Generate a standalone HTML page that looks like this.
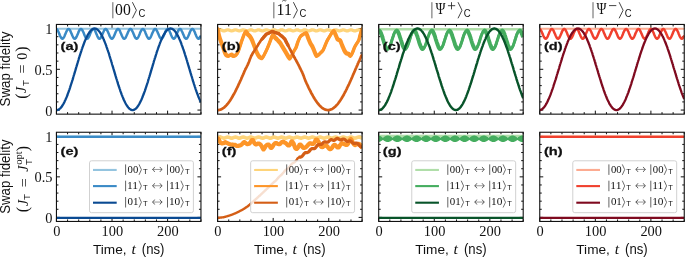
<!DOCTYPE html>
<html><head><meta charset="utf-8"><style>
html,body{margin:0;padding:0;background:#fff;width:685px;height:258px;overflow:hidden}
svg{display:block;will-change:transform}
text{fill:#111}
.tk{font-family:"Liberation Serif",serif;font-size:14.4px}
.xl{font-family:"Liberation Sans",sans-serif;font-size:13.6px}
.yl{font-family:"Liberation Sans",sans-serif;font-size:13.6px}
.ym{font-family:"Liberation Serif",serif;font-size:14px}
.it{font-family:"Liberation Serif",serif;font-style:italic}
.sub{font-family:"Liberation Sans",sans-serif;font-size:9.5px}
.sup{font-family:"Liberation Serif",serif;font-size:9px}
.pl{font-family:"Liberation Sans",sans-serif;font-size:13px;font-weight:bold}
.tt{font-family:"Liberation Serif",serif;font-size:17px}
.ts{font-family:"Liberation Sans",sans-serif;font-size:12.2px}
.tsup{font-family:"Liberation Serif",serif;font-size:13px}
.lg{font-family:"Liberation Serif",serif;font-size:11.4px}
.lgs{font-family:"Liberation Sans",sans-serif;font-size:8px}
.bh{opacity:1}
</style></head><body>
<svg width="685" height="258" viewBox="0 0 685 258">
<path d="M56.45,114.15v-3.50M56.45,24.45v3.50M67.57,114.15v-2.00M67.57,24.45v2.00M78.68,114.15v-2.00M78.68,24.45v2.00M89.80,114.15v-2.00M89.80,24.45v2.00M100.91,114.15v-2.00M100.91,24.45v2.00M112.03,114.15v-3.50M112.03,24.45v3.50M123.14,114.15v-2.00M123.14,24.45v2.00M134.26,114.15v-2.00M134.26,24.45v2.00M145.37,114.15v-2.00M145.37,24.45v2.00M156.49,114.15v-2.00M156.49,24.45v2.00M167.60,114.15v-3.50M167.60,24.45v3.50M178.72,114.15v-2.00M178.72,24.45v2.00M189.83,114.15v-2.00M189.83,24.45v2.00M200.95,114.15v-2.00M200.95,24.45v2.00M56.45,110.07h3.50M200.95,110.07h-3.50M56.45,101.92h2.00M200.95,101.92h-2.00M56.45,93.76h2.00M200.95,93.76h-2.00M56.45,85.61h2.00M200.95,85.61h-2.00M56.45,77.45h2.00M200.95,77.45h-2.00M56.45,69.30h3.50M200.95,69.30h-3.50M56.45,61.15h2.00M200.95,61.15h-2.00M56.45,52.99h2.00M200.95,52.99h-2.00M56.45,44.84h2.00M200.95,44.84h-2.00M56.45,36.68h2.00M200.95,36.68h-2.00M56.45,28.53h3.50M200.95,28.53h-3.50" stroke="#111" stroke-width="1.0" fill="none"/>
<clipPath id="c00"><rect x="56.45" y="24.45" width="144.50" height="89.70"/></clipPath>
<g clip-path="url(#c00)">
<path d="M56.45,28.75H200.95" stroke="#94c4df" stroke-width="2.1"/>
<path d="M56.5,29.1 56.7,29.2 57.0,29.5 57.3,29.8 57.6,30.3 57.9,30.8 58.2,31.4 58.5,32.0 58.8,32.7 59.1,33.4 59.3,34.1 59.6,34.8 59.9,35.5 60.2,36.1 60.5,36.7 60.8,37.3 61.1,37.7 61.4,38.1 61.7,38.4 62.0,38.6 62.2,38.7 62.5,38.7 62.8,38.6 63.1,38.3 63.4,38.0 63.7,37.6 64.0,37.1 64.3,36.6 64.6,35.9 64.8,35.3 65.1,34.6 65.4,33.9 65.7,33.2 66.0,32.5 66.3,31.8 66.6,31.2 66.9,30.6 67.2,30.1 67.5,29.7 67.7,29.4 68.0,29.2 68.3,29.0 68.6,29.0 68.9,29.1 69.2,29.3 69.5,29.6 69.8,29.9 70.1,30.4 70.3,30.9 70.6,31.5 70.9,32.2 71.2,32.9 71.5,33.6 71.8,34.3 72.1,35.0 72.4,35.7 72.7,36.3 73.0,36.9 73.2,37.4 73.5,37.8 73.8,38.2 74.1,38.5 74.4,38.6 74.7,38.7 75.0,38.7 75.3,38.5 75.6,38.3 75.9,37.9 76.1,37.5 76.4,37.0 76.7,36.4 77.0,35.8 77.3,35.1 77.6,34.4 77.9,33.7 78.2,33.0 78.5,32.3 78.7,31.6 79.0,31.0 79.3,30.5 79.6,30.0 79.9,29.6 80.2,29.3 80.5,29.1 80.8,29.0 81.1,29.0 81.4,29.1 81.6,29.3 81.9,29.6 82.2,30.0 82.5,30.5 82.8,31.1 83.1,31.7 83.4,32.3 83.7,33.0 84.0,33.7 84.2,34.5 84.5,35.1 84.8,35.8 85.1,36.4 85.4,37.0 85.7,37.5 86.0,37.9 86.3,38.3 86.6,38.5 86.9,38.7 87.1,38.7 87.4,38.6 87.7,38.5 88.0,38.2 88.3,37.8 88.6,37.4 88.9,36.8 89.2,36.3 89.5,35.6 89.8,34.9 90.0,34.2 90.3,33.5 90.6,32.8 90.9,32.1 91.2,31.5 91.5,30.9 91.8,30.4 92.1,29.9 92.4,29.5 92.6,29.3 92.9,29.1 93.2,29.0 93.5,29.0 93.8,29.2 94.1,29.4 94.4,29.7 94.7,30.1 95.0,30.6 95.3,31.2 95.5,31.8 95.8,32.5 96.1,33.2 96.4,33.9 96.7,34.6 97.0,35.3 97.3,36.0 97.6,36.6 97.9,37.2 98.1,37.6 98.4,38.0 98.7,38.4 99.0,38.6 99.3,38.7 99.6,38.7 99.9,38.6 100.2,38.4 100.5,38.1 100.8,37.7 101.0,37.2 101.3,36.7 101.6,36.1 101.9,35.4 102.2,34.8 102.5,34.1 102.8,33.3 103.1,32.6 103.4,32.0 103.7,31.3 103.9,30.8 104.2,30.2 104.5,29.8 104.8,29.5 105.1,29.2 105.4,29.0 105.7,29.0 106.0,29.1 106.3,29.2 106.5,29.5 106.8,29.8 107.1,30.3 107.4,30.8 107.7,31.4 108.0,32.0 108.3,32.7 108.6,33.4 108.9,34.1 109.2,34.8 109.4,35.5 109.7,36.1 110.0,36.7 110.3,37.3 110.6,37.7 110.9,38.1 111.2,38.4 111.5,38.6 111.8,38.7 112.0,38.7 112.3,38.6 112.6,38.3 112.9,38.0 113.2,37.6 113.5,37.1 113.8,36.6 114.1,35.9 114.4,35.3 114.7,34.6 114.9,33.9 115.2,33.2 115.5,32.5 115.8,31.8 116.1,31.2 116.4,30.6 116.7,30.1 117.0,29.7 117.3,29.4 117.6,29.2 117.8,29.0 118.1,29.0 118.4,29.1 118.7,29.3 119.0,29.6 119.3,29.9 119.6,30.4 119.9,30.9 120.2,31.5 120.4,32.2 120.7,32.9 121.0,33.6 121.3,34.3 121.6,35.0 121.9,35.7 122.2,36.3 122.5,36.9 122.8,37.4 123.1,37.8 123.3,38.2 123.6,38.5 123.9,38.6 124.2,38.7 124.5,38.7 124.8,38.5 125.1,38.3 125.4,37.9 125.7,37.5 125.9,37.0 126.2,36.4 126.5,35.8 126.8,35.1 127.1,34.4 127.4,33.7 127.7,33.0 128.0,32.3 128.3,31.6 128.6,31.0 128.8,30.5 129.1,30.0 129.4,29.6 129.7,29.3 130.0,29.1 130.3,29.0 130.6,29.0 130.9,29.1 131.2,29.3 131.5,29.6 131.7,30.0 132.0,30.5 132.3,31.1 132.6,31.7 132.9,32.3 133.2,33.0 133.5,33.7 133.8,34.4 134.1,35.1 134.3,35.8 134.6,36.4 134.9,37.0 135.2,37.5 135.5,37.9 135.8,38.3 136.1,38.5 136.4,38.7 136.7,38.7 137.0,38.6 137.2,38.5 137.5,38.2 137.8,37.8 138.1,37.4 138.4,36.9 138.7,36.3 139.0,35.6 139.3,34.9 139.6,34.2 139.8,33.5 140.1,32.8 140.4,32.1 140.7,31.5 141.0,30.9 141.3,30.4 141.6,29.9 141.9,29.5 142.2,29.3 142.5,29.1 142.7,29.0 143.0,29.0 143.3,29.2 143.6,29.4 143.9,29.7 144.2,30.1 144.5,30.6 144.8,31.2 145.1,31.8 145.4,32.5 145.6,33.2 145.9,33.9 146.2,34.6 146.5,35.3 146.8,36.0 147.1,36.6 147.4,37.1 147.7,37.6 148.0,38.0 148.2,38.3 148.5,38.6 148.8,38.7 149.1,38.7 149.4,38.6 149.7,38.4 150.0,38.1 150.3,37.7 150.6,37.3 150.9,36.7 151.1,36.1 151.4,35.5 151.7,34.8 152.0,34.1 152.3,33.3 152.6,32.6 152.9,32.0 153.2,31.3 153.5,30.8 153.7,30.2 154.0,29.8 154.3,29.5 154.6,29.2 154.9,29.0 155.2,29.0 155.5,29.1 155.8,29.2 156.1,29.5 156.4,29.8 156.6,30.3 156.9,30.8 157.2,31.4 157.5,32.0 157.8,32.7 158.1,33.4 158.4,34.1 158.7,34.8 159.0,35.5 159.3,36.1 159.5,36.7 159.8,37.3 160.1,37.7 160.4,38.1 160.7,38.4 161.0,38.6 161.3,38.7 161.6,38.7 161.9,38.6 162.1,38.3 162.4,38.0 162.7,37.6 163.0,37.1 163.3,36.6 163.6,35.9 163.9,35.3 164.2,34.6 164.5,33.9 164.8,33.2 165.0,32.5 165.3,31.8 165.6,31.2 165.9,30.6 166.2,30.1 166.5,29.7 166.8,29.4 167.1,29.2 167.4,29.0 167.6,29.0 167.9,29.1 168.2,29.3 168.5,29.5 168.8,29.9 169.1,30.4 169.4,30.9 169.7,31.5 170.0,32.2 170.3,32.8 170.5,33.6 170.8,34.3 171.1,35.0 171.4,35.6 171.7,36.3 172.0,36.9 172.3,37.4 172.6,37.8 172.9,38.2 173.2,38.5 173.4,38.6 173.7,38.7 174.0,38.7 174.3,38.5 174.6,38.3 174.9,37.9 175.2,37.5 175.5,37.0 175.8,36.4 176.0,35.8 176.3,35.1 176.6,34.4 176.9,33.7 177.2,33.0 177.5,32.3 177.8,31.6 178.1,31.0 178.4,30.5 178.7,30.0 178.9,29.6 179.2,29.3 179.5,29.1 179.8,29.0 180.1,29.0 180.4,29.1 180.7,29.3 181.0,29.6 181.3,30.0 181.5,30.5 181.8,31.1 182.1,31.7 182.4,32.3 182.7,33.0 183.0,33.7 183.3,34.4 183.6,35.1 183.9,35.8 184.2,36.4 184.4,37.0 184.7,37.5 185.0,37.9 185.3,38.3 185.6,38.5 185.9,38.7 186.2,38.7 186.5,38.6 186.8,38.5 187.1,38.2 187.3,37.8 187.6,37.4 187.9,36.9 188.2,36.3 188.5,35.6 188.8,34.9 189.1,34.2 189.4,33.5 189.7,32.8 189.9,32.1 190.2,31.5 190.5,30.9 190.8,30.4 191.1,29.9 191.4,29.5 191.7,29.3 192.0,29.1 192.3,29.0 192.6,29.0 192.8,29.2 193.1,29.4 193.4,29.7 193.7,30.1 194.0,30.6 194.3,31.2 194.6,31.8 194.9,32.5 195.2,33.2 195.4,33.9 195.7,34.6 196.0,35.3 196.3,36.0 196.6,36.6 196.9,37.1 197.2,37.6 197.5,38.0 197.8,38.3 198.1,38.6 198.3,38.7 198.6,38.7 198.9,38.6 199.2,38.4 199.5,38.1 199.8,37.7 200.1,37.3 200.4,36.7 200.7,36.1 200.9,35.5" fill="none" stroke="#3a8ac6" stroke-width="2.5" stroke-linejoin="round"/>
<path d="M56.5,110.1 56.7,110.1 57.0,110.1 57.3,110.0 57.6,110.0 57.9,109.9 58.2,109.8 58.5,109.6 58.8,109.5 59.1,109.3 59.3,109.1 59.6,108.9 59.9,108.6 60.2,108.4 60.5,108.1 60.8,107.8 61.1,107.4 61.4,107.1 61.7,106.7 62.0,106.3 62.2,105.9 62.5,105.4 62.8,104.9 63.1,104.5 63.4,104.0 63.7,103.4 64.0,102.9 64.3,102.3 64.6,101.7 64.8,101.1 65.1,100.5 65.4,99.9 65.7,99.2 66.0,98.6 66.3,97.9 66.6,97.2 66.9,96.4 67.2,95.7 67.5,95.0 67.7,94.2 68.0,93.4 68.3,92.6 68.6,91.8 68.9,91.0 69.2,90.1 69.5,89.3 69.8,88.4 70.1,87.6 70.3,86.7 70.6,85.8 70.9,84.9 71.2,84.0 71.5,83.1 71.8,82.2 72.1,81.2 72.4,80.3 72.7,79.4 73.0,78.4 73.2,77.4 73.5,76.5 73.8,75.5 74.1,74.6 74.4,73.6 74.7,72.6 75.0,71.6 75.3,70.7 75.6,69.7 75.9,68.7 76.1,67.7 76.4,66.8 76.7,65.8 77.0,64.8 77.3,63.8 77.6,62.9 77.9,61.9 78.2,60.9 78.5,60.0 78.7,59.0 79.0,58.1 79.3,57.2 79.6,56.2 79.9,55.3 80.2,54.4 80.5,53.5 80.8,52.6 81.1,51.7 81.4,50.8 81.6,50.0 81.9,49.1 82.2,48.3 82.5,47.4 82.8,46.6 83.1,45.8 83.4,45.0 83.7,44.2 84.0,43.5 84.2,42.7 84.5,42.0 84.8,41.3 85.1,40.6 85.4,39.9 85.7,39.2 86.0,38.6 86.3,37.9 86.6,37.3 86.9,36.7 87.1,36.1 87.4,35.6 87.7,35.0 88.0,34.5 88.3,34.0 88.6,33.5 88.9,33.1 89.2,32.6 89.5,32.2 89.8,31.8 90.0,31.5 90.3,31.1 90.6,30.8 90.9,30.5 91.2,30.2 91.5,29.9 91.8,29.7 92.1,29.5 92.4,29.3 92.6,29.1 92.9,28.9 93.2,28.8 93.5,28.7 93.8,28.6 94.1,28.6 94.4,28.5 94.7,28.5 95.0,28.5 95.3,28.6 95.5,28.6 95.8,28.7 96.1,28.8 96.4,29.0 96.7,29.1 97.0,29.3 97.3,29.5 97.6,29.7 97.9,30.0 98.1,30.2 98.4,30.5 98.7,30.8 99.0,31.2 99.3,31.5 99.6,31.9 99.9,32.3 100.2,32.7 100.5,33.2 100.8,33.6 101.0,34.1 101.3,34.6 101.6,35.1 101.9,35.7 102.2,36.2 102.5,36.8 102.8,37.4 103.1,38.0 103.4,38.7 103.7,39.3 103.9,40.0 104.2,40.7 104.5,41.4 104.8,42.1 105.1,42.9 105.4,43.6 105.7,44.4 106.0,45.2 106.3,45.9 106.5,46.8 106.8,47.6 107.1,48.4 107.4,49.3 107.7,50.1 108.0,51.0 108.3,51.9 108.6,52.7 108.9,53.6 109.2,54.5 109.4,55.5 109.7,56.4 110.0,57.3 110.3,58.3 110.6,59.2 110.9,60.2 111.2,61.1 111.5,62.1 111.8,63.0 112.0,64.0 112.3,65.0 112.6,65.9 112.9,66.9 113.2,67.9 113.5,68.9 113.8,69.8 114.1,70.8 114.4,71.8 114.7,72.8 114.9,73.7 115.2,74.7 115.5,75.7 115.8,76.6 116.1,77.6 116.4,78.6 116.7,79.5 117.0,80.5 117.3,81.4 117.6,82.3 117.8,83.2 118.1,84.2 118.4,85.1 118.7,86.0 119.0,86.8 119.3,87.7 119.6,88.6 119.9,89.4 120.2,90.3 120.4,91.1 120.7,91.9 121.0,92.7 121.3,93.5 121.6,94.3 121.9,95.1 122.2,95.8 122.5,96.6 122.8,97.3 123.1,98.0 123.3,98.7 123.6,99.3 123.9,100.0 124.2,100.6 124.5,101.2 124.8,101.8 125.1,102.4 125.4,103.0 125.7,103.5 125.9,104.0 126.2,104.5 126.5,105.0 126.8,105.5 127.1,105.9 127.4,106.3 127.7,106.7 128.0,107.1 128.3,107.5 128.6,107.8 128.8,108.1 129.1,108.4 129.4,108.7 129.7,108.9 130.0,109.1 130.3,109.3 130.6,109.5 130.9,109.7 131.2,109.8 131.5,109.9 131.7,110.0 132.0,110.0 132.3,110.1 132.6,110.1 132.9,110.1 133.2,110.0 133.5,110.0 133.8,109.9 134.1,109.8 134.3,109.6 134.6,109.5 134.9,109.3 135.2,109.1 135.5,108.9 135.8,108.7 136.1,108.4 136.4,108.1 136.7,107.8 137.0,107.5 137.2,107.1 137.5,106.7 137.8,106.3 138.1,105.9 138.4,105.5 138.7,105.0 139.0,104.5 139.3,104.0 139.6,103.5 139.8,102.9 140.1,102.4 140.4,101.8 140.7,101.2 141.0,100.6 141.3,100.0 141.6,99.3 141.9,98.6 142.2,97.9 142.5,97.2 142.7,96.5 143.0,95.8 143.3,95.0 143.6,94.3 143.9,93.5 144.2,92.7 144.5,91.9 144.8,91.1 145.1,90.2 145.4,89.4 145.6,88.5 145.9,87.7 146.2,86.8 146.5,85.9 146.8,85.0 147.1,84.1 147.4,83.2 147.7,82.3 148.0,81.3 148.2,80.4 148.5,79.4 148.8,78.5 149.1,77.5 149.4,76.6 149.7,75.6 150.0,74.7 150.3,73.7 150.6,72.7 150.9,71.7 151.1,70.8 151.4,69.8 151.7,68.8 152.0,67.8 152.3,66.9 152.6,65.9 152.9,64.9 153.2,63.9 153.5,63.0 153.7,62.0 154.0,61.0 154.3,60.1 154.6,59.1 154.9,58.2 155.2,57.3 155.5,56.3 155.8,55.4 156.1,54.5 156.4,53.6 156.6,52.7 156.9,51.8 157.2,50.9 157.5,50.1 157.8,49.2 158.1,48.4 158.4,47.5 158.7,46.7 159.0,45.9 159.3,45.1 159.5,44.3 159.8,43.6 160.1,42.8 160.4,42.1 160.7,41.4 161.0,40.6 161.3,40.0 161.6,39.3 161.9,38.6 162.1,38.0 162.4,37.4 162.7,36.8 163.0,36.2 163.3,35.6 163.6,35.1 163.9,34.6 164.2,34.1 164.5,33.6 164.8,33.1 165.0,32.7 165.3,32.3 165.6,31.9 165.9,31.5 166.2,31.1 166.5,30.8 166.8,30.5 167.1,30.2 167.4,29.9 167.6,29.7 167.9,29.5 168.2,29.3 168.5,29.1 168.8,29.0 169.1,28.8 169.4,28.7 169.7,28.6 170.0,28.6 170.3,28.5 170.5,28.5 170.8,28.5 171.1,28.6 171.4,28.6 171.7,28.7 172.0,28.8 172.3,28.9 172.6,29.1 172.9,29.3 173.2,29.5 173.4,29.7 173.7,29.9 174.0,30.2 174.3,30.5 174.6,30.8 174.9,31.1 175.2,31.5 175.5,31.9 175.8,32.3 176.0,32.7 176.3,33.1 176.6,33.6 176.9,34.1 177.2,34.6 177.5,35.1 177.8,35.6 178.1,36.2 178.4,36.8 178.7,37.4 178.9,38.0 179.2,38.6 179.5,39.3 179.8,39.9 180.1,40.6 180.4,41.3 180.7,42.0 181.0,42.8 181.3,43.5 181.5,44.3 181.8,45.1 182.1,45.9 182.4,46.7 182.7,47.5 183.0,48.3 183.3,49.2 183.6,50.0 183.9,50.9 184.2,51.8 184.4,52.7 184.7,53.5 185.0,54.5 185.3,55.4 185.6,56.3 185.9,57.2 186.2,58.2 186.5,59.1 186.8,60.1 187.1,61.0 187.3,62.0 187.6,62.9 187.9,63.9 188.2,64.9 188.5,65.8 188.8,66.8 189.1,67.8 189.4,68.8 189.7,69.7 189.9,70.7 190.2,71.7 190.5,72.7 190.8,73.6 191.1,74.6 191.4,75.6 191.7,76.5 192.0,77.5 192.3,78.5 192.6,79.4 192.8,80.4 193.1,81.3 193.4,82.2 193.7,83.1 194.0,84.1 194.3,85.0 194.6,85.9 194.9,86.8 195.2,87.6 195.4,88.5 195.7,89.4 196.0,90.2 196.3,91.0 196.6,91.9 196.9,92.7 197.2,93.5 197.5,94.2 197.8,95.0 198.1,95.8 198.3,96.5 198.6,97.2 198.9,97.9 199.2,98.6 199.5,99.3 199.8,99.9 200.1,100.6 200.4,101.2 200.7,101.8 200.9,102.4" fill="none" stroke="#0a4a92" stroke-width="2.3" stroke-linejoin="round"/>
</g>
<rect x="56.45" y="24.45" width="144.50" height="89.70" fill="none" stroke="#111" stroke-width="1.1"/>
<text transform="translate(60.62,49.95) scale(1.2380,1)" style="font-family:'Liberation Sans',sans-serif;font-weight:bold;font-size:11.801px;fill:#111;stroke:#111;stroke-width:0.25px">(a)</text>
<path d="M217.60,114.15v-3.50M217.60,24.45v3.50M228.72,114.15v-2.00M228.72,24.45v2.00M239.83,114.15v-2.00M239.83,24.45v2.00M250.95,114.15v-2.00M250.95,24.45v2.00M262.06,114.15v-2.00M262.06,24.45v2.00M273.18,114.15v-3.50M273.18,24.45v3.50M284.29,114.15v-2.00M284.29,24.45v2.00M295.41,114.15v-2.00M295.41,24.45v2.00M306.52,114.15v-2.00M306.52,24.45v2.00M317.64,114.15v-2.00M317.64,24.45v2.00M328.75,114.15v-3.50M328.75,24.45v3.50M339.87,114.15v-2.00M339.87,24.45v2.00M350.98,114.15v-2.00M350.98,24.45v2.00M362.10,114.15v-2.00M362.10,24.45v2.00M217.60,110.07h3.50M362.10,110.07h-3.50M217.60,101.92h2.00M362.10,101.92h-2.00M217.60,93.76h2.00M362.10,93.76h-2.00M217.60,85.61h2.00M362.10,85.61h-2.00M217.60,77.45h2.00M362.10,77.45h-2.00M217.60,69.30h3.50M362.10,69.30h-3.50M217.60,61.15h2.00M362.10,61.15h-2.00M217.60,52.99h2.00M362.10,52.99h-2.00M217.60,44.84h2.00M362.10,44.84h-2.00M217.60,36.68h2.00M362.10,36.68h-2.00M217.60,28.53h3.50M362.10,28.53h-3.50" stroke="#111" stroke-width="1.0" fill="none"/>
<clipPath id="c10"><rect x="217.60" y="24.45" width="144.50" height="89.70"/></clipPath>
<g clip-path="url(#c10)">
<path d="M217.6,30.6 217.8,30.5 218.1,30.4 218.3,30.3 218.6,30.2 218.8,30.1 219.0,30.0 219.3,29.9 219.5,29.9 219.8,29.9 220.0,29.9 220.3,29.9 220.5,29.9 220.7,29.9 221.0,30.0 221.2,30.1 221.5,30.1 221.7,30.2 221.9,30.3 222.2,30.4 222.4,30.5 222.7,30.6 222.9,30.7 223.1,30.8 223.4,30.8 223.6,30.8 223.9,30.8 224.1,30.8 224.4,30.8 224.6,30.8 224.8,30.7 225.1,30.6 225.3,30.6 225.6,30.5 225.8,30.4 226.0,30.3 226.3,30.2 226.5,30.1 226.8,30.0 227.0,29.9 227.2,29.9 227.5,29.9 227.7,29.9 228.0,29.9 228.2,29.9 228.5,29.9 228.7,30.0 228.9,30.1 229.2,30.1 229.4,30.2 229.7,30.3 229.9,30.4 230.1,30.5 230.4,30.6 230.6,30.7 230.9,30.8 231.1,30.8 231.4,30.8 231.6,30.8 231.8,30.8 232.1,30.8 232.3,30.8 232.6,30.7 232.8,30.6 233.0,30.6 233.3,30.5 233.5,30.4 233.8,30.3 234.0,30.2 234.2,30.1 234.5,30.0 234.7,29.9 235.0,29.9 235.2,29.9 235.5,29.9 235.7,29.9 235.9,29.9 236.2,29.9 236.4,30.0 236.7,30.1 236.9,30.2 237.1,30.2 237.4,30.3 237.6,30.4 237.9,30.5 238.1,30.6 238.3,30.7 238.6,30.8 238.8,30.8 239.1,30.8 239.3,30.8 239.6,30.8 239.8,30.8 240.0,30.8 240.3,30.7 240.5,30.6 240.8,30.5 241.0,30.5 241.2,30.4 241.5,30.3 241.7,30.2 242.0,30.1 242.2,30.0 242.4,29.9 242.7,29.9 242.9,29.9 243.2,29.9 243.4,29.9 243.7,29.9 243.9,29.9 244.1,30.0 244.4,30.1 244.6,30.2 244.9,30.3 245.1,30.4 245.3,30.4 245.6,30.5 245.8,30.6 246.1,30.7 246.3,30.8 246.5,30.8 246.8,30.8 247.0,30.8 247.3,30.8 247.5,30.8 247.8,30.8 248.0,30.7 248.2,30.6 248.5,30.5 248.7,30.4 249.0,30.3 249.2,30.2 249.4,30.2 249.7,30.1 249.9,30.0 250.2,29.9 250.4,29.9 250.6,29.9 250.9,29.9 251.1,29.9 251.4,29.9 251.6,29.9 251.9,30.0 252.1,30.1 252.3,30.2 252.6,30.3 252.8,30.4 253.1,30.5 253.3,30.5 253.5,30.6 253.8,30.7 254.0,30.8 254.3,30.8 254.5,30.8 254.8,30.8 255.0,30.8 255.2,30.8 255.5,30.8 255.7,30.7 256.0,30.6 256.2,30.5 256.4,30.4 256.7,30.3 256.9,30.2 257.2,30.1 257.4,30.1 257.6,30.0 257.9,29.9 258.1,29.9 258.4,29.9 258.6,29.9 258.9,29.9 259.1,29.9 259.3,29.9 259.6,30.0 259.8,30.1 260.1,30.2 260.3,30.3 260.5,30.4 260.8,30.5 261.0,30.6 261.3,30.6 261.5,30.7 261.7,30.8 262.0,30.8 262.2,30.8 262.5,30.8 262.7,30.8 263.0,30.8 263.2,30.8 263.4,30.7 263.7,30.6 263.9,30.5 264.2,30.4 264.4,30.3 264.6,30.2 264.9,30.1 265.1,30.1 265.4,30.0 265.6,29.9 265.8,29.9 266.1,29.9 266.3,29.9 266.6,29.9 266.8,29.9 267.1,29.9 267.3,30.0 267.5,30.1 267.8,30.2 268.0,30.3 268.3,30.4 268.5,30.5 268.7,30.6 269.0,30.6 269.2,30.7 269.5,30.8 269.7,30.8 269.9,30.8 270.2,30.8 270.4,30.8 270.7,30.8 270.9,30.8 271.2,30.7 271.4,30.6 271.6,30.5 271.9,30.4 272.1,30.3 272.4,30.2 272.6,30.1 272.8,30.0 273.1,30.0 273.3,29.9 273.6,29.9 273.8,29.9 274.0,29.9 274.3,29.9 274.5,29.9 274.8,30.0 275.0,30.0 275.3,30.1 275.5,30.2 275.7,30.3 276.0,30.4 276.2,30.5 276.5,30.6 276.7,30.7 276.9,30.7 277.2,30.8 277.4,30.8 277.7,30.8 277.9,30.8 278.2,30.8 278.4,30.8 278.6,30.7 278.9,30.7 279.1,30.6 279.4,30.5 279.6,30.4 279.8,30.3 280.1,30.2 280.3,30.1 280.6,30.0 280.8,30.0 281.0,29.9 281.3,29.9 281.5,29.9 281.8,29.9 282.0,29.9 282.3,29.9 282.5,30.0 282.7,30.0 283.0,30.1 283.2,30.2 283.5,30.3 283.7,30.4 283.9,30.5 284.2,30.6 284.4,30.7 284.7,30.7 284.9,30.8 285.1,30.8 285.4,30.8 285.6,30.8 285.9,30.8 286.1,30.8 286.4,30.7 286.6,30.7 286.8,30.6 287.1,30.5 287.3,30.4 287.6,30.3 287.8,30.2 288.0,30.1 288.3,30.0 288.5,30.0 288.8,29.9 289.0,29.9 289.2,29.9 289.5,29.9 289.7,29.9 290.0,29.9 290.2,30.0 290.5,30.0 290.7,30.1 290.9,30.2 291.2,30.3 291.4,30.4 291.7,30.5 291.9,30.6 292.1,30.7 292.4,30.7 292.6,30.8 292.9,30.8 293.1,30.8 293.3,30.8 293.6,30.8 293.8,30.8 294.1,30.7 294.3,30.7 294.6,30.6 294.8,30.5 295.0,30.4 295.3,30.3 295.5,30.2 295.8,30.1 296.0,30.0 296.2,30.0 296.5,29.9 296.7,29.9 297.0,29.9 297.2,29.9 297.4,29.9 297.7,29.9 297.9,30.0 298.2,30.0 298.4,30.1 298.7,30.2 298.9,30.3 299.1,30.4 299.4,30.5 299.6,30.6 299.9,30.7 300.1,30.7 300.3,30.8 300.6,30.8 300.8,30.8 301.1,30.8 301.3,30.8 301.5,30.8 301.8,30.7 302.0,30.7 302.3,30.6 302.5,30.5 302.8,30.4 303.0,30.3 303.2,30.2 303.5,30.1 303.7,30.0 304.0,30.0 304.2,29.9 304.4,29.9 304.7,29.9 304.9,29.9 305.2,29.9 305.4,29.9 305.7,30.0 305.9,30.0 306.1,30.1 306.4,30.2 306.6,30.3 306.9,30.4 307.1,30.5 307.3,30.6 307.6,30.7 307.8,30.7 308.1,30.8 308.3,30.8 308.5,30.8 308.8,30.8 309.0,30.8 309.3,30.8 309.5,30.7 309.8,30.7 310.0,30.6 310.2,30.5 310.5,30.4 310.7,30.3 311.0,30.2 311.2,30.1 311.4,30.0 311.7,30.0 311.9,29.9 312.2,29.9 312.4,29.9 312.6,29.9 312.9,29.9 313.1,29.9 313.4,30.0 313.6,30.1 313.9,30.1 314.1,30.2 314.3,30.3 314.6,30.4 314.8,30.5 315.1,30.6 315.3,30.7 315.5,30.8 315.8,30.8 316.0,30.8 316.3,30.8 316.5,30.8 316.7,30.8 317.0,30.8 317.2,30.7 317.5,30.6 317.7,30.6 318.0,30.5 318.2,30.4 318.4,30.3 318.7,30.2 318.9,30.1 319.2,30.0 319.4,29.9 319.6,29.9 319.9,29.9 320.1,29.9 320.4,29.9 320.6,29.9 320.8,29.9 321.1,30.0 321.3,30.1 321.6,30.1 321.8,30.2 322.1,30.3 322.3,30.4 322.5,30.5 322.8,30.6 323.0,30.7 323.3,30.8 323.5,30.8 323.7,30.8 324.0,30.8 324.2,30.8 324.5,30.8 324.7,30.8 324.9,30.7 325.2,30.6 325.4,30.6 325.7,30.5 325.9,30.4 326.2,30.3 326.4,30.2 326.6,30.1 326.9,30.0 327.1,29.9 327.4,29.9 327.6,29.9 327.8,29.9 328.1,29.9 328.3,29.9 328.6,29.9 328.8,30.0 329.1,30.1 329.3,30.1 329.5,30.2 329.8,30.3 330.0,30.4 330.3,30.5 330.5,30.6 330.7,30.7 331.0,30.8 331.2,30.8 331.5,30.8 331.7,30.8 331.9,30.8 332.2,30.8 332.4,30.8 332.7,30.7 332.9,30.6 333.2,30.5 333.4,30.5 333.6,30.4 333.9,30.3 334.1,30.2 334.4,30.1 334.6,30.0 334.8,29.9 335.1,29.9 335.3,29.9 335.6,29.9 335.8,29.9 336.0,29.9 336.3,29.9 336.5,30.0 336.8,30.1 337.0,30.2 337.3,30.2 337.5,30.3 337.7,30.4 338.0,30.5 338.2,30.6 338.5,30.7 338.7,30.8 338.9,30.8 339.2,30.8 339.4,30.8 339.7,30.8 339.9,30.8 340.1,30.8 340.4,30.7 340.6,30.6 340.9,30.5 341.1,30.4 341.4,30.3 341.6,30.3 341.8,30.2 342.1,30.1 342.3,30.0 342.6,29.9 342.8,29.9 343.0,29.9 343.3,29.9 343.5,29.9 343.8,29.9 344.0,29.9 344.2,30.0 344.5,30.1 344.7,30.2 345.0,30.3 345.2,30.4 345.5,30.5 345.7,30.5 345.9,30.6 346.2,30.7 346.4,30.8 346.7,30.8 346.9,30.8 347.1,30.8 347.4,30.8 347.6,30.8 347.9,30.8 348.1,30.7 348.3,30.6 348.6,30.5 348.8,30.4 349.1,30.3 349.3,30.2 349.6,30.1 349.8,30.1 350.0,30.0 350.3,29.9 350.5,29.9 350.8,29.9 351.0,29.9 351.2,29.9 351.5,29.9 351.7,29.9 352.0,30.0 352.2,30.1 352.5,30.2 352.7,30.3 352.9,30.4 353.2,30.5 353.4,30.6 353.7,30.6 353.9,30.7 354.1,30.8 354.4,30.8 354.6,30.8 354.9,30.8 355.1,30.8 355.3,30.8 355.6,30.8 355.8,30.7 356.1,30.6 356.3,30.5 356.6,30.4 356.8,30.3 357.0,30.2 357.3,30.1 357.5,30.1 357.8,30.0 358.0,29.9 358.2,29.9 358.5,29.9 358.7,29.9 359.0,29.9 359.2,29.9 359.4,29.9 359.7,30.0 359.9,30.1 360.2,30.2 360.4,30.3 360.7,30.4 360.9,30.5 361.1,30.6 361.4,30.6 361.6,30.7 361.9,30.8 362.1,30.8" fill="none" stroke="#fed47a" stroke-width="3.3" stroke-linejoin="round"/>
<path d="M217.00,28.50C217.12,28.67 217.40,28.52 217.70,29.50C218.00,30.48 218.43,32.88 218.80,34.40C219.17,35.92 219.55,37.45 219.90,38.60C220.25,39.75 220.38,39.92 220.90,41.30C221.42,42.68 222.30,44.92 223.00,46.90C223.70,48.88 224.52,51.82 225.10,53.20C225.68,54.58 225.92,54.73 226.50,55.20C227.08,55.67 227.80,56.10 228.60,56.00C229.40,55.90 230.50,54.60 231.30,54.60C232.10,54.60 232.70,55.88 233.40,56.00C234.10,56.12 234.98,55.55 235.50,55.30C236.02,55.05 236.07,55.08 236.50,54.50C236.93,53.92 237.48,53.30 238.10,51.80C238.72,50.30 239.50,47.58 240.20,45.50C240.90,43.42 241.60,41.27 242.30,39.30C243.00,37.33 243.82,34.98 244.40,33.70C244.98,32.42 245.22,31.48 245.80,31.60C246.38,31.72 247.20,33.58 247.90,34.40C248.60,35.22 249.32,35.57 250.00,36.50C250.68,37.43 251.32,38.50 252.00,40.00C252.68,41.50 253.40,43.65 254.10,45.50C254.80,47.35 255.50,49.47 256.20,51.10C256.90,52.73 257.65,54.25 258.30,55.30C258.95,56.35 259.45,56.93 260.10,57.40C260.75,57.87 261.50,58.57 262.20,58.10C262.90,57.63 263.60,55.88 264.30,54.60C265.00,53.32 265.70,51.92 266.40,50.40C267.10,48.88 267.80,47.23 268.50,45.50C269.20,43.77 269.92,41.75 270.60,40.00C271.28,38.25 271.92,35.47 272.60,35.00C273.28,34.53 273.88,36.37 274.70,37.20C275.52,38.03 276.62,39.08 277.50,40.00C278.38,40.92 279.23,41.67 280.00,42.70C280.77,43.73 281.40,45.03 282.10,46.20C282.80,47.37 283.50,48.53 284.20,49.70C284.90,50.87 285.60,52.03 286.30,53.20C287.00,54.37 287.78,55.80 288.40,56.70C289.02,57.60 289.42,58.83 290.00,58.60C290.58,58.37 291.25,56.55 291.90,55.30C292.55,54.05 293.22,52.38 293.90,51.10C294.58,49.82 295.30,49.23 296.00,47.60C296.70,45.97 297.40,43.10 298.10,41.30C298.80,39.50 299.53,37.83 300.20,36.80C300.87,35.77 301.43,35.62 302.10,35.10C302.77,34.58 303.50,33.97 304.20,33.70C304.90,33.43 305.60,32.68 306.30,33.50C307.00,34.32 307.70,36.95 308.40,38.60C309.10,40.25 309.80,42.02 310.50,43.40C311.20,44.78 311.92,45.50 312.60,46.90C313.28,48.30 313.95,50.32 314.60,51.80C315.25,53.28 315.87,55.27 316.50,55.80C317.13,56.33 317.67,55.55 318.40,55.00C319.13,54.45 320.13,53.27 320.90,52.50C321.67,51.73 322.30,51.57 323.00,50.40C323.70,49.23 324.40,47.13 325.10,45.50C325.80,43.87 326.52,41.98 327.20,40.60C327.88,39.22 328.52,38.35 329.20,37.20C329.88,36.05 330.60,34.75 331.30,33.70C332.00,32.65 332.70,30.78 333.40,30.90C334.10,31.02 334.80,33.00 335.50,34.40C336.20,35.80 336.83,38.27 337.60,39.30C338.37,40.33 339.33,39.57 340.10,40.60C340.87,41.63 341.50,43.87 342.20,45.50C342.90,47.13 343.60,49.12 344.30,50.40C345.00,51.68 345.70,52.62 346.40,53.20C347.10,53.78 347.80,53.43 348.50,53.90C349.20,54.37 349.92,56.23 350.60,56.00C351.28,55.77 351.92,54.02 352.60,52.50C353.28,50.98 354.00,48.42 354.70,46.90C355.40,45.38 356.10,44.57 356.80,43.40C357.50,42.23 358.32,41.40 358.90,39.90C359.48,38.40 359.83,36.02 360.30,34.40C360.77,32.78 361.17,31.43 361.70,30.20C362.23,28.97 363.20,27.53 363.50,27.00" fill="none" stroke="#fd9528" stroke-width="3.1" stroke-linejoin="round" transform="translate(0.35,-0.55)"/>
<path d="M217.00,28.50C217.12,28.67 217.40,28.52 217.70,29.50C218.00,30.48 218.43,32.88 218.80,34.40C219.17,35.92 219.55,37.45 219.90,38.60C220.25,39.75 220.38,39.92 220.90,41.30C221.42,42.68 222.30,44.92 223.00,46.90C223.70,48.88 224.52,51.82 225.10,53.20C225.68,54.58 225.92,54.73 226.50,55.20C227.08,55.67 227.80,56.10 228.60,56.00C229.40,55.90 230.50,54.60 231.30,54.60C232.10,54.60 232.70,55.88 233.40,56.00C234.10,56.12 234.98,55.55 235.50,55.30C236.02,55.05 236.07,55.08 236.50,54.50C236.93,53.92 237.48,53.30 238.10,51.80C238.72,50.30 239.50,47.58 240.20,45.50C240.90,43.42 241.60,41.27 242.30,39.30C243.00,37.33 243.82,34.98 244.40,33.70C244.98,32.42 245.22,31.48 245.80,31.60C246.38,31.72 247.20,33.58 247.90,34.40C248.60,35.22 249.32,35.57 250.00,36.50C250.68,37.43 251.32,38.50 252.00,40.00C252.68,41.50 253.40,43.65 254.10,45.50C254.80,47.35 255.50,49.47 256.20,51.10C256.90,52.73 257.65,54.25 258.30,55.30C258.95,56.35 259.45,56.93 260.10,57.40C260.75,57.87 261.50,58.57 262.20,58.10C262.90,57.63 263.60,55.88 264.30,54.60C265.00,53.32 265.70,51.92 266.40,50.40C267.10,48.88 267.80,47.23 268.50,45.50C269.20,43.77 269.92,41.75 270.60,40.00C271.28,38.25 271.92,35.47 272.60,35.00C273.28,34.53 273.88,36.37 274.70,37.20C275.52,38.03 276.62,39.08 277.50,40.00C278.38,40.92 279.23,41.67 280.00,42.70C280.77,43.73 281.40,45.03 282.10,46.20C282.80,47.37 283.50,48.53 284.20,49.70C284.90,50.87 285.60,52.03 286.30,53.20C287.00,54.37 287.78,55.80 288.40,56.70C289.02,57.60 289.42,58.83 290.00,58.60C290.58,58.37 291.25,56.55 291.90,55.30C292.55,54.05 293.22,52.38 293.90,51.10C294.58,49.82 295.30,49.23 296.00,47.60C296.70,45.97 297.40,43.10 298.10,41.30C298.80,39.50 299.53,37.83 300.20,36.80C300.87,35.77 301.43,35.62 302.10,35.10C302.77,34.58 303.50,33.97 304.20,33.70C304.90,33.43 305.60,32.68 306.30,33.50C307.00,34.32 307.70,36.95 308.40,38.60C309.10,40.25 309.80,42.02 310.50,43.40C311.20,44.78 311.92,45.50 312.60,46.90C313.28,48.30 313.95,50.32 314.60,51.80C315.25,53.28 315.87,55.27 316.50,55.80C317.13,56.33 317.67,55.55 318.40,55.00C319.13,54.45 320.13,53.27 320.90,52.50C321.67,51.73 322.30,51.57 323.00,50.40C323.70,49.23 324.40,47.13 325.10,45.50C325.80,43.87 326.52,41.98 327.20,40.60C327.88,39.22 328.52,38.35 329.20,37.20C329.88,36.05 330.60,34.75 331.30,33.70C332.00,32.65 332.70,30.78 333.40,30.90C334.10,31.02 334.80,33.00 335.50,34.40C336.20,35.80 336.83,38.27 337.60,39.30C338.37,40.33 339.33,39.57 340.10,40.60C340.87,41.63 341.50,43.87 342.20,45.50C342.90,47.13 343.60,49.12 344.30,50.40C345.00,51.68 345.70,52.62 346.40,53.20C347.10,53.78 347.80,53.43 348.50,53.90C349.20,54.37 349.92,56.23 350.60,56.00C351.28,55.77 351.92,54.02 352.60,52.50C353.28,50.98 354.00,48.42 354.70,46.90C355.40,45.38 356.10,44.57 356.80,43.40C357.50,42.23 358.32,41.40 358.90,39.90C359.48,38.40 359.83,36.02 360.30,34.40C360.77,32.78 361.17,31.43 361.70,30.20C362.23,28.97 363.20,27.53 363.50,27.00" fill="none" stroke="#fd9528" stroke-width="3.1" stroke-linejoin="round" transform="translate(-0.35,0.55)"/>
<path d="M217.6,110.1 217.9,110.1 218.2,110.1 218.5,110.0 218.8,110.0 219.0,110.0 219.3,109.9 219.6,109.9 219.9,109.8 220.2,109.7 220.5,109.6 220.8,109.5 221.1,109.4 221.4,109.2 221.7,109.1 221.9,109.0 222.2,108.8 222.5,108.6 222.8,108.4 223.1,108.2 223.4,108.0 223.7,107.8 224.0,107.6 224.3,107.4 224.5,107.1 224.8,106.9 225.1,106.6 225.4,106.3 225.7,106.0 226.0,105.7 226.3,105.4 226.6,105.1 226.9,104.8 227.2,104.4 227.4,104.1 227.7,103.7 228.0,103.4 228.3,103.0 228.6,102.6 228.9,102.2 229.2,101.8 229.5,101.4 229.8,101.0 230.1,100.5 230.3,100.1 230.6,99.7 230.9,99.2 231.2,98.8 231.5,98.3 231.8,97.8 232.1,97.3 232.4,96.8 232.7,96.3 232.9,95.8 233.2,95.3 233.5,94.8 233.8,94.2 234.1,93.7 234.4,93.2 234.7,92.6 235.0,92.1 235.3,91.5 235.6,90.9 235.8,90.4 236.1,89.8 236.4,89.2 236.7,88.6 237.0,88.0 237.3,87.4 237.6,86.8 237.9,86.2 238.2,85.6 238.4,85.0 238.7,84.3 239.0,83.7 239.3,83.1 239.6,82.4 239.9,81.8 240.2,81.2 240.5,80.5 240.8,79.9 241.1,79.2 241.3,78.6 241.6,77.9 241.9,77.2 242.2,76.6 242.5,75.9 242.8,75.2 243.1,74.6 243.4,73.9 243.7,73.2 244.0,72.6 244.2,71.9 244.5,71.2 244.8,70.6 245.1,70.0 245.4,69.3 245.7,68.8 246.0,68.2 246.3,67.6 246.6,67.1 246.8,66.6 247.1,66.0 247.4,65.4 247.7,64.8 248.0,64.1 248.3,63.4 248.6,62.7 248.9,62.0 249.2,61.2 249.5,60.5 249.7,59.7 250.0,59.0 250.3,58.3 250.6,57.5 250.9,56.8 251.2,56.0 251.5,55.5 251.8,55.0 252.1,54.5 252.3,54.0 252.6,53.5 252.9,53.0 253.2,52.5 253.5,52.0 253.8,51.6 254.1,51.2 254.4,50.7 254.7,50.3 255.0,49.9 255.2,49.4 255.5,49.0 255.8,48.5 256.1,48.0 256.4,47.5 256.7,47.1 257.0,46.6 257.3,46.1 257.6,45.7 257.9,45.2 258.1,44.8 258.4,44.3 258.7,43.9 259.0,43.4 259.3,42.9 259.6,42.5 259.9,42.0 260.2,41.5 260.5,41.1 260.7,40.7 261.0,40.3 261.3,40.0 261.6,39.6 261.9,39.3 262.2,38.9 262.5,38.6 262.8,38.2 263.1,37.9 263.4,37.6 263.6,37.2 263.9,36.9 264.2,36.5 264.5,36.2 264.8,35.9 265.1,35.5 265.4,35.2 265.7,34.8 266.0,34.4 266.2,34.2 266.5,34.1 266.8,34.0 267.1,33.8 267.4,33.7 267.7,33.6 268.0,33.5 268.3,33.3 268.6,33.2 268.9,33.1 269.1,33.0 269.4,32.8 269.7,32.7 270.0,32.5 270.3,32.4 270.6,32.2 270.9,32.1 271.2,31.9 271.5,31.8 271.8,31.6 272.0,31.5 272.3,31.5 272.6,31.6 272.9,31.7 273.2,31.8 273.5,31.9 273.8,32.0 274.1,32.1 274.4,32.2 274.6,32.3 274.9,32.5 275.2,32.6 275.5,32.7 275.8,32.7 276.1,32.8 276.4,32.9 276.7,33.0 277.0,33.1 277.3,33.2 277.5,33.3 277.8,33.3 278.1,33.4 278.4,33.5 278.7,33.7 279.0,34.0 279.3,34.2 279.6,34.4 279.9,34.6 280.1,34.9 280.4,35.1 280.7,35.3 281.0,35.5 281.3,35.8 281.6,36.0 281.9,36.3 282.2,36.5 282.5,36.8 282.8,37.1 283.0,37.3 283.3,37.6 283.6,37.9 283.9,38.2 284.2,38.4 284.5,38.7 284.8,39.1 285.1,39.7 285.4,40.2 285.7,40.8 285.9,41.3 286.2,41.9 286.5,42.4 286.8,43.0 287.1,43.5 287.4,44.1 287.7,44.6 288.0,45.2 288.3,45.7 288.5,46.3 288.8,46.9 289.1,47.5 289.4,48.0 289.7,48.6 290.0,49.2 290.3,49.8 290.6,50.3 290.9,50.9 291.2,51.5 291.4,52.0 291.7,52.5 292.0,53.0 292.3,53.5 292.6,54.1 292.9,54.6 293.2,55.1 293.5,55.6 293.8,56.2 294.0,56.7 294.3,57.2 294.6,57.8 294.9,58.3 295.2,58.8 295.5,59.4 295.8,59.9 296.1,60.5 296.4,61.0 296.7,61.5 296.9,62.0 297.2,62.5 297.5,63.0 297.8,63.6 298.1,64.1 298.4,64.7 298.7,65.3 299.0,65.9 299.3,66.5 299.6,67.1 299.8,67.7 300.1,68.3 300.4,68.8 300.7,69.4 301.0,70.0 301.3,70.6 301.6,71.2 301.9,71.7 302.2,72.3 302.4,73.0 302.7,73.6 303.0,74.4 303.3,75.1 303.6,75.8 303.9,76.6 304.2,77.5 304.5,78.3 304.8,79.1 305.1,79.9 305.3,80.6 305.6,81.2 305.9,81.8 306.2,82.5 306.5,83.1 306.8,83.8 307.1,84.4 307.4,85.0 307.7,85.6 307.9,86.2 308.2,86.8 308.5,87.5 308.8,88.1 309.1,88.7 309.4,89.2 309.7,89.8 310.0,90.4 310.3,91.0 310.6,91.5 310.8,92.1 311.1,92.7 311.4,93.2 311.7,93.8 312.0,94.3 312.3,94.8 312.6,95.3 312.9,95.9 313.2,96.4 313.5,96.9 313.7,97.4 314.0,97.8 314.3,98.3 314.6,98.8 314.9,99.2 315.2,99.7 315.5,100.1 315.8,100.6 316.1,101.0 316.3,101.4 316.6,101.8 316.9,102.2 317.2,102.6 317.5,103.0 317.8,103.4 318.1,103.8 318.4,104.1 318.7,104.5 319.0,104.8 319.2,105.1 319.5,105.4 319.8,105.7 320.1,106.0 320.4,106.3 320.7,106.6 321.0,106.9 321.3,107.1 321.6,107.4 321.8,107.6 322.1,107.8 322.4,108.0 322.7,108.3 323.0,108.4 323.3,108.6 323.6,108.8 323.9,109.0 324.2,109.1 324.5,109.3 324.7,109.4 325.0,109.5 325.3,109.6 325.6,109.7 325.9,109.8 326.2,109.9 326.5,109.9 326.8,110.0 327.1,110.0 327.4,110.0 327.6,110.1 327.9,110.1 328.2,110.1 328.5,110.1 328.8,110.0 329.1,110.0 329.4,109.9 329.7,109.9 330.0,109.8 330.2,109.7 330.5,109.6 330.8,109.5 331.1,109.4 331.4,109.3 331.7,109.2 332.0,109.0 332.3,108.9 332.6,108.7 332.9,108.5 333.1,108.3 333.4,108.1 333.7,107.9 334.0,107.7 334.3,107.4 334.6,107.2 334.9,107.0 335.2,106.7 335.5,106.4 335.7,106.1 336.0,105.8 336.3,105.5 336.6,105.2 336.9,104.9 337.2,104.6 337.5,104.2 337.8,103.9 338.1,103.5 338.4,103.1 338.6,102.8 338.9,102.4 339.2,102.0 339.5,101.6 339.8,101.1 340.1,100.7 340.4,100.3 340.7,99.8 341.0,99.4 341.3,98.9 341.5,98.5 341.8,98.0 342.1,97.5 342.4,97.0 342.7,96.5 343.0,96.0 343.3,95.5 343.6,95.0 343.9,94.5 344.1,93.9 344.4,93.4 344.7,92.8 345.0,92.3 345.3,91.7 345.6,91.2 345.9,90.6 346.2,90.0 346.5,89.4 346.8,88.8 347.0,88.2 347.3,87.6 347.6,87.0 347.9,86.4 348.2,85.8 348.5,85.2 348.8,84.6 349.1,84.0 349.4,83.3 349.6,82.7 349.9,82.1 350.2,81.4 350.5,80.8 350.8,80.1 351.1,79.5 351.4,78.8 351.7,78.2 352.0,77.5 352.3,76.8 352.5,76.2 352.8,75.5 353.1,74.8 353.4,74.2 353.7,73.5 354.0,72.8 354.3,72.2 354.6,71.5 354.9,70.8 355.2,70.1 355.4,69.5 355.7,68.8 356.0,68.1 356.3,67.5 356.6,66.8 356.9,66.1 357.2,65.4 357.5,64.8 357.8,64.1 358.0,63.4 358.3,62.8 358.6,62.1 358.9,61.4 359.2,60.8 359.5,60.1 359.8,59.5 360.1,58.8 360.4,58.2 360.7,57.5 360.9,56.9 361.2,56.2 361.5,55.6 361.8,55.0 362.1,54.3" fill="none" stroke="#d45e16" stroke-width="2.7" stroke-linejoin="round"/>
<path d="M262.2,38.9 262.5,38.6 262.8,38.2 263.1,37.9 263.4,37.6 263.6,37.2 263.9,36.9 264.2,36.5 264.5,36.2 264.8,35.9 265.1,35.5 265.4,35.2 265.7,34.8 266.0,34.4 266.2,34.2 266.5,34.1 266.8,34.0 267.1,33.8 267.4,33.7 267.7,33.6 268.0,33.5 268.3,33.3 268.6,33.2 268.9,33.1 269.1,33.0 269.4,32.8 269.7,32.7 270.0,32.5 270.3,32.4 270.6,32.2 270.9,32.1 271.2,31.9 271.5,31.8 271.8,31.6 272.0,31.5 272.3,31.5 272.6,31.6 272.9,31.7 273.2,31.8 273.5,31.9 273.8,32.0 274.1,32.1 274.4,32.2 274.6,32.3 274.9,32.5 275.2,32.6 275.5,32.7 275.8,32.7 276.1,32.8 276.4,32.9 276.7,33.0 277.0,33.1 277.3,33.2 277.5,33.3 277.8,33.3 278.1,33.4 278.4,33.5 278.7,33.7 279.0,34.0 279.3,34.2 279.6,34.4 279.9,34.6 280.1,34.9 280.4,35.1 280.7,35.3 281.0,35.5 281.3,35.8 281.6,36.0 281.9,36.3 282.2,36.5 282.5,36.8 282.8,37.1 283.0,37.3 283.3,37.6 283.6,37.9 283.9,38.2 284.2,38.4 284.5,38.7 284.8,39.1 285.1,39.7 285.4,40.2 285.7,40.8 285.9,41.3 286.2,41.9 286.5,42.4 286.8,43.0 287.1,43.5 287.4,44.1 287.7,44.6 288.0,45.2" fill="none" stroke="#d45e16" stroke-width="3.4" stroke-linejoin="round" stroke-linecap="round"/>
</g>
<rect x="217.60" y="24.45" width="144.50" height="89.70" fill="none" stroke="#111" stroke-width="1.1"/>
<text transform="translate(221.77,49.95) scale(1.2380,1)" style="font-family:'Liberation Sans',sans-serif;font-weight:bold;font-size:11.801px;fill:#111;stroke:#111;stroke-width:0.25px">(b)</text>
<path d="M378.70,114.15v-3.50M378.70,24.45v3.50M389.82,114.15v-2.00M389.82,24.45v2.00M400.93,114.15v-2.00M400.93,24.45v2.00M412.05,114.15v-2.00M412.05,24.45v2.00M423.16,114.15v-2.00M423.16,24.45v2.00M434.28,114.15v-3.50M434.28,24.45v3.50M445.39,114.15v-2.00M445.39,24.45v2.00M456.51,114.15v-2.00M456.51,24.45v2.00M467.62,114.15v-2.00M467.62,24.45v2.00M478.74,114.15v-2.00M478.74,24.45v2.00M489.85,114.15v-3.50M489.85,24.45v3.50M500.97,114.15v-2.00M500.97,24.45v2.00M512.08,114.15v-2.00M512.08,24.45v2.00M523.20,114.15v-2.00M523.20,24.45v2.00M378.70,110.07h3.50M523.20,110.07h-3.50M378.70,101.92h2.00M523.20,101.92h-2.00M378.70,93.76h2.00M523.20,93.76h-2.00M378.70,85.61h2.00M523.20,85.61h-2.00M378.70,77.45h2.00M523.20,77.45h-2.00M378.70,69.30h3.50M523.20,69.30h-3.50M378.70,61.15h2.00M523.20,61.15h-2.00M378.70,52.99h2.00M523.20,52.99h-2.00M378.70,44.84h2.00M523.20,44.84h-2.00M378.70,36.68h2.00M523.20,36.68h-2.00M378.70,28.53h3.50M523.20,28.53h-3.50" stroke="#111" stroke-width="1.0" fill="none"/>
<clipPath id="c20"><rect x="378.70" y="24.45" width="144.50" height="89.70"/></clipPath>
<g clip-path="url(#c20)">
<path d="M378.70,29.3H523.20" stroke="#b0dea9" stroke-width="2.6"/>
<path d="M378.7,30.1 379.0,30.0 379.3,30.0 379.6,30.1 379.9,30.3 380.1,30.5 380.4,30.9 380.7,31.3 381.0,31.9 381.3,32.5 381.6,33.1 381.9,33.9 382.2,34.7 382.5,35.5 382.8,36.4 383.0,37.3 383.3,38.2 383.6,39.2 383.9,40.1 384.2,41.1 384.5,42.0 384.8,42.8 385.1,43.7 385.4,44.5 385.6,45.2 385.9,45.9 386.2,46.5 386.5,47.0 386.8,47.4 387.1,47.7 387.4,48.0 387.7,48.1 388.0,48.2 388.3,48.2 388.5,48.0 388.8,47.8 389.1,47.5 389.4,47.0 389.7,46.5 390.0,46.0 390.3,45.3 390.6,44.6 390.9,43.8 391.2,43.0 391.4,42.1 391.7,41.2 392.0,40.3 392.3,39.3 392.6,38.4 392.9,37.5 393.2,36.6 393.5,35.7 393.8,34.8 394.0,34.0 394.3,33.3 394.6,32.6 394.9,31.9 395.2,31.4 395.5,30.9 395.8,30.6 396.1,30.3 396.4,30.1 396.7,30.0 396.9,30.0 397.2,30.1 397.5,30.3 397.8,30.6 398.1,31.0 398.4,31.5 398.7,32.0 399.0,32.6 399.3,33.3 399.5,34.1 399.8,34.9 400.1,35.8 400.4,36.7 400.7,37.6 401.0,38.5 401.3,39.5 401.6,40.4 401.9,41.3 402.2,42.2 402.4,43.1 402.7,43.9 403.0,44.7 403.3,45.4 403.6,46.0 403.9,46.6 404.2,47.1 404.5,47.5 404.8,47.8 405.1,48.0 405.3,48.2 405.6,48.2 405.9,48.1 406.2,48.0 406.5,47.7 406.8,47.3 407.1,46.9 407.4,46.4 407.7,45.8 407.9,45.1 408.2,44.4 408.5,43.6 408.8,42.7 409.1,41.9 409.4,40.9 409.7,40.0 410.0,39.1 410.3,38.1 410.6,37.2 410.8,36.3 411.1,35.4 411.4,34.6 411.7,33.8 412.0,33.0 412.3,32.4 412.6,31.8 412.9,31.3 413.2,30.8 413.4,30.5 413.7,30.2 414.0,30.1 414.3,30.0 414.6,30.0 414.9,30.2 415.2,30.4 415.5,30.7 415.8,31.1 416.1,31.6 416.3,32.2 416.6,32.8 416.9,33.6 417.2,34.3 417.5,35.2 417.8,36.0 418.1,36.9 418.4,37.9 418.7,38.8 419.0,39.7 419.2,40.7 419.5,41.6 419.8,42.5 420.1,43.3 420.4,44.1 420.7,44.9 421.0,45.6 421.3,46.2 421.6,46.8 421.8,47.2 422.1,47.6 422.4,47.9 422.7,48.1 423.0,48.2 423.3,48.2 423.6,48.1 423.9,47.9 424.2,47.6 424.5,47.2 424.7,46.8 425.0,46.2 425.3,45.6 425.6,44.9 425.9,44.1 426.2,43.3 426.5,42.5 426.8,41.6 427.1,40.7 427.3,39.7 427.6,38.8 427.9,37.9 428.2,36.9 428.5,36.0 428.8,35.2 429.1,34.3 429.4,33.6 429.7,32.8 430.0,32.2 430.2,31.6 430.5,31.1 430.8,30.7 431.1,30.4 431.4,30.2 431.7,30.0 432.0,30.0 432.3,30.1 432.6,30.2 432.9,30.5 433.1,30.8 433.4,31.3 433.7,31.8 434.0,32.4 434.3,33.0 434.6,33.8 434.9,34.6 435.2,35.4 435.5,36.3 435.7,37.2 436.0,38.1 436.3,39.1 436.6,40.0 436.9,40.9 437.2,41.9 437.5,42.7 437.8,43.6 438.1,44.4 438.4,45.1 438.6,45.8 438.9,46.4 439.2,46.9 439.5,47.4 439.8,47.7 440.1,48.0 440.4,48.1 440.7,48.2 441.0,48.2 441.2,48.0 441.5,47.8 441.8,47.5 442.1,47.1 442.4,46.6 442.7,46.0 443.0,45.4 443.3,44.7 443.6,43.9 443.9,43.1 444.1,42.2 444.4,41.3 444.7,40.4 445.0,39.5 445.3,38.5 445.6,37.6 445.9,36.7 446.2,35.8 446.5,34.9 446.8,34.1 447.0,33.3 447.3,32.6 447.6,32.0 447.9,31.5 448.2,31.0 448.5,30.6 448.8,30.3 449.1,30.1 449.4,30.0 449.6,30.0 449.9,30.1 450.2,30.3 450.5,30.6 450.8,30.9 451.1,31.4 451.4,31.9 451.7,32.6 452.0,33.3 452.3,34.0 452.5,34.8 452.8,35.7 453.1,36.6 453.4,37.5 453.7,38.4 454.0,39.3 454.3,40.3 454.6,41.2 454.9,42.1 455.1,43.0 455.4,43.8 455.7,44.6 456.0,45.3 456.3,46.0 456.6,46.5 456.9,47.0 457.2,47.5 457.5,47.8 457.8,48.0 458.0,48.2 458.3,48.2 458.6,48.1 458.9,48.0 459.2,47.7 459.5,47.4 459.8,47.0 460.1,46.5 460.4,45.9 460.7,45.2 460.9,44.5 461.2,43.7 461.5,42.8 461.8,42.0 462.1,41.1 462.4,40.1 462.7,39.2 463.0,38.2 463.3,37.3 463.5,36.4 463.8,35.5 464.1,34.7 464.4,33.9 464.7,33.1 465.0,32.5 465.3,31.9 465.6,31.3 465.9,30.9 466.2,30.5 466.4,30.3 466.7,30.1 467.0,30.0 467.3,30.0 467.6,30.1 467.9,30.4 468.2,30.7 468.5,31.1 468.8,31.6 469.0,32.1 469.3,32.8 469.6,33.5 469.9,34.2 470.2,35.1 470.5,35.9 470.8,36.8 471.1,37.7 471.4,38.7 471.7,39.6 471.9,40.6 472.2,41.5 472.5,42.4 472.8,43.2 473.1,44.0 473.4,44.8 473.7,45.5 474.0,46.1 474.3,46.7 474.6,47.2 474.8,47.6 475.1,47.9 475.4,48.1 475.7,48.2 476.0,48.2 476.3,48.1 476.6,47.9 476.9,47.7 477.2,47.3 477.4,46.8 477.7,46.3 478.0,45.7 478.3,45.0 478.6,44.2 478.9,43.4 479.2,42.6 479.5,41.7 479.8,40.8 480.1,39.9 480.3,38.9 480.6,38.0 480.9,37.0 481.2,36.1 481.5,35.3 481.8,34.4 482.1,33.7 482.4,32.9 482.7,32.3 482.9,31.7 483.2,31.2 483.5,30.8 483.8,30.4 484.1,30.2 484.4,30.0 484.7,30.0 485.0,30.1 485.3,30.2 485.6,30.4 485.8,30.8 486.1,31.2 486.4,31.7 486.7,32.3 487.0,33.0 487.3,33.7 487.6,34.5 487.9,35.3 488.2,36.2 488.5,37.1 488.7,38.0 489.0,39.0 489.3,39.9 489.6,40.8 489.9,41.7 490.2,42.6 490.5,43.5 490.8,44.3 491.1,45.0 491.3,45.7 491.6,46.3 491.9,46.8 492.2,47.3 492.5,47.7 492.8,47.9 493.1,48.1 493.4,48.2 493.7,48.2 494.0,48.1 494.2,47.9 494.5,47.6 494.8,47.2 495.1,46.7 495.4,46.1 495.7,45.5 496.0,44.8 496.3,44.0 496.6,43.2 496.8,42.3 497.1,41.4 497.4,40.5 497.7,39.6 498.0,38.6 498.3,37.7 498.6,36.8 498.9,35.9 499.2,35.0 499.5,34.2 499.7,33.4 500.0,32.7 500.3,32.1 500.6,31.5 500.9,31.1 501.2,30.7 501.5,30.3 501.8,30.1 502.1,30.0 502.4,30.0 502.6,30.1 502.9,30.3 503.2,30.5 503.5,30.9 503.8,31.3 504.1,31.9 504.4,32.5 504.7,33.2 505.0,33.9 505.2,34.7 505.5,35.6 505.8,36.4 506.1,37.4 506.4,38.3 506.7,39.2 507.0,40.2 507.3,41.1 507.6,42.0 507.9,42.9 508.1,43.7 508.4,44.5 508.7,45.2 509.0,45.9 509.3,46.5 509.6,47.0 509.9,47.4 510.2,47.8 510.5,48.0 510.7,48.1 511.0,48.2 511.3,48.2 511.6,48.0 511.9,47.8 512.2,47.4 512.5,47.0 512.8,46.5 513.1,45.9 513.4,45.3 513.6,44.6 513.9,43.8 514.2,42.9 514.5,42.1 514.8,41.2 515.1,40.2 515.4,39.3 515.7,38.4 516.0,37.4 516.3,36.5 516.5,35.6 516.8,34.8 517.1,34.0 517.4,33.2 517.7,32.5 518.0,31.9 518.3,31.4 518.6,30.9 518.9,30.6 519.1,30.3 519.4,30.1 519.7,30.0 520.0,30.0 520.3,30.1 520.6,30.3 520.9,30.6 521.2,31.0 521.5,31.5 521.8,32.0 522.0,32.7 522.3,33.4 522.6,34.1 522.9,35.0 523.2,35.8" fill="none" stroke="#45ad5f" stroke-width="2.8" stroke-linejoin="round"/>
<path d="M378.7,30.1 379.0,30.0 379.3,30.0 379.6,30.1 379.9,30.3 380.1,30.5 380.4,30.9 380.7,31.3 381.0,31.9 381.3,32.5 381.6,33.1 381.9,33.9 382.2,34.7 382.5,35.5 382.8,36.4 383.0,37.3 383.3,38.2 383.6,39.2 383.9,40.1 384.2,41.1 384.5,42.0 384.8,42.8 385.1,43.7 385.4,44.5 385.6,45.2 385.9,45.9 386.2,46.5 386.5,47.0 386.8,47.4 387.1,47.7 387.4,48.0 387.7,48.1 388.0,48.2 388.3,48.2 388.5,48.0 388.8,47.8 389.1,47.5 389.4,47.0 389.7,46.5 390.0,46.0 390.3,45.3 390.6,44.6 390.9,43.8 391.2,43.0 391.4,42.1 391.7,41.2 392.0,40.3 392.3,39.3 392.6,38.4 392.9,37.5 393.2,36.6 393.5,35.7 393.8,34.8 394.0,34.0 394.3,33.3 394.6,32.6 394.9,31.9 395.2,31.4 395.5,30.9 395.8,30.6 396.1,30.3 396.4,30.1 396.7,30.0 396.9,30.0 397.2,30.1 397.5,30.3 397.8,30.6 398.1,31.0 398.4,31.5 398.7,32.0 399.0,32.6 399.3,33.3 399.5,34.1 399.8,34.9 400.1,35.8 400.4,36.7 400.7,37.6 401.0,38.5 401.3,39.5 401.6,40.4 401.9,41.3 402.2,42.2 402.4,43.1 402.7,43.9 403.0,44.7 403.3,45.4 403.6,46.0 403.9,46.6 404.2,47.1 404.5,47.5 404.8,47.8 405.1,48.0 405.3,48.2 405.6,48.2 405.9,48.1 406.2,48.0 406.5,47.7 406.8,47.3 407.1,46.9 407.4,46.4 407.7,45.8 407.9,45.1 408.2,44.4 408.5,43.6 408.8,42.7 409.1,41.9 409.4,40.9 409.7,40.0 410.0,39.1 410.3,38.1 410.6,37.2 410.8,36.3 411.1,35.4 411.4,34.6 411.7,33.8 412.0,33.0 412.3,32.4 412.6,31.8 412.9,31.3 413.2,30.8 413.4,30.5 413.7,30.2 414.0,30.1 414.3,30.0 414.6,30.0 414.9,30.2 415.2,30.4 415.5,30.7 415.8,31.1 416.1,31.6 416.3,32.2 416.6,32.8 416.9,33.6 417.2,34.3 417.5,35.2 417.8,36.0 418.1,36.9 418.4,37.9 418.7,38.8 419.0,39.7 419.2,40.7 419.5,41.6 419.8,42.5 420.1,43.3 420.4,44.1 420.7,44.9 421.0,45.6 421.3,46.2 421.6,46.8 421.8,47.2 422.1,47.6 422.4,47.9 422.7,48.1 423.0,48.2 423.3,48.2 423.6,48.1 423.9,47.9 424.2,47.6 424.5,47.2 424.7,46.8 425.0,46.2 425.3,45.6 425.6,44.9 425.9,44.1 426.2,43.3 426.5,42.5 426.8,41.6 427.1,40.7 427.3,39.7 427.6,38.8 427.9,37.9 428.2,36.9 428.5,36.0 428.8,35.2 429.1,34.3 429.4,33.6 429.7,32.8 430.0,32.2 430.2,31.6 430.5,31.1 430.8,30.7 431.1,30.4 431.4,30.2 431.7,30.0 432.0,30.0 432.3,30.1 432.6,30.2 432.9,30.5 433.1,30.8 433.4,31.3 433.7,31.8 434.0,32.4 434.3,33.0 434.6,33.8 434.9,34.6 435.2,35.4 435.5,36.3 435.7,37.2 436.0,38.1 436.3,39.1 436.6,40.0 436.9,40.9 437.2,41.9 437.5,42.7 437.8,43.6 438.1,44.4 438.4,45.1 438.6,45.8 438.9,46.4 439.2,46.9 439.5,47.4 439.8,47.7 440.1,48.0 440.4,48.1 440.7,48.2 441.0,48.2 441.2,48.0 441.5,47.8 441.8,47.5 442.1,47.1 442.4,46.6 442.7,46.0 443.0,45.4 443.3,44.7 443.6,43.9 443.9,43.1 444.1,42.2 444.4,41.3 444.7,40.4 445.0,39.5 445.3,38.5 445.6,37.6 445.9,36.7 446.2,35.8 446.5,34.9 446.8,34.1 447.0,33.3 447.3,32.6 447.6,32.0 447.9,31.5 448.2,31.0 448.5,30.6 448.8,30.3 449.1,30.1 449.4,30.0 449.6,30.0 449.9,30.1 450.2,30.3 450.5,30.6 450.8,30.9 451.1,31.4 451.4,31.9 451.7,32.6 452.0,33.3 452.3,34.0 452.5,34.8 452.8,35.7 453.1,36.6 453.4,37.5 453.7,38.4 454.0,39.3 454.3,40.3 454.6,41.2 454.9,42.1 455.1,43.0 455.4,43.8 455.7,44.6 456.0,45.3 456.3,46.0 456.6,46.5 456.9,47.0 457.2,47.5 457.5,47.8 457.8,48.0 458.0,48.2 458.3,48.2 458.6,48.1 458.9,48.0 459.2,47.7 459.5,47.4 459.8,47.0 460.1,46.5 460.4,45.9 460.7,45.2 460.9,44.5 461.2,43.7 461.5,42.8 461.8,42.0 462.1,41.1 462.4,40.1 462.7,39.2 463.0,38.2 463.3,37.3 463.5,36.4 463.8,35.5 464.1,34.7 464.4,33.9 464.7,33.1 465.0,32.5 465.3,31.9 465.6,31.3 465.9,30.9 466.2,30.5 466.4,30.3 466.7,30.1 467.0,30.0 467.3,30.0 467.6,30.1 467.9,30.4 468.2,30.7 468.5,31.1 468.8,31.6 469.0,32.1 469.3,32.8 469.6,33.5 469.9,34.2 470.2,35.1 470.5,35.9 470.8,36.8 471.1,37.7 471.4,38.7 471.7,39.6 471.9,40.6 472.2,41.5 472.5,42.4 472.8,43.2 473.1,44.0 473.4,44.8 473.7,45.5 474.0,46.1 474.3,46.7 474.6,47.2 474.8,47.6 475.1,47.9 475.4,48.1 475.7,48.2 476.0,48.2 476.3,48.1 476.6,47.9 476.9,47.7 477.2,47.3 477.4,46.8 477.7,46.3 478.0,45.7 478.3,45.0 478.6,44.2 478.9,43.4 479.2,42.6 479.5,41.7 479.8,40.8 480.1,39.9 480.3,38.9 480.6,38.0 480.9,37.0 481.2,36.1 481.5,35.3 481.8,34.4 482.1,33.7 482.4,32.9 482.7,32.3 482.9,31.7 483.2,31.2 483.5,30.8 483.8,30.4 484.1,30.2 484.4,30.0 484.7,30.0 485.0,30.1 485.3,30.2 485.6,30.4 485.8,30.8 486.1,31.2 486.4,31.7 486.7,32.3 487.0,33.0 487.3,33.7 487.6,34.5 487.9,35.3 488.2,36.2 488.5,37.1 488.7,38.0 489.0,39.0 489.3,39.9 489.6,40.8 489.9,41.7 490.2,42.6 490.5,43.5 490.8,44.3 491.1,45.0 491.3,45.7 491.6,46.3 491.9,46.8 492.2,47.3 492.5,47.7 492.8,47.9 493.1,48.1 493.4,48.2 493.7,48.2 494.0,48.1 494.2,47.9 494.5,47.6 494.8,47.2 495.1,46.7 495.4,46.1 495.7,45.5 496.0,44.8 496.3,44.0 496.6,43.2 496.8,42.3 497.1,41.4 497.4,40.5 497.7,39.6 498.0,38.6 498.3,37.7 498.6,36.8 498.9,35.9 499.2,35.0 499.5,34.2 499.7,33.4 500.0,32.7 500.3,32.1 500.6,31.5 500.9,31.1 501.2,30.7 501.5,30.3 501.8,30.1 502.1,30.0 502.4,30.0 502.6,30.1 502.9,30.3 503.2,30.5 503.5,30.9 503.8,31.3 504.1,31.9 504.4,32.5 504.7,33.2 505.0,33.9 505.2,34.7 505.5,35.6 505.8,36.4 506.1,37.4 506.4,38.3 506.7,39.2 507.0,40.2 507.3,41.1 507.6,42.0 507.9,42.9 508.1,43.7 508.4,44.5 508.7,45.2 509.0,45.9 509.3,46.5 509.6,47.0 509.9,47.4 510.2,47.8 510.5,48.0 510.7,48.1 511.0,48.2 511.3,48.2 511.6,48.0 511.9,47.8 512.2,47.4 512.5,47.0 512.8,46.5 513.1,45.9 513.4,45.3 513.6,44.6 513.9,43.8 514.2,42.9 514.5,42.1 514.8,41.2 515.1,40.2 515.4,39.3 515.7,38.4 516.0,37.4 516.3,36.5 516.5,35.6 516.8,34.8 517.1,34.0 517.4,33.2 517.7,32.5 518.0,31.9 518.3,31.4 518.6,30.9 518.9,30.6 519.1,30.3 519.4,30.1 519.7,30.0 520.0,30.0 520.3,30.1 520.6,30.3 520.9,30.6 521.2,31.0 521.5,31.5 521.8,32.0 522.0,32.7 522.3,33.4 522.6,34.1 522.9,35.0 523.2,35.8" fill="none" stroke="#45ad5f" stroke-width="2.8" stroke-linejoin="round" transform="translate(-0.7,1.4)"/>
<path d="M378.7,110.1 379.0,110.1 379.3,110.1 379.6,110.0 379.9,110.0 380.1,109.9 380.4,109.8 380.7,109.7 381.0,109.5 381.3,109.4 381.6,109.2 381.9,108.9 382.2,108.7 382.5,108.5 382.8,108.2 383.0,107.9 383.3,107.5 383.6,107.2 383.9,106.8 384.2,106.4 384.5,106.0 384.8,105.6 385.1,105.2 385.4,104.7 385.6,104.2 385.9,103.7 386.2,103.2 386.5,102.6 386.8,102.1 387.1,101.5 387.4,100.9 387.7,100.2 388.0,99.6 388.3,99.0 388.5,98.3 388.8,97.6 389.1,96.9 389.4,96.2 389.7,95.4 390.0,94.7 390.3,93.9 390.6,93.2 390.9,92.4 391.2,91.6 391.4,90.8 391.7,89.9 392.0,89.1 392.3,88.2 392.6,87.4 392.9,86.5 393.2,85.6 393.5,84.7 393.8,83.9 394.0,82.9 394.3,82.0 394.6,81.1 394.9,80.2 395.2,79.3 395.5,78.3 395.8,77.4 396.1,76.4 396.4,75.5 396.7,74.5 396.9,73.6 397.2,72.6 397.5,71.6 397.8,70.7 398.1,69.7 398.4,68.7 398.7,67.8 399.0,66.8 399.3,65.9 399.5,64.9 399.8,63.9 400.1,63.0 400.4,62.0 400.7,61.1 401.0,60.1 401.3,59.2 401.6,58.3 401.9,57.3 402.2,56.4 402.4,55.5 402.7,54.6 403.0,53.7 403.3,52.8 403.6,52.0 403.9,51.1 404.2,50.2 404.5,49.4 404.8,48.5 405.1,47.7 405.3,46.9 405.6,46.1 405.9,45.3 406.2,44.5 406.5,43.8 406.8,43.0 407.1,42.3 407.4,41.6 407.7,40.9 407.9,40.2 408.2,39.5 408.5,38.9 408.8,38.3 409.1,37.6 409.4,37.0 409.7,36.5 410.0,35.9 410.3,35.4 410.6,34.8 410.8,34.3 411.1,33.8 411.4,33.4 411.7,32.9 412.0,32.5 412.3,32.1 412.6,31.7 412.9,31.3 413.2,31.0 413.4,30.7 413.7,30.4 414.0,30.1 414.3,29.9 414.6,29.6 414.9,29.4 415.2,29.2 415.5,29.1 415.8,28.9 416.1,28.8 416.3,28.7 416.6,28.6 416.9,28.6 417.2,28.5 417.5,28.5 417.8,28.5 418.1,28.6 418.4,28.6 418.7,28.7 419.0,28.8 419.2,29.0 419.5,29.1 419.8,29.3 420.1,29.5 420.4,29.7 420.7,29.9 421.0,30.2 421.3,30.5 421.6,30.8 421.8,31.1 422.1,31.5 422.4,31.9 422.7,32.2 423.0,32.7 423.3,33.1 423.6,33.5 423.9,34.0 424.2,34.5 424.5,35.0 424.7,35.6 425.0,36.1 425.3,36.7 425.6,37.3 425.9,37.9 426.2,38.5 426.5,39.1 426.8,39.8 427.1,40.5 427.3,41.2 427.6,41.9 427.9,42.6 428.2,43.3 428.5,44.1 428.8,44.8 429.1,45.6 429.4,46.4 429.7,47.2 430.0,48.0 430.2,48.9 430.5,49.7 430.8,50.5 431.1,51.4 431.4,52.3 431.7,53.2 432.0,54.0 432.3,54.9 432.6,55.9 432.9,56.8 433.1,57.7 433.4,58.6 433.7,59.6 434.0,60.5 434.3,61.4 434.6,62.4 434.9,63.3 435.2,64.3 435.5,65.3 435.7,66.2 436.0,67.2 436.3,68.1 436.6,69.1 436.9,70.1 437.2,71.0 437.5,72.0 437.8,73.0 438.1,73.9 438.4,74.9 438.6,75.8 438.9,76.8 439.2,77.7 439.5,78.7 439.8,79.6 440.1,80.5 440.4,81.5 440.7,82.4 441.0,83.3 441.2,84.2 441.5,85.1 441.8,86.0 442.1,86.8 442.4,87.7 442.7,88.6 443.0,89.4 443.3,90.2 443.6,91.1 443.9,91.9 444.1,92.7 444.4,93.5 444.7,94.2 445.0,95.0 445.3,95.7 445.6,96.4 445.9,97.2 446.2,97.9 446.5,98.5 446.8,99.2 447.0,99.8 447.3,100.5 447.6,101.1 447.9,101.7 448.2,102.3 448.5,102.8 448.8,103.4 449.1,103.9 449.4,104.4 449.6,104.9 449.9,105.3 450.2,105.8 450.5,106.2 450.8,106.6 451.1,107.0 451.4,107.3 451.7,107.7 452.0,108.0 452.3,108.3 452.5,108.5 452.8,108.8 453.1,109.0 453.4,109.2 453.7,109.4 454.0,109.6 454.3,109.7 454.6,109.8 454.9,109.9 455.1,110.0 455.4,110.0 455.7,110.1 456.0,110.1 456.3,110.1 456.6,110.0 456.9,109.9 457.2,109.9 457.5,109.7 457.8,109.6 458.0,109.4 458.3,109.3 458.6,109.1 458.9,108.8 459.2,108.6 459.5,108.3 459.8,108.0 460.1,107.7 460.4,107.4 460.7,107.0 460.9,106.7 461.2,106.3 461.5,105.8 461.8,105.4 462.1,105.0 462.4,104.5 462.7,104.0 463.0,103.5 463.3,102.9 463.5,102.4 463.8,101.8 464.1,101.2 464.4,100.6 464.7,100.0 465.0,99.3 465.3,98.7 465.6,98.0 465.9,97.3 466.2,96.6 466.4,95.9 466.7,95.1 467.0,94.4 467.3,93.6 467.6,92.8 467.9,92.0 468.2,91.2 468.5,90.4 468.8,89.6 469.0,88.7 469.3,87.9 469.6,87.0 469.9,86.1 470.2,85.2 470.5,84.4 470.8,83.5 471.1,82.5 471.4,81.6 471.7,80.7 471.9,79.8 472.2,78.8 472.5,77.9 472.8,77.0 473.1,76.0 473.4,75.1 473.7,74.1 474.0,73.1 474.3,72.2 474.6,71.2 474.8,70.2 475.1,69.3 475.4,68.3 475.7,67.4 476.0,66.4 476.3,65.4 476.6,64.5 476.9,63.5 477.2,62.6 477.4,61.6 477.7,60.7 478.0,59.7 478.3,58.8 478.6,57.9 478.9,56.9 479.2,56.0 479.5,55.1 479.8,54.2 480.1,53.3 480.3,52.4 480.6,51.6 480.9,50.7 481.2,49.9 481.5,49.0 481.8,48.2 482.1,47.4 482.4,46.6 482.7,45.8 482.9,45.0 483.2,44.2 483.5,43.5 483.8,42.7 484.1,42.0 484.4,41.3 484.7,40.6 485.0,39.9 485.3,39.3 485.6,38.6 485.8,38.0 486.1,37.4 486.4,36.8 486.7,36.2 487.0,35.7 487.3,35.1 487.6,34.6 487.9,34.1 488.2,33.6 488.5,33.2 488.7,32.7 489.0,32.3 489.3,31.9 489.6,31.5 489.9,31.2 490.2,30.9 490.5,30.6 490.8,30.3 491.1,30.0 491.3,29.7 491.6,29.5 491.9,29.3 492.2,29.1 492.5,29.0 492.8,28.9 493.1,28.7 493.4,28.7 493.7,28.6 494.0,28.5 494.2,28.5 494.5,28.5 494.8,28.6 495.1,28.6 495.4,28.7 495.7,28.8 496.0,28.9 496.3,29.0 496.6,29.2 496.8,29.4 497.1,29.6 497.4,29.8 497.7,30.1 498.0,30.3 498.3,30.6 498.6,30.9 498.9,31.3 499.2,31.6 499.5,32.0 499.7,32.4 500.0,32.8 500.3,33.3 500.6,33.7 500.9,34.2 501.2,34.7 501.5,35.3 501.8,35.8 502.1,36.4 502.4,36.9 502.6,37.5 502.9,38.1 503.2,38.8 503.5,39.4 503.8,40.1 504.1,40.8 504.4,41.5 504.7,42.2 505.0,42.9 505.2,43.6 505.5,44.4 505.8,45.2 506.1,46.0 506.4,46.8 506.7,47.6 507.0,48.4 507.3,49.2 507.6,50.1 507.9,50.9 508.1,51.8 508.4,52.7 508.7,53.6 509.0,54.4 509.3,55.3 509.6,56.3 509.9,57.2 510.2,58.1 510.5,59.0 510.7,60.0 511.0,60.9 511.3,61.9 511.6,62.8 511.9,63.8 512.2,64.7 512.5,65.7 512.8,66.6 513.1,67.6 513.4,68.6 513.6,69.5 513.9,70.5 514.2,71.5 514.5,72.4 514.8,73.4 515.1,74.3 515.4,75.3 515.7,76.2 516.0,77.2 516.3,78.1 516.5,79.1 516.8,80.0 517.1,80.9 517.4,81.9 517.7,82.8 518.0,83.7 518.3,84.6 518.6,85.5 518.9,86.4 519.1,87.2 519.4,88.1 519.7,88.9 520.0,89.8 520.3,90.6 520.6,91.4 520.9,92.2 521.2,93.0 521.5,93.8 521.8,94.6 522.0,95.3 522.3,96.0 522.6,96.8 522.9,97.5 523.2,98.2" fill="none" stroke="#08542a" stroke-width="2.4" stroke-linejoin="round"/>
</g>
<rect x="378.70" y="24.45" width="144.50" height="89.70" fill="none" stroke="#111" stroke-width="1.1"/>
<text transform="translate(382.87,49.95) scale(1.2380,1)" style="font-family:'Liberation Sans',sans-serif;font-weight:bold;font-size:11.801px;fill:#111;stroke:#111;stroke-width:0.25px">(c)</text>
<path d="M539.75,114.15v-3.50M539.75,24.45v3.50M550.87,114.15v-2.00M550.87,24.45v2.00M561.98,114.15v-2.00M561.98,24.45v2.00M573.10,114.15v-2.00M573.10,24.45v2.00M584.21,114.15v-2.00M584.21,24.45v2.00M595.33,114.15v-3.50M595.33,24.45v3.50M606.44,114.15v-2.00M606.44,24.45v2.00M617.56,114.15v-2.00M617.56,24.45v2.00M628.67,114.15v-2.00M628.67,24.45v2.00M639.79,114.15v-2.00M639.79,24.45v2.00M650.90,114.15v-3.50M650.90,24.45v3.50M662.02,114.15v-2.00M662.02,24.45v2.00M673.13,114.15v-2.00M673.13,24.45v2.00M684.25,114.15v-2.00M684.25,24.45v2.00M539.75,110.07h3.50M684.25,110.07h-3.50M539.75,101.92h2.00M684.25,101.92h-2.00M539.75,93.76h2.00M684.25,93.76h-2.00M539.75,85.61h2.00M684.25,85.61h-2.00M539.75,77.45h2.00M684.25,77.45h-2.00M539.75,69.30h3.50M684.25,69.30h-3.50M539.75,61.15h2.00M684.25,61.15h-2.00M539.75,52.99h2.00M684.25,52.99h-2.00M539.75,44.84h2.00M684.25,44.84h-2.00M539.75,36.68h2.00M684.25,36.68h-2.00M539.75,28.53h3.50M684.25,28.53h-3.50" stroke="#111" stroke-width="1.0" fill="none"/>
<clipPath id="c30"><rect x="539.75" y="24.45" width="144.50" height="89.70"/></clipPath>
<g clip-path="url(#c30)">
<path d="M539.75,28.75H684.25" stroke="#fcab91" stroke-width="2.1"/>
<path d="M539.8,29.1 540.0,29.2 540.3,29.5 540.6,29.8 540.9,30.3 541.2,30.8 541.5,31.4 541.8,32.0 542.1,32.7 542.4,33.4 542.6,34.1 542.9,34.8 543.2,35.5 543.5,36.1 543.8,36.7 544.1,37.3 544.4,37.7 544.7,38.1 545.0,38.4 545.3,38.6 545.5,38.7 545.8,38.7 546.1,38.6 546.4,38.3 546.7,38.0 547.0,37.6 547.3,37.1 547.6,36.6 547.9,35.9 548.1,35.3 548.4,34.6 548.7,33.9 549.0,33.2 549.3,32.5 549.6,31.8 549.9,31.2 550.2,30.6 550.5,30.1 550.8,29.7 551.0,29.4 551.3,29.2 551.6,29.0 551.9,29.0 552.2,29.1 552.5,29.3 552.8,29.6 553.1,29.9 553.4,30.4 553.6,30.9 553.9,31.5 554.2,32.2 554.5,32.9 554.8,33.6 555.1,34.3 555.4,35.0 555.7,35.7 556.0,36.3 556.3,36.9 556.5,37.4 556.8,37.8 557.1,38.2 557.4,38.5 557.7,38.6 558.0,38.7 558.3,38.7 558.6,38.5 558.9,38.3 559.2,37.9 559.4,37.5 559.7,37.0 560.0,36.4 560.3,35.8 560.6,35.1 560.9,34.4 561.2,33.7 561.5,33.0 561.8,32.3 562.0,31.6 562.3,31.0 562.6,30.5 562.9,30.0 563.2,29.6 563.5,29.3 563.8,29.1 564.1,29.0 564.4,29.0 564.7,29.1 564.9,29.3 565.2,29.6 565.5,30.0 565.8,30.5 566.1,31.1 566.4,31.7 566.7,32.3 567.0,33.0 567.3,33.7 567.5,34.5 567.8,35.1 568.1,35.8 568.4,36.4 568.7,37.0 569.0,37.5 569.3,37.9 569.6,38.3 569.9,38.5 570.2,38.7 570.4,38.7 570.7,38.6 571.0,38.5 571.3,38.2 571.6,37.8 571.9,37.4 572.2,36.8 572.5,36.3 572.8,35.6 573.1,34.9 573.3,34.2 573.6,33.5 573.9,32.8 574.2,32.1 574.5,31.5 574.8,30.9 575.1,30.4 575.4,29.9 575.7,29.5 575.9,29.3 576.2,29.1 576.5,29.0 576.8,29.0 577.1,29.2 577.4,29.4 577.7,29.7 578.0,30.1 578.3,30.6 578.6,31.2 578.8,31.8 579.1,32.5 579.4,33.2 579.7,33.9 580.0,34.6 580.3,35.3 580.6,36.0 580.9,36.6 581.2,37.2 581.4,37.6 581.7,38.0 582.0,38.4 582.3,38.6 582.6,38.7 582.9,38.7 583.2,38.6 583.5,38.4 583.8,38.1 584.1,37.7 584.3,37.2 584.6,36.7 584.9,36.1 585.2,35.4 585.5,34.8 585.8,34.1 586.1,33.3 586.4,32.6 586.7,32.0 587.0,31.3 587.2,30.8 587.5,30.2 587.8,29.8 588.1,29.5 588.4,29.2 588.7,29.0 589.0,29.0 589.3,29.1 589.6,29.2 589.8,29.5 590.1,29.8 590.4,30.3 590.7,30.8 591.0,31.4 591.3,32.0 591.6,32.7 591.9,33.4 592.2,34.1 592.5,34.8 592.7,35.5 593.0,36.1 593.3,36.7 593.6,37.3 593.9,37.7 594.2,38.1 594.5,38.4 594.8,38.6 595.1,38.7 595.3,38.7 595.6,38.6 595.9,38.3 596.2,38.0 596.5,37.6 596.8,37.1 597.1,36.6 597.4,35.9 597.7,35.3 598.0,34.6 598.2,33.9 598.5,33.2 598.8,32.5 599.1,31.8 599.4,31.2 599.7,30.6 600.0,30.1 600.3,29.7 600.6,29.4 600.9,29.2 601.1,29.0 601.4,29.0 601.7,29.1 602.0,29.3 602.3,29.6 602.6,29.9 602.9,30.4 603.2,30.9 603.5,31.5 603.7,32.2 604.0,32.9 604.3,33.6 604.6,34.3 604.9,35.0 605.2,35.7 605.5,36.3 605.8,36.9 606.1,37.4 606.4,37.8 606.6,38.2 606.9,38.5 607.2,38.6 607.5,38.7 607.8,38.7 608.1,38.5 608.4,38.3 608.7,37.9 609.0,37.5 609.2,37.0 609.5,36.4 609.8,35.8 610.1,35.1 610.4,34.4 610.7,33.7 611.0,33.0 611.3,32.3 611.6,31.6 611.9,31.0 612.1,30.5 612.4,30.0 612.7,29.6 613.0,29.3 613.3,29.1 613.6,29.0 613.9,29.0 614.2,29.1 614.5,29.3 614.8,29.6 615.0,30.0 615.3,30.5 615.6,31.1 615.9,31.7 616.2,32.3 616.5,33.0 616.8,33.7 617.1,34.4 617.4,35.1 617.6,35.8 617.9,36.4 618.2,37.0 618.5,37.5 618.8,37.9 619.1,38.3 619.4,38.5 619.7,38.7 620.0,38.7 620.3,38.6 620.5,38.5 620.8,38.2 621.1,37.8 621.4,37.4 621.7,36.9 622.0,36.3 622.3,35.6 622.6,34.9 622.9,34.2 623.1,33.5 623.4,32.8 623.7,32.1 624.0,31.5 624.3,30.9 624.6,30.4 624.9,29.9 625.2,29.5 625.5,29.3 625.8,29.1 626.0,29.0 626.3,29.0 626.6,29.2 626.9,29.4 627.2,29.7 627.5,30.1 627.8,30.6 628.1,31.2 628.4,31.8 628.7,32.5 628.9,33.2 629.2,33.9 629.5,34.6 629.8,35.3 630.1,36.0 630.4,36.6 630.7,37.1 631.0,37.6 631.3,38.0 631.5,38.3 631.8,38.6 632.1,38.7 632.4,38.7 632.7,38.6 633.0,38.4 633.3,38.1 633.6,37.7 633.9,37.3 634.2,36.7 634.4,36.1 634.7,35.5 635.0,34.8 635.3,34.1 635.6,33.3 635.9,32.6 636.2,32.0 636.5,31.3 636.8,30.8 637.0,30.2 637.3,29.8 637.6,29.5 637.9,29.2 638.2,29.0 638.5,29.0 638.8,29.1 639.1,29.2 639.4,29.5 639.7,29.8 639.9,30.3 640.2,30.8 640.5,31.4 640.8,32.0 641.1,32.7 641.4,33.4 641.7,34.1 642.0,34.8 642.3,35.5 642.6,36.1 642.8,36.7 643.1,37.3 643.4,37.7 643.7,38.1 644.0,38.4 644.3,38.6 644.6,38.7 644.9,38.7 645.2,38.6 645.4,38.3 645.7,38.0 646.0,37.6 646.3,37.1 646.6,36.6 646.9,35.9 647.2,35.3 647.5,34.6 647.8,33.9 648.1,33.2 648.3,32.5 648.6,31.8 648.9,31.2 649.2,30.6 649.5,30.1 649.8,29.7 650.1,29.4 650.4,29.2 650.7,29.0 650.9,29.0 651.2,29.1 651.5,29.3 651.8,29.5 652.1,29.9 652.4,30.4 652.7,30.9 653.0,31.5 653.3,32.2 653.6,32.8 653.8,33.6 654.1,34.3 654.4,35.0 654.7,35.6 655.0,36.3 655.3,36.9 655.6,37.4 655.9,37.8 656.2,38.2 656.5,38.5 656.7,38.6 657.0,38.7 657.3,38.7 657.6,38.5 657.9,38.3 658.2,37.9 658.5,37.5 658.8,37.0 659.1,36.4 659.3,35.8 659.6,35.1 659.9,34.4 660.2,33.7 660.5,33.0 660.8,32.3 661.1,31.6 661.4,31.0 661.7,30.5 662.0,30.0 662.2,29.6 662.5,29.3 662.8,29.1 663.1,29.0 663.4,29.0 663.7,29.1 664.0,29.3 664.3,29.6 664.6,30.0 664.8,30.5 665.1,31.1 665.4,31.7 665.7,32.3 666.0,33.0 666.3,33.7 666.6,34.4 666.9,35.1 667.2,35.8 667.5,36.4 667.7,37.0 668.0,37.5 668.3,37.9 668.6,38.3 668.9,38.5 669.2,38.7 669.5,38.7 669.8,38.6 670.1,38.5 670.4,38.2 670.6,37.8 670.9,37.4 671.2,36.9 671.5,36.3 671.8,35.6 672.1,34.9 672.4,34.2 672.7,33.5 673.0,32.8 673.2,32.1 673.5,31.5 673.8,30.9 674.1,30.4 674.4,29.9 674.7,29.5 675.0,29.3 675.3,29.1 675.6,29.0 675.9,29.0 676.1,29.2 676.4,29.4 676.7,29.7 677.0,30.1 677.3,30.6 677.6,31.2 677.9,31.8 678.2,32.5 678.5,33.2 678.7,33.9 679.0,34.6 679.3,35.3 679.6,36.0 679.9,36.6 680.2,37.1 680.5,37.6 680.8,38.0 681.1,38.3 681.4,38.6 681.6,38.7 681.9,38.7 682.2,38.6 682.5,38.4 682.8,38.1 683.1,37.7 683.4,37.3 683.7,36.7 684.0,36.1 684.2,35.5" fill="none" stroke="#f0402e" stroke-width="2.5" stroke-linejoin="round"/>
<path d="M539.8,110.1 540.0,110.0 540.3,110.0 540.6,109.9 540.9,109.8 541.2,109.7 541.5,109.5 541.8,109.3 542.1,109.1 542.4,108.9 542.6,108.7 542.9,108.4 543.2,108.2 543.5,107.9 543.8,107.5 544.1,107.2 544.4,106.8 544.7,106.4 545.0,106.0 545.3,105.6 545.5,105.1 545.8,104.7 546.1,104.2 546.4,103.7 546.7,103.1 547.0,102.6 547.3,102.0 547.6,101.4 547.9,100.8 548.1,100.2 548.4,99.6 548.7,98.9 549.0,98.3 549.3,97.6 549.6,96.9 549.9,96.2 550.2,95.4 550.5,94.7 550.8,93.9 551.0,93.1 551.3,92.4 551.6,91.6 551.9,90.7 552.2,89.9 552.5,89.1 552.8,88.2 553.1,87.4 553.4,86.5 553.6,85.6 553.9,84.7 554.2,83.8 554.5,82.9 554.8,82.0 555.1,81.1 555.4,80.2 555.7,79.3 556.0,78.3 556.3,77.4 556.5,76.4 556.8,75.5 557.1,74.5 557.4,73.6 557.7,72.6 558.0,71.6 558.3,70.7 558.6,69.7 558.9,68.8 559.2,67.8 559.4,66.8 559.7,65.9 560.0,64.9 560.3,64.0 560.6,63.0 560.9,62.1 561.2,61.1 561.5,60.2 561.8,59.2 562.0,58.3 562.3,57.4 562.6,56.5 562.9,55.5 563.2,54.6 563.5,53.7 563.8,52.9 564.1,52.0 564.4,51.1 564.7,50.3 564.9,49.4 565.2,48.6 565.5,47.8 565.8,46.9 566.1,46.1 566.4,45.4 566.7,44.6 567.0,43.8 567.3,43.1 567.5,42.3 567.8,41.6 568.1,40.9 568.4,40.3 568.7,39.6 569.0,38.9 569.3,38.3 569.6,37.7 569.9,37.1 570.2,36.5 570.4,35.9 570.7,35.4 571.0,34.9 571.3,34.4 571.6,33.9 571.9,33.4 572.2,33.0 572.5,32.5 572.8,32.1 573.1,31.7 573.3,31.4 573.6,31.0 573.9,30.7 574.2,30.4 574.5,30.1 574.8,29.9 575.1,29.6 575.4,29.4 575.7,29.2 575.9,29.1 576.2,28.9 576.5,28.8 576.8,28.7 577.1,28.6 577.4,28.6 577.7,28.5 578.0,28.5 578.3,28.5 578.6,28.6 578.8,28.6 579.1,28.7 579.4,28.8 579.7,28.9 580.0,29.1 580.3,29.3 580.6,29.5 580.9,29.7 581.2,29.9 581.4,30.2 581.7,30.5 582.0,30.8 582.3,31.1 582.6,31.4 582.9,31.8 583.2,32.2 583.5,32.6 583.8,33.0 584.1,33.5 584.3,34.0 584.6,34.4 584.9,35.0 585.2,35.5 585.5,36.0 585.8,36.6 586.1,37.2 586.4,37.8 586.7,38.4 587.0,39.0 587.2,39.7 587.5,40.4 587.8,41.1 588.1,41.8 588.4,42.5 588.7,43.2 589.0,44.0 589.3,44.7 589.6,45.5 589.8,46.3 590.1,47.1 590.4,47.9 590.7,48.7 591.0,49.6 591.3,50.4 591.6,51.3 591.9,52.1 592.2,53.0 592.5,53.9 592.7,54.8 593.0,55.7 593.3,56.6 593.6,57.5 593.9,58.5 594.2,59.4 594.5,60.3 594.8,61.3 595.1,62.2 595.3,63.2 595.6,64.1 595.9,65.1 596.2,66.0 596.5,67.0 596.8,68.0 597.1,68.9 597.4,69.9 597.7,70.8 598.0,71.8 598.2,72.8 598.5,73.7 598.8,74.7 599.1,75.6 599.4,76.6 599.7,77.5 600.0,78.5 600.3,79.4 600.6,80.3 600.9,81.3 601.1,82.2 601.4,83.1 601.7,84.0 602.0,84.9 602.3,85.8 602.6,86.7 602.9,87.5 603.2,88.4 603.5,89.2 603.7,90.1 604.0,90.9 604.3,91.7 604.6,92.5 604.9,93.3 605.2,94.1 605.5,94.8 605.8,95.6 606.1,96.3 606.4,97.0 606.6,97.7 606.9,98.4 607.2,99.0 607.5,99.7 607.8,100.3 608.1,100.9 608.4,101.5 608.7,102.1 609.0,102.7 609.2,103.2 609.5,103.8 609.8,104.3 610.1,104.7 610.4,105.2 610.7,105.7 611.0,106.1 611.3,106.5 611.6,106.9 611.9,107.2 612.1,107.6 612.4,107.9 612.7,108.2 613.0,108.5 613.3,108.7 613.6,109.0 613.9,109.2 614.2,109.4 614.5,109.5 614.8,109.7 615.0,109.8 615.3,109.9 615.6,110.0 615.9,110.0 616.2,110.1 616.5,110.1 616.8,110.1 617.1,110.0 617.4,110.0 617.6,109.9 617.9,109.8 618.2,109.6 618.5,109.5 618.8,109.3 619.1,109.1 619.4,108.9 619.7,108.7 620.0,108.4 620.3,108.1 620.5,107.8 620.8,107.5 621.1,107.1 621.4,106.8 621.7,106.4 622.0,106.0 622.3,105.5 622.6,105.1 622.9,104.6 623.1,104.1 623.4,103.6 623.7,103.1 624.0,102.5 624.3,102.0 624.6,101.4 624.9,100.8 625.2,100.2 625.5,99.5 625.8,98.9 626.0,98.2 626.3,97.5 626.6,96.8 626.9,96.1 627.2,95.4 627.5,94.6 627.8,93.8 628.1,93.1 628.4,92.3 628.7,91.5 628.9,90.7 629.2,89.8 629.5,89.0 629.8,88.2 630.1,87.3 630.4,86.4 630.7,85.5 631.0,84.7 631.3,83.8 631.5,82.9 631.8,81.9 632.1,81.0 632.4,80.1 632.7,79.2 633.0,78.2 633.3,77.3 633.6,76.3 633.9,75.4 634.2,74.4 634.4,73.5 634.7,72.5 635.0,71.6 635.3,70.6 635.6,69.6 635.9,68.7 636.2,67.7 636.5,66.7 636.8,65.8 637.0,64.8 637.3,63.9 637.6,62.9 637.9,62.0 638.2,61.0 638.5,60.1 638.8,59.1 639.1,58.2 639.4,57.3 639.7,56.4 639.9,55.5 640.2,54.6 640.5,53.7 640.8,52.8 641.1,51.9 641.4,51.0 641.7,50.2 642.0,49.3 642.3,48.5 642.6,47.7 642.8,46.9 643.1,46.1 643.4,45.3 643.7,44.5 644.0,43.8 644.3,43.0 644.6,42.3 644.9,41.6 645.2,40.9 645.4,40.2 645.7,39.5 646.0,38.9 646.3,38.2 646.6,37.6 646.9,37.0 647.2,36.4 647.5,35.9 647.8,35.3 648.1,34.8 648.3,34.3 648.6,33.8 648.9,33.4 649.2,32.9 649.5,32.5 649.8,32.1 650.1,31.7 650.4,31.3 650.7,31.0 650.9,30.7 651.2,30.4 651.5,30.1 651.8,29.9 652.1,29.6 652.4,29.4 652.7,29.2 653.0,29.1 653.3,28.9 653.6,28.8 653.8,28.7 654.1,28.6 654.4,28.6 654.7,28.5 655.0,28.5 655.3,28.5 655.6,28.6 655.9,28.6 656.2,28.7 656.5,28.8 656.7,29.0 657.0,29.1 657.3,29.3 657.6,29.5 657.9,29.7 658.2,29.9 658.5,30.2 658.8,30.5 659.1,30.8 659.3,31.1 659.6,31.5 659.9,31.8 660.2,32.2 660.5,32.6 660.8,33.1 661.1,33.5 661.4,34.0 661.7,34.5 662.0,35.0 662.2,35.5 662.5,36.1 662.8,36.7 663.1,37.2 663.4,37.8 663.7,38.5 664.0,39.1 664.3,39.8 664.6,40.4 664.8,41.1 665.1,41.8 665.4,42.5 665.7,43.3 666.0,44.0 666.3,44.8 666.6,45.6 666.9,46.4 667.2,47.2 667.5,48.0 667.7,48.8 668.0,49.6 668.3,50.5 668.6,51.3 668.9,52.2 669.2,53.1 669.5,54.0 669.8,54.9 670.1,55.8 670.4,56.7 670.6,57.6 670.9,58.5 671.2,59.5 671.5,60.4 671.8,61.4 672.1,62.3 672.4,63.3 672.7,64.2 673.0,65.2 673.2,66.1 673.5,67.1 673.8,68.1 674.1,69.0 674.4,70.0 674.7,70.9 675.0,71.9 675.3,72.9 675.6,73.8 675.9,74.8 676.1,75.7 676.4,76.7 676.7,77.6 677.0,78.6 677.3,79.5 677.6,80.4 677.9,81.4 678.2,82.3 678.5,83.2 678.7,84.1 679.0,85.0 679.3,85.9 679.6,86.7 679.9,87.6 680.2,88.5 680.5,89.3 680.8,90.1 681.1,91.0 681.4,91.8 681.6,92.6 681.9,93.4 682.2,94.1 682.5,94.9 682.8,95.6 683.1,96.4 683.4,97.1 683.7,97.8 684.0,98.4 684.2,99.1" fill="none" stroke="#7f0a1f" stroke-width="2.3" stroke-linejoin="round"/>
</g>
<rect x="539.75" y="24.45" width="144.50" height="89.70" fill="none" stroke="#111" stroke-width="1.1"/>
<text transform="translate(543.92,49.95) scale(1.2380,1)" style="font-family:'Liberation Sans',sans-serif;font-weight:bold;font-size:11.801px;fill:#111;stroke:#111;stroke-width:0.25px">(d)</text>
<path d="M56.45,221.45v-3.50M56.45,132.25v3.50M67.57,221.45v-2.00M67.57,132.25v2.00M78.68,221.45v-2.00M78.68,132.25v2.00M89.80,221.45v-2.00M89.80,132.25v2.00M100.91,221.45v-2.00M100.91,132.25v2.00M112.03,221.45v-3.50M112.03,132.25v3.50M123.14,221.45v-2.00M123.14,132.25v2.00M134.26,221.45v-2.00M134.26,132.25v2.00M145.37,221.45v-2.00M145.37,132.25v2.00M156.49,221.45v-2.00M156.49,132.25v2.00M167.60,221.45v-3.50M167.60,132.25v3.50M178.72,221.45v-2.00M178.72,132.25v2.00M189.83,221.45v-2.00M189.83,132.25v2.00M200.95,221.45v-2.00M200.95,132.25v2.00M56.45,217.40h3.50M200.95,217.40h-3.50M56.45,209.29h2.00M200.95,209.29h-2.00M56.45,201.18h2.00M200.95,201.18h-2.00M56.45,193.07h2.00M200.95,193.07h-2.00M56.45,184.96h2.00M200.95,184.96h-2.00M56.45,176.85h3.50M200.95,176.85h-3.50M56.45,168.74h2.00M200.95,168.74h-2.00M56.45,160.63h2.00M200.95,160.63h-2.00M56.45,152.52h2.00M200.95,152.52h-2.00M56.45,144.41h2.00M200.95,144.41h-2.00M56.45,136.30h3.50M200.95,136.30h-3.50" stroke="#111" stroke-width="1.0" fill="none"/>
<clipPath id="c01"><rect x="56.45" y="132.25" width="144.50" height="89.20"/></clipPath>
<g clip-path="url(#c01)">
<path d="M56.45,136.3H200.95" stroke="#94c4df" stroke-width="2.2"/>
<path d="M56.45,136.8H200.95" stroke="#3a8ac6" stroke-width="2.2"/>
<path d="M56.45,217.9H200.95" stroke="#0a4a92" stroke-width="2.1"/>
</g>
<rect x="56.45" y="132.25" width="144.50" height="89.20" fill="none" stroke="#111" stroke-width="1.1"/>
<text transform="translate(60.62,154.55) scale(1.2380,1)" style="font-family:'Liberation Sans',sans-serif;font-weight:bold;font-size:11.801px;fill:#111;stroke:#111;stroke-width:0.25px">(e)</text>
<rect x="89.50" y="160.8" width="103.9" height="51.9" rx="2" ry="2" fill="#fff" fill-opacity="0.8" stroke="#ccc" stroke-width="0.9"/>
<path d="M93.00,169.95H116.70" stroke="#94c4df" stroke-width="2.1"/>
<path d="M93.00,186.10H116.70" stroke="#3a8ac6" stroke-width="2.1"/>
<path d="M93.00,202.70H116.70" stroke="#0a4a92" stroke-width="2.1"/>
<path d="M125.60,164.40V174.90" stroke="#222" stroke-width="0.70"/>
<text transform="translate(127.59,172.79) scale(0.9642,1)" style="font-family:'Liberation Serif',serif;font-style:normal;font-weight:normal;font-size:11.114px;fill:#111" >00</text>
<path d="M139.00,164.40L141.40,169.65L139.00,174.90" fill="none" stroke="#222" stroke-width="0.65" stroke-linejoin="miter" stroke-miterlimit="10"/>
<text transform="translate(143.03,173.50) scale(1.0464,1)" style="font-family:'Liberation Sans',sans-serif;font-style:normal;font-weight:normal;font-size:7.268px;fill:#111" >T</text>
<path d="M167.50,164.40V174.90" stroke="#222" stroke-width="0.70"/>
<text transform="translate(169.49,172.79) scale(0.9642,1)" style="font-family:'Liberation Serif',serif;font-style:normal;font-weight:normal;font-size:11.114px;fill:#111" >00</text>
<path d="M180.90,164.40L183.30,169.65L180.90,174.90" fill="none" stroke="#222" stroke-width="0.65" stroke-linejoin="miter" stroke-miterlimit="10"/>
<text transform="translate(184.93,173.50) scale(1.0464,1)" style="font-family:'Liberation Sans',sans-serif;font-style:normal;font-weight:normal;font-size:7.268px;fill:#111" >T</text>
<path d="M152.90,169.45H161.70" stroke="#333" stroke-width="0.5"/>
<path d="M154.70,166.95Q153.80,168.85 152.40,169.45Q153.80,170.05 154.70,171.95" fill="none" stroke="#222" stroke-width="0.7"/>
<path d="M159.90,166.95Q160.80,168.85 162.20,169.45Q160.80,170.05 159.90,171.95" fill="none" stroke="#222" stroke-width="0.7"/>
<path d="M125.60,180.70V191.20" stroke="#222" stroke-width="0.70"/>
<text transform="translate(126.98,189.20) scale(1.0227,1)" style="font-family:'Liberation Serif',serif;font-style:normal;font-weight:normal;font-size:11.361px;fill:#111" >11</text>
<path d="M139.00,180.70L141.40,185.95L139.00,191.20" fill="none" stroke="#222" stroke-width="0.65" stroke-linejoin="miter" stroke-miterlimit="10"/>
<text transform="translate(143.03,189.80) scale(1.0464,1)" style="font-family:'Liberation Sans',sans-serif;font-style:normal;font-weight:normal;font-size:7.268px;fill:#111" >T</text>
<path d="M167.50,180.70V191.20" stroke="#222" stroke-width="0.70"/>
<text transform="translate(168.88,189.20) scale(1.0227,1)" style="font-family:'Liberation Serif',serif;font-style:normal;font-weight:normal;font-size:11.361px;fill:#111" >11</text>
<path d="M180.90,180.70L183.30,185.95L180.90,191.20" fill="none" stroke="#222" stroke-width="0.65" stroke-linejoin="miter" stroke-miterlimit="10"/>
<text transform="translate(184.93,189.80) scale(1.0464,1)" style="font-family:'Liberation Sans',sans-serif;font-style:normal;font-weight:normal;font-size:7.268px;fill:#111" >T</text>
<path d="M152.90,185.75H161.70" stroke="#333" stroke-width="0.5"/>
<path d="M154.70,183.25Q153.80,185.15 152.40,185.75Q153.80,186.35 154.70,188.25" fill="none" stroke="#222" stroke-width="0.7"/>
<path d="M159.90,183.25Q160.80,185.15 162.20,185.75Q160.80,186.35 159.90,188.25" fill="none" stroke="#222" stroke-width="0.7"/>
<path d="M125.60,197.00V207.50" stroke="#222" stroke-width="0.70"/>
<text transform="translate(127.58,205.39) scale(0.9877,1)" style="font-family:'Liberation Serif',serif;font-style:normal;font-weight:normal;font-size:11.114px;fill:#111" >01</text>
<path d="M139.00,197.00L141.40,202.25L139.00,207.50" fill="none" stroke="#222" stroke-width="0.65" stroke-linejoin="miter" stroke-miterlimit="10"/>
<text transform="translate(143.03,206.10) scale(1.0464,1)" style="font-family:'Liberation Sans',sans-serif;font-style:normal;font-weight:normal;font-size:7.268px;fill:#111" >T</text>
<path d="M167.50,197.00V207.50" stroke="#222" stroke-width="0.70"/>
<text transform="translate(168.90,205.39) scale(1.0191,1)" style="font-family:'Liberation Serif',serif;font-style:normal;font-weight:normal;font-size:11.114px;fill:#111" >10</text>
<path d="M180.90,197.00L183.30,202.25L180.90,207.50" fill="none" stroke="#222" stroke-width="0.65" stroke-linejoin="miter" stroke-miterlimit="10"/>
<text transform="translate(184.93,206.10) scale(1.0464,1)" style="font-family:'Liberation Sans',sans-serif;font-style:normal;font-weight:normal;font-size:7.268px;fill:#111" >T</text>
<path d="M152.90,202.05H161.70" stroke="#333" stroke-width="0.5"/>
<path d="M154.70,199.55Q153.80,201.45 152.40,202.05Q153.80,202.65 154.70,204.55" fill="none" stroke="#222" stroke-width="0.7"/>
<path d="M159.90,199.55Q160.80,201.45 162.20,202.05Q160.80,202.65 159.90,204.55" fill="none" stroke="#222" stroke-width="0.7"/>
<path d="M217.60,221.45v-3.50M217.60,132.25v3.50M228.72,221.45v-2.00M228.72,132.25v2.00M239.83,221.45v-2.00M239.83,132.25v2.00M250.95,221.45v-2.00M250.95,132.25v2.00M262.06,221.45v-2.00M262.06,132.25v2.00M273.18,221.45v-3.50M273.18,132.25v3.50M284.29,221.45v-2.00M284.29,132.25v2.00M295.41,221.45v-2.00M295.41,132.25v2.00M306.52,221.45v-2.00M306.52,132.25v2.00M317.64,221.45v-2.00M317.64,132.25v2.00M328.75,221.45v-3.50M328.75,132.25v3.50M339.87,221.45v-2.00M339.87,132.25v2.00M350.98,221.45v-2.00M350.98,132.25v2.00M362.10,221.45v-2.00M362.10,132.25v2.00M217.60,217.40h3.50M362.10,217.40h-3.50M217.60,209.29h2.00M362.10,209.29h-2.00M217.60,201.18h2.00M362.10,201.18h-2.00M217.60,193.07h2.00M362.10,193.07h-2.00M217.60,184.96h2.00M362.10,184.96h-2.00M217.60,176.85h3.50M362.10,176.85h-3.50M217.60,168.74h2.00M362.10,168.74h-2.00M217.60,160.63h2.00M362.10,160.63h-2.00M217.60,152.52h2.00M362.10,152.52h-2.00M217.60,144.41h2.00M362.10,144.41h-2.00M217.60,136.30h3.50M362.10,136.30h-3.50" stroke="#111" stroke-width="1.0" fill="none"/>
<clipPath id="c11"><rect x="217.60" y="132.25" width="144.50" height="89.20"/></clipPath>
<g clip-path="url(#c11)">
<path d="M217.6,137.8 217.8,137.7 218.1,137.6 218.3,137.5 218.6,137.4 218.8,137.3 219.0,137.3 219.3,137.2 219.5,137.1 219.8,137.1 220.0,137.1 220.3,137.1 220.5,137.1 220.7,137.2 221.0,137.2 221.2,137.3 221.5,137.4 221.7,137.5 221.9,137.6 222.2,137.7 222.4,137.8 222.7,137.9 222.9,137.9 223.1,138.0 223.4,138.1 223.6,138.1 223.9,138.1 224.1,138.1 224.4,138.1 224.6,138.0 224.8,138.0 225.1,137.9 225.3,137.8 225.6,137.7 225.8,137.6 226.0,137.5 226.3,137.4 226.5,137.3 226.8,137.3 227.0,137.2 227.2,137.1 227.5,137.1 227.7,137.1 228.0,137.1 228.2,137.1 228.5,137.2 228.7,137.2 228.9,137.3 229.2,137.4 229.4,137.5 229.7,137.6 229.9,137.7 230.1,137.8 230.4,137.9 230.6,137.9 230.9,138.0 231.1,138.1 231.4,138.1 231.6,138.1 231.8,138.1 232.1,138.1 232.3,138.0 232.6,138.0 232.8,137.9 233.0,137.8 233.3,137.7 233.5,137.6 233.8,137.5 234.0,137.4 234.2,137.3 234.5,137.3 234.7,137.2 235.0,137.1 235.2,137.1 235.5,137.1 235.7,137.1 235.9,137.1 236.2,137.2 236.4,137.2 236.7,137.3 236.9,137.4 237.1,137.5 237.4,137.6 237.6,137.7 237.9,137.8 238.1,137.9 238.3,137.9 238.6,138.0 238.8,138.1 239.1,138.1 239.3,138.1 239.6,138.1 239.8,138.1 240.0,138.0 240.3,138.0 240.5,137.9 240.8,137.8 241.0,137.7 241.2,137.6 241.5,137.5 241.7,137.4 242.0,137.3 242.2,137.2 242.4,137.2 242.7,137.1 242.9,137.1 243.2,137.1 243.4,137.1 243.7,137.1 243.9,137.2 244.1,137.2 244.4,137.3 244.6,137.4 244.9,137.5 245.1,137.6 245.3,137.7 245.6,137.8 245.8,137.9 246.1,138.0 246.3,138.0 246.5,138.1 246.8,138.1 247.0,138.1 247.3,138.1 247.5,138.1 247.8,138.0 248.0,138.0 248.2,137.9 248.5,137.8 248.7,137.7 249.0,137.6 249.2,137.5 249.4,137.4 249.7,137.3 249.9,137.2 250.2,137.2 250.4,137.1 250.6,137.1 250.9,137.1 251.1,137.1 251.4,137.1 251.6,137.2 251.9,137.3 252.1,137.3 252.3,137.4 252.6,137.5 252.8,137.6 253.1,137.7 253.3,137.8 253.5,137.9 253.8,138.0 254.0,138.0 254.3,138.1 254.5,138.1 254.8,138.1 255.0,138.1 255.2,138.1 255.5,138.0 255.7,137.9 256.0,137.9 256.2,137.8 256.4,137.7 256.7,137.6 256.9,137.5 257.2,137.4 257.4,137.3 257.6,137.2 257.9,137.2 258.1,137.1 258.4,137.1 258.6,137.1 258.9,137.1 259.1,137.1 259.3,137.2 259.6,137.3 259.8,137.3 260.1,137.4 260.3,137.5 260.5,137.6 260.8,137.7 261.0,137.8 261.3,137.9 261.5,138.0 261.7,138.0 262.0,138.1 262.2,138.1 262.5,138.1 262.7,138.1 263.0,138.1 263.2,138.0 263.4,137.9 263.7,137.9 263.9,137.8 264.2,137.7 264.4,137.6 264.6,137.5 264.9,137.4 265.1,137.3 265.4,137.2 265.6,137.2 265.8,137.1 266.1,137.1 266.3,137.1 266.6,137.1 266.8,137.1 267.1,137.2 267.3,137.3 267.5,137.3 267.8,137.4 268.0,137.5 268.3,137.6 268.5,137.7 268.7,137.8 269.0,137.9 269.2,138.0 269.5,138.0 269.7,138.1 269.9,138.1 270.2,138.1 270.4,138.1 270.7,138.1 270.9,138.0 271.2,137.9 271.4,137.9 271.6,137.8 271.9,137.7 272.1,137.6 272.4,137.5 272.6,137.4 272.8,137.3 273.1,137.2 273.3,137.2 273.6,137.1 273.8,137.1 274.0,137.1 274.3,137.1 274.5,137.2 274.8,137.2 275.0,137.3 275.3,137.3 275.5,137.4 275.7,137.5 276.0,137.6 276.2,137.7 276.5,137.8 276.7,137.9 276.9,138.0 277.2,138.0 277.4,138.1 277.7,138.1 277.9,138.1 278.2,138.1 278.4,138.0 278.6,138.0 278.9,137.9 279.1,137.8 279.4,137.8 279.6,137.7 279.8,137.6 280.1,137.5 280.3,137.4 280.6,137.3 280.8,137.2 281.0,137.2 281.3,137.1 281.5,137.1 281.8,137.1 282.0,137.1 282.3,137.2 282.5,137.2 282.7,137.3 283.0,137.4 283.2,137.4 283.5,137.5 283.7,137.6 283.9,137.7 284.2,137.8 284.4,137.9 284.7,138.0 284.9,138.0 285.1,138.1 285.4,138.1 285.6,138.1 285.9,138.1 286.1,138.0 286.4,138.0 286.6,137.9 286.8,137.8 287.1,137.8 287.3,137.7 287.6,137.6 287.8,137.5 288.0,137.4 288.3,137.3 288.5,137.2 288.8,137.2 289.0,137.1 289.2,137.1 289.5,137.1 289.7,137.1 290.0,137.2 290.2,137.2 290.5,137.3 290.7,137.4 290.9,137.5 291.2,137.5 291.4,137.6 291.7,137.7 291.9,137.8 292.1,137.9 292.4,138.0 292.6,138.0 292.9,138.1 293.1,138.1 293.3,138.1 293.6,138.1 293.8,138.0 294.1,138.0 294.3,137.9 294.6,137.8 294.8,137.7 295.0,137.6 295.3,137.5 295.5,137.5 295.8,137.4 296.0,137.3 296.2,137.2 296.5,137.2 296.7,137.1 297.0,137.1 297.2,137.1 297.4,137.1 297.7,137.2 297.9,137.2 298.2,137.3 298.4,137.4 298.7,137.5 298.9,137.6 299.1,137.7 299.4,137.8 299.6,137.8 299.9,137.9 300.1,138.0 300.3,138.0 300.6,138.1 300.8,138.1 301.1,138.1 301.3,138.1 301.5,138.0 301.8,138.0 302.0,137.9 302.3,137.8 302.5,137.7 302.8,137.6 303.0,137.5 303.2,137.4 303.5,137.4 303.7,137.3 304.0,137.2 304.2,137.2 304.4,137.1 304.7,137.1 304.9,137.1 305.2,137.1 305.4,137.2 305.7,137.2 305.9,137.3 306.1,137.4 306.4,137.5 306.6,137.6 306.9,137.7 307.1,137.8 307.3,137.8 307.6,137.9 307.8,138.0 308.1,138.0 308.3,138.1 308.5,138.1 308.8,138.1 309.0,138.1 309.3,138.0 309.5,138.0 309.8,137.9 310.0,137.8 310.2,137.7 310.5,137.6 310.7,137.5 311.0,137.4 311.2,137.3 311.4,137.3 311.7,137.2 311.9,137.1 312.2,137.1 312.4,137.1 312.6,137.1 312.9,137.1 313.1,137.2 313.4,137.2 313.6,137.3 313.9,137.4 314.1,137.5 314.3,137.6 314.6,137.7 314.8,137.8 315.1,137.9 315.3,137.9 315.5,138.0 315.8,138.1 316.0,138.1 316.3,138.1 316.5,138.1 316.7,138.1 317.0,138.0 317.2,138.0 317.5,137.9 317.7,137.8 318.0,137.7 318.2,137.6 318.4,137.5 318.7,137.4 318.9,137.3 319.2,137.3 319.4,137.2 319.6,137.1 319.9,137.1 320.1,137.1 320.4,137.1 320.6,137.1 320.8,137.2 321.1,137.2 321.3,137.3 321.6,137.4 321.8,137.5 322.1,137.6 322.3,137.7 322.5,137.8 322.8,137.9 323.0,137.9 323.3,138.0 323.5,138.1 323.7,138.1 324.0,138.1 324.2,138.1 324.5,138.1 324.7,138.0 324.9,138.0 325.2,137.9 325.4,137.8 325.7,137.7 325.9,137.6 326.2,137.5 326.4,137.4 326.6,137.3 326.9,137.3 327.1,137.2 327.4,137.1 327.6,137.1 327.8,137.1 328.1,137.1 328.3,137.1 328.6,137.2 328.8,137.2 329.1,137.3 329.3,137.4 329.5,137.5 329.8,137.6 330.0,137.7 330.3,137.8 330.5,137.9 330.7,137.9 331.0,138.0 331.2,138.1 331.5,138.1 331.7,138.1 331.9,138.1 332.2,138.1 332.4,138.0 332.7,138.0 332.9,137.9 333.2,137.8 333.4,137.7 333.6,137.6 333.9,137.5 334.1,137.4 334.4,137.3 334.6,137.3 334.8,137.2 335.1,137.1 335.3,137.1 335.6,137.1 335.8,137.1 336.0,137.1 336.3,137.2 336.5,137.2 336.8,137.3 337.0,137.4 337.3,137.5 337.5,137.6 337.7,137.7 338.0,137.8 338.2,137.9 338.5,138.0 338.7,138.0 338.9,138.1 339.2,138.1 339.4,138.1 339.7,138.1 339.9,138.1 340.1,138.0 340.4,138.0 340.6,137.9 340.9,137.8 341.1,137.7 341.4,137.6 341.6,137.5 341.8,137.4 342.1,137.3 342.3,137.2 342.6,137.2 342.8,137.1 343.0,137.1 343.3,137.1 343.5,137.1 343.8,137.1 344.0,137.2 344.2,137.2 344.5,137.3 344.7,137.4 345.0,137.5 345.2,137.6 345.5,137.7 345.7,137.8 345.9,137.9 346.2,138.0 346.4,138.0 346.7,138.1 346.9,138.1 347.1,138.1 347.4,138.1 347.6,138.1 347.9,138.0 348.1,137.9 348.3,137.9 348.6,137.8 348.8,137.7 349.1,137.6 349.3,137.5 349.6,137.4 349.8,137.3 350.0,137.2 350.3,137.2 350.5,137.1 350.8,137.1 351.0,137.1 351.2,137.1 351.5,137.1 351.7,137.2 352.0,137.3 352.2,137.3 352.5,137.4 352.7,137.5 352.9,137.6 353.2,137.7 353.4,137.8 353.7,137.9 353.9,138.0 354.1,138.0 354.4,138.1 354.6,138.1 354.9,138.1 355.1,138.1 355.3,138.1 355.6,138.0 355.8,137.9 356.1,137.9 356.3,137.8 356.6,137.7 356.8,137.6 357.0,137.5 357.3,137.4 357.5,137.3 357.8,137.2 358.0,137.2 358.2,137.1 358.5,137.1 358.7,137.1 359.0,137.1 359.2,137.1 359.4,137.2 359.7,137.3 359.9,137.3 360.2,137.4 360.4,137.5 360.7,137.6 360.9,137.7 361.1,137.8 361.4,137.9 361.6,138.0 361.9,138.0 362.1,138.1" fill="none" stroke="#fed47a" stroke-width="3.6" stroke-linejoin="round"/>
<path d="M217.6,138.5 217.8,138.4 217.9,138.4 218.1,138.4 218.2,138.5 218.4,138.8 218.6,139.1 218.7,139.4 218.9,139.8 219.0,140.1 219.2,140.5 219.4,140.8 219.5,141.1 219.7,141.4 219.9,141.7 220.0,141.9 220.2,142.2 220.3,142.4 220.5,142.6 220.7,142.7 220.8,142.8 221.0,142.9 221.1,143.0 221.3,143.0 221.5,143.2 221.6,143.3 221.8,143.3 221.9,143.3 222.1,143.3 222.3,143.3 222.4,143.3 222.6,143.3 222.7,143.2 222.9,143.2 223.1,143.2 223.2,143.2 223.4,143.2 223.5,143.1 223.7,143.1 223.9,143.0 224.0,142.9 224.2,142.8 224.4,142.7 224.5,142.6 224.7,142.5 224.8,142.4 225.0,142.3 225.2,142.2 225.3,142.2 225.5,142.3 225.6,142.3 225.8,142.4 226.0,142.5 226.1,142.6 226.3,142.7 226.4,142.8 226.6,142.9 226.8,142.9 226.9,143.0 227.1,143.0 227.2,143.1 227.4,143.2 227.6,143.2 227.7,143.3 227.9,143.4 228.0,143.5 228.2,143.5 228.4,143.6 228.5,143.7 228.7,143.8 228.9,143.8 229.0,143.9 229.2,144.0 229.3,144.1 229.5,144.1 229.7,144.2 229.8,144.2 230.0,144.3 230.1,144.3 230.3,144.4 230.5,144.4 230.6,144.5 230.8,144.5 230.9,144.5 231.1,144.5 231.3,144.6 231.4,144.6 231.6,144.6 231.7,144.6 231.9,144.6 232.1,144.6 232.2,144.7 232.4,144.7 232.5,144.7 232.7,144.7 232.9,144.8 233.0,144.8 233.2,144.8 233.4,144.9 233.5,144.9 233.7,144.9 233.8,144.9 234.0,144.8 234.2,144.8 234.3,144.8 234.5,144.8 234.6,144.8 234.8,144.8 235.0,144.9 235.1,144.9 235.3,145.0 235.4,145.1 235.6,145.2 235.8,145.3 235.9,145.4 236.1,145.5 236.2,145.6 236.4,145.7 236.6,145.8 236.7,145.9 236.9,145.9 237.0,146.0 237.2,146.0 237.4,146.0 237.5,146.0 237.7,146.0 237.9,146.0 238.0,145.9 238.2,145.9 238.3,145.8 238.5,145.8 238.7,145.8 238.8,145.7 239.0,145.7 239.1,145.7 239.3,145.6 239.5,145.6 239.6,145.5 239.8,145.5 239.9,145.4 240.1,145.4 240.3,145.3 240.4,145.3 240.6,145.2 240.7,145.1 240.9,145.0 241.1,144.9 241.2,144.8 241.4,144.6 241.5,144.5 241.7,144.4 241.9,144.2 242.0,144.1 242.2,143.9 242.4,143.8 242.5,143.7 242.7,143.5 242.8,143.3 243.0,143.0 243.2,142.8 243.3,142.7 243.5,142.5 243.6,142.4 243.8,142.3 244.0,142.2 244.1,142.2 244.3,142.2 244.4,142.2 244.6,142.2 244.8,142.3 244.9,142.4 245.1,142.6 245.2,142.8 245.4,142.9 245.6,143.0 245.7,143.2 245.9,143.2 246.0,143.3 246.2,143.4 246.4,143.6 246.5,143.8 246.7,143.9 246.9,144.0 247.0,144.0 247.2,144.1 247.3,144.1 247.5,144.1 247.7,144.0 247.8,144.0 248.0,144.0 248.1,143.9 248.3,143.9 248.5,143.8 248.6,143.8 248.8,143.7 248.9,143.7 249.1,143.6 249.3,143.6 249.4,143.6 249.6,143.6 249.7,143.3 249.9,143.0 250.1,142.7 250.2,142.4 250.4,142.1 250.6,141.8 250.7,141.6 250.9,141.3 251.0,141.1 251.2,140.8 251.4,140.6 251.5,140.5 251.7,140.3 251.8,140.2 252.0,140.1 252.2,140.1 252.3,140.0 252.5,140.0 252.6,140.0 252.8,140.1 253.0,140.1 253.1,140.4 253.3,140.8 253.4,141.2 253.6,141.5 253.8,141.9 253.9,142.2 254.1,142.5 254.2,142.8 254.4,143.1 254.6,143.3 254.7,143.5 254.9,143.7 255.1,143.9 255.2,144.0 255.4,144.1 255.5,144.2 255.7,144.3 255.9,144.3 256.0,144.3 256.2,144.3 256.3,144.3 256.5,144.3 256.7,144.2 256.8,144.1 257.0,144.0 257.1,143.9 257.3,143.8 257.5,143.8 257.6,143.7 257.8,143.6 257.9,143.6 258.1,143.5 258.3,143.5 258.4,143.5 258.6,143.5 258.7,143.5 258.9,143.6 259.1,143.6 259.2,143.7 259.4,143.8 259.6,143.9 259.7,144.0 259.9,144.2 260.0,144.3 260.2,144.4 260.4,144.5 260.5,144.6 260.7,144.8 260.8,145.0 261.0,145.2 261.2,145.4 261.3,145.7 261.5,145.9 261.6,146.2 261.8,146.5 262.0,146.8 262.1,147.2 262.3,147.5 262.4,147.8 262.6,148.1 262.8,148.4 262.9,148.7 263.1,148.9 263.2,149.2 263.4,149.4 263.6,149.4 263.7,149.3 263.9,149.1 264.1,148.9 264.2,148.7 264.4,148.4 264.5,148.2 264.7,147.9 264.9,147.6 265.0,147.3 265.2,147.0 265.3,146.8 265.5,146.5 265.7,146.2 265.8,146.0 266.0,145.8 266.1,145.6 266.3,145.4 266.5,145.3 266.6,145.1 266.8,145.0 266.9,145.0 267.1,144.9 267.3,144.8 267.4,144.7 267.6,144.6 267.7,144.5 267.9,144.5 268.1,144.5 268.2,144.5 268.4,144.5 268.6,144.6 268.7,144.7 268.9,144.8 269.0,145.0 269.2,145.2 269.4,145.4 269.5,145.6 269.7,145.9 269.8,146.2 270.0,146.5 270.2,146.9 270.3,147.2 270.5,147.5 270.6,147.7 270.8,147.8 271.0,147.9 271.1,147.9 271.3,147.9 271.4,147.8 271.6,147.7 271.8,147.6 271.9,147.5 272.1,147.3 272.2,147.1 272.4,146.8 272.6,146.6 272.7,146.3 272.9,146.0 273.1,145.8 273.2,145.5 273.4,145.2 273.5,144.9 273.7,144.6 273.9,144.4 274.0,144.1 274.2,144.0 274.3,143.9 274.5,143.7 274.7,143.6 274.8,143.5 275.0,143.4 275.1,143.3 275.3,143.2 275.5,143.1 275.6,143.1 275.8,143.0 275.9,143.0 276.1,143.0 276.3,143.0 276.4,143.1 276.6,143.1 276.8,143.2 276.9,143.3 277.1,143.4 277.2,143.6 277.4,143.7 277.6,143.8 277.7,143.8 277.9,143.9 278.0,143.9 278.2,143.9 278.4,144.0 278.5,144.0 278.7,144.1 278.8,144.1 279.0,144.1 279.2,144.1 279.3,144.1 279.5,144.1 279.6,144.1 279.8,144.0 280.0,143.9 280.1,143.8 280.3,143.7 280.4,143.5 280.6,143.3 280.8,143.1 280.9,142.8 281.1,142.7 281.3,142.6 281.4,142.5 281.6,142.4 281.7,142.2 281.9,142.1 282.1,142.0 282.2,141.9 282.4,141.9 282.5,141.8 282.7,141.7 282.9,141.7 283.0,141.7 283.2,141.7 283.3,141.7 283.5,141.8 283.7,141.9 283.8,142.0 284.0,142.1 284.1,142.2 284.3,142.4 284.5,142.5 284.6,142.5 284.8,142.6 284.9,142.6 285.1,142.7 285.3,142.8 285.4,142.9 285.6,143.0 285.8,143.1 285.9,143.2 286.1,143.4 286.2,143.5 286.4,143.7 286.6,143.9 286.7,144.1 286.9,144.2 287.0,144.4 287.2,144.6 287.4,144.8 287.5,144.9 287.7,145.1 287.8,145.2 288.0,145.3 288.2,145.4 288.3,145.5 288.5,145.5 288.6,145.5 288.8,145.5 289.0,145.5 289.1,145.4 289.3,145.3 289.4,145.1 289.6,145.0 289.8,144.8 289.9,144.5 290.1,144.3 290.3,144.0 290.4,143.7 290.6,143.4 290.7,143.1 290.9,142.7 291.1,142.4 291.2,142.0 291.4,141.7 291.5,141.4 291.7,141.4 291.9,141.4 292.0,141.4 292.2,141.5 292.3,141.6 292.5,141.7 292.7,141.9 292.8,142.2 293.0,142.4 293.1,142.7 293.3,143.0 293.5,143.4 293.6,143.8 293.8,144.2 293.9,144.6 294.1,145.1 294.3,145.6 294.4,146.0 294.6,146.5 294.8,147.0 294.9,147.4 295.1,147.8 295.2,148.0 295.4,148.2 295.6,148.4 295.7,148.5 295.9,148.7 296.0,148.8 296.2,148.8 296.4,148.9 296.5,148.9 296.7,148.9 296.8,148.8 297.0,148.7 297.2,148.6 297.3,148.5 297.5,148.3 297.6,148.1 297.8,147.8 298.0,147.6 298.1,147.3 298.3,147.0 298.4,146.7 298.6,146.4 298.8,146.1 298.9,145.8 299.1,145.5 299.3,145.2 299.4,144.9 299.6,144.6 299.7,144.5 299.9,144.5 300.1,144.5 300.2,144.5 300.4,144.5 300.5,144.6 300.7,144.7 300.9,144.9 301.0,145.0 301.2,145.2 301.3,145.4 301.5,145.6 301.7,145.8 301.8,146.1 302.0,146.3 302.1,146.5 302.3,146.8 302.5,147.0 302.6,147.2 302.8,147.4 302.9,147.6 303.1,147.7 303.3,147.8 303.4,147.8 303.6,147.8 303.8,147.8 303.9,147.8 304.1,147.8 304.2,147.8 304.4,147.7 304.6,147.7 304.7,147.7 304.9,147.6 305.0,147.6 305.2,147.5 305.4,147.5 305.5,147.4 305.7,147.3 305.8,147.2 306.0,147.1 306.2,146.9 306.3,146.8 306.5,146.7 306.6,146.5 306.8,146.3 307.0,146.2 307.1,146.0 307.3,145.8 307.5,145.7 307.6,145.5 307.8,145.3 307.9,145.1 308.1,144.9 308.3,144.7 308.4,144.5 308.6,144.3 308.7,144.2 308.9,144.0 309.1,143.9 309.2,143.7 309.4,143.6 309.5,143.5 309.7,143.4 309.9,143.4 310.0,143.3 310.2,143.3 310.3,143.3 310.5,143.3 310.7,143.4 310.8,143.4 311.0,143.5 311.1,143.5 311.3,143.6 311.5,143.7 311.6,143.8 311.8,143.8 312.0,143.9 312.1,143.9 312.3,144.0 312.4,144.0 312.6,144.0 312.8,144.0 312.9,143.9 313.1,143.9 313.2,143.8 313.4,143.7 313.6,143.6 313.7,143.4 313.9,143.3 314.0,143.1 314.2,142.8 314.4,142.6 314.5,142.3 314.7,142.1 314.8,141.8 315.0,141.4 315.2,141.1 315.3,140.8 315.5,140.5 315.6,140.1 315.8,139.8 316.0,139.6 316.1,139.6 316.3,139.6 316.5,139.6 316.6,139.6 316.8,139.6 316.9,139.7 317.1,139.8 317.3,139.9 317.4,140.1 317.6,140.3 317.7,140.5 317.9,140.7 318.1,140.9 318.2,141.2 318.4,141.5 318.5,141.8 318.7,142.1 318.9,142.4 319.0,142.8 319.2,143.1 319.3,143.5 319.5,143.8 319.7,144.2 319.8,144.6 320.0,144.9 320.1,145.2 320.3,145.6 320.5,145.9 320.6,146.2 320.8,146.3 321.0,146.5 321.1,146.7 321.3,146.8 321.4,146.9 321.6,147.0 321.8,147.0 321.9,147.1 322.1,147.1 322.2,147.1 322.4,147.0 322.6,147.0 322.7,146.9 322.9,146.9 323.0,146.8 323.2,146.7 323.4,146.6 323.5,146.5 323.7,146.3 323.8,146.2 324.0,146.1 324.2,146.0 324.3,145.9 324.5,145.8 324.6,145.7 324.8,145.7 325.0,145.6 325.1,145.6 325.3,145.5 325.5,145.5 325.6,145.4 325.8,145.4 325.9,145.5 326.1,145.5 326.3,145.6 326.4,145.6 326.6,145.7 326.7,145.9 326.9,146.0 327.1,146.2 327.2,146.3 327.4,146.5 327.5,146.7 327.7,146.9 327.9,147.1 328.0,147.3 328.2,147.6 328.3,147.8 328.5,148.0 328.7,148.2 328.8,148.3 329.0,148.5 329.1,148.7 329.3,148.8 329.5,148.9 329.6,149.0 329.8,149.1 330.0,149.1 330.1,149.1 330.3,149.1 330.4,149.1 330.6,149.0 330.8,149.0 330.9,148.9 331.1,148.7 331.2,148.6 331.4,148.4 331.6,148.3 331.7,148.1 331.9,147.9 332.0,147.7 332.2,147.5 332.4,147.2 332.5,146.9 332.7,146.7 332.8,146.4 333.0,146.1 333.2,145.9 333.3,145.7 333.5,145.5 333.7,145.3 333.8,145.2 334.0,145.1 334.1,145.0 334.3,144.9 334.5,144.9 334.6,144.9 334.8,144.9 334.9,144.9 335.1,145.0 335.3,145.1 335.4,145.2 335.6,145.4 335.7,145.5 335.9,145.7 336.1,145.9 336.2,146.1 336.4,146.3 336.5,146.5 336.7,146.7 336.9,146.8 337.0,147.0 337.2,147.2 337.3,147.3 337.5,147.4 337.7,147.5 337.8,147.5 338.0,147.5 338.2,147.5 338.3,147.5 338.5,147.4 338.6,147.3 338.8,147.2 339.0,147.0 339.1,146.8 339.3,146.5 339.4,146.3 339.6,146.0 339.8,145.7 339.9,145.5 340.1,145.2 340.2,144.9 340.4,144.7 340.6,144.4 340.7,144.2 340.9,144.0 341.0,143.8 341.2,143.7 341.4,143.5 341.5,143.4 341.7,143.3 341.8,143.3 342.0,143.2 342.2,143.2 342.3,143.3 342.5,143.3 342.7,143.3 342.8,143.4 343.0,143.5 343.1,143.6 343.3,143.7 343.5,143.8 343.6,143.9 343.8,144.0 343.9,144.1 344.1,144.1 344.3,144.1 344.4,144.2 344.6,144.2 344.7,144.3 344.9,144.4 345.1,144.5 345.2,144.6 345.4,144.7 345.5,144.7 345.7,144.8 345.9,144.9 346.0,144.9 346.2,145.0 346.3,145.0 346.5,145.0 346.7,144.9 346.8,144.9 347.0,144.8 347.2,144.7 347.3,144.6 347.5,144.4 347.6,144.2 347.8,144.0 348.0,143.8 348.1,143.5 348.3,143.2 348.4,142.9 348.6,142.6 348.8,142.3 348.9,142.0 349.1,141.6 349.2,141.3 349.4,141.0 349.6,140.7 349.7,140.4 349.9,140.1 350.0,139.8 350.2,139.6 350.4,139.4 350.5,139.2 350.7,139.1 350.8,139.0 351.0,139.2 351.2,139.4 351.3,139.6 351.5,139.9 351.7,140.1 351.8,140.4 352.0,140.7 352.1,141.1 352.3,141.4 352.5,141.7 352.6,142.1 352.8,142.4 352.9,142.7 353.1,143.1 353.3,143.3 353.4,143.6 353.6,143.9 353.7,144.1 353.9,144.3 354.1,144.5 354.2,144.6 354.4,144.7 354.5,144.8 354.7,144.9 354.9,144.9 355.0,145.0 355.2,144.9 355.3,144.9 355.5,144.9 355.7,144.8 355.8,144.7 356.0,144.7 356.2,144.6 356.3,144.5 356.5,144.4 356.6,144.3 356.8,144.2 357.0,144.2 357.1,144.1 357.3,144.0 357.4,144.0 357.6,144.0 357.8,144.0 357.9,143.9 358.1,143.9 358.2,143.9 358.4,143.9 358.6,143.9 358.7,143.9 358.9,143.9 359.0,143.9 359.2,144.0 359.4,144.1 359.5,144.1 359.7,144.3 359.8,144.4 360.0,144.6 360.2,144.7 360.3,145.0 360.5,145.2 360.7,145.4 360.8,145.7 361.0,146.0 361.1,146.3 361.3,146.5 361.5,146.9 361.6,147.2 361.8,147.5 361.9,147.8 362.1,148.1" fill="none" stroke="#fd9528" stroke-width="4.2" stroke-linejoin="round"/>
<path d="M217.6,217.8 217.8,217.8 218.0,217.8 218.2,217.8 218.4,217.8 218.6,217.7 218.8,217.7 219.0,217.7 219.3,217.7 219.5,217.7 219.7,217.7 219.9,217.6 220.1,217.6 220.3,217.6 220.5,217.6 220.7,217.6 220.9,217.5 221.1,217.5 221.3,217.5 221.5,217.5 221.7,217.5 221.9,217.4 222.1,217.4 222.4,217.4 222.6,217.4 222.8,217.4 223.0,217.3 223.2,217.3 223.4,217.3 223.6,217.2 223.8,217.2 224.0,217.1 224.2,217.1 224.4,217.0 224.6,217.0 224.8,216.9 225.0,216.8 225.2,216.8 225.5,216.7 225.7,216.7 225.9,216.6 226.1,216.5 226.3,216.5 226.5,216.4 226.7,216.4 226.9,216.3 227.1,216.2 227.3,216.2 227.5,216.1 227.7,216.1 227.9,216.0 228.1,215.9 228.3,215.9 228.6,215.8 228.8,215.8 229.0,215.7 229.2,215.6 229.4,215.6 229.6,215.5 229.8,215.4 230.0,215.4 230.2,215.3 230.4,215.2 230.6,215.1 230.8,215.1 231.0,215.0 231.2,214.9 231.5,214.8 231.7,214.7 231.9,214.7 232.1,214.6 232.3,214.5 232.5,214.4 232.7,214.3 232.9,214.2 233.1,214.2 233.3,214.1 233.5,214.0 233.7,213.9 233.9,213.8 234.1,213.7 234.3,213.7 234.6,213.6 234.8,213.5 235.0,213.4 235.2,213.3 235.4,213.2 235.6,213.2 235.8,213.1 236.0,213.0 236.2,212.9 236.4,212.8 236.6,212.7 236.8,212.6 237.0,212.5 237.2,212.4 237.4,212.3 237.7,212.2 237.9,212.1 238.1,212.0 238.3,211.9 238.5,211.8 238.7,211.7 238.9,211.6 239.1,211.5 239.3,211.4 239.5,211.2 239.7,211.1 239.9,211.0 240.1,210.9 240.3,210.8 240.5,210.7 240.8,210.6 241.0,210.5 241.2,210.4 241.4,210.3 241.6,210.2 241.8,210.1 242.0,210.0 242.2,209.9 242.4,209.8 242.6,209.6 242.8,209.5 243.0,209.4 243.2,209.3 243.4,209.2 243.6,209.0 243.9,208.9 244.1,208.8 244.3,208.6 244.5,208.5 244.7,208.3 244.9,208.2 245.1,208.1 245.3,207.9 245.5,207.8 245.7,207.6 245.9,207.5 246.1,207.4 246.3,207.2 246.5,207.1 246.7,206.9 247.0,206.8 247.2,206.7 247.4,206.5 247.6,206.4 247.8,206.2 248.0,206.1 248.2,205.9 248.4,205.7 248.6,205.6 248.8,205.4 249.0,205.2 249.2,205.0 249.4,204.8 249.6,204.7 249.8,204.5 250.1,204.3 250.3,204.1 250.5,203.9 250.7,203.8 250.9,203.6 251.1,203.4 251.3,203.2 251.5,203.0 251.7,202.8 251.9,202.7 252.1,202.5 252.3,202.3 252.5,202.1 252.7,201.9 252.9,201.7 253.2,201.5 253.4,201.4 253.6,201.2 253.8,201.0 254.0,200.8 254.2,200.6 254.4,200.4 254.6,200.2 254.8,200.0 255.0,199.9 255.2,199.7 255.4,199.5 255.6,199.3 255.8,199.1 256.1,198.9 256.3,198.7 256.5,198.6 256.7,198.4 256.9,198.2 257.1,198.0 257.3,197.8 257.5,197.6 257.7,197.4 257.9,197.3 258.1,197.1 258.3,196.9 258.5,196.7 258.7,196.5 258.9,196.3 259.2,196.1 259.4,195.9 259.6,195.7 259.8,195.6 260.0,195.4 260.2,195.2 260.4,195.0 260.6,194.8 260.8,194.6 261.0,194.4 261.2,194.2 261.4,194.0 261.6,193.8 261.8,193.6 262.0,193.4 262.3,193.2 262.5,193.0 262.7,192.8 262.9,192.6 263.1,192.5 263.3,192.3 263.5,192.1 263.7,191.9 263.9,191.7 264.1,191.5 264.3,191.3 264.5,191.1 264.7,190.9 264.9,190.7 265.1,190.5 265.4,190.3 265.6,190.1 265.8,189.9 266.0,189.7 266.2,189.5 266.4,189.3 266.6,189.2 266.8,189.0 267.0,188.8 267.2,188.6 267.4,188.4 267.6,188.2 267.8,188.0 268.0,187.8 268.2,187.6 268.5,187.4 268.7,187.2 268.9,187.0 269.1,186.8 269.3,186.6 269.5,186.4 269.7,186.2 269.9,186.0 270.1,185.8 270.3,185.6 270.5,185.4 270.7,185.2 270.9,185.0 271.1,184.8 271.3,184.6 271.6,184.4 271.8,184.2 272.0,184.0 272.2,183.8 272.4,183.6 272.6,183.4 272.8,183.2 273.0,183.0 273.2,182.8 273.4,182.6 273.6,182.5 273.8,182.3 274.0,182.1 274.2,181.9 274.4,181.7 274.7,181.6 274.9,181.4 275.1,181.2 275.3,181.0 275.5,180.9 275.7,180.7 275.9,180.5 276.1,180.3 276.3,180.1 276.5,179.8 276.7,179.6 276.9,179.4 277.1,179.2 277.3,178.9 277.5,178.7 277.8,178.4 278.0,178.2 278.2,177.9 278.4,177.7 278.6,177.4 278.8,177.2 279.0,177.0 279.2,176.8 279.4,176.6 279.6,176.4 279.8,176.2 280.0,176.0 280.2,175.8 280.4,175.6 280.7,175.5 280.9,175.3 281.1,175.1 281.3,174.9 281.5,174.8 281.7,174.6 281.9,174.4 282.1,174.2 282.3,173.9 282.5,173.7 282.7,173.5 282.9,173.2 283.1,173.0 283.3,172.7 283.5,172.4 283.8,172.2 284.0,171.9 284.2,171.7 284.4,171.4 284.6,171.1 284.8,170.9 285.0,170.7 285.2,170.4 285.4,170.2 285.6,170.0 285.8,169.9 286.0,169.7 286.2,169.5 286.4,169.4 286.6,169.3 286.9,169.2 287.1,169.0 287.3,168.9 287.5,168.8 287.7,168.7 287.9,168.5 288.1,168.4 288.3,168.2 288.5,168.1 288.7,167.9 288.9,167.7 289.1,167.4 289.3,167.2 289.5,166.9 289.7,166.7 290.0,166.4 290.2,166.1 290.4,165.8 290.6,165.5 290.8,165.2 291.0,164.9 291.2,164.6 291.4,164.4 291.6,164.2 291.8,163.9 292.0,163.7 292.2,163.5 292.4,163.4 292.6,163.2 292.8,163.1 293.1,163.0 293.3,162.9 293.5,162.8 293.7,162.7 293.9,162.6 294.1,162.5 294.3,162.4 294.5,162.3 294.7,162.2 294.9,162.0 295.1,161.8 295.3,161.6 295.5,161.4 295.7,161.1 295.9,160.8 296.2,160.6 296.4,160.2 296.6,159.9 296.8,159.6 297.0,159.3 297.2,159.0 297.4,158.7 297.6,158.5 297.8,158.2 298.0,158.0 298.2,157.8 298.4,157.7 298.6,157.5 298.8,157.4 299.0,157.3 299.3,157.2 299.5,157.2 299.7,157.2 299.9,157.1" fill="none" stroke="#d45e16" stroke-width="2.4" stroke-linejoin="round"/>
<path d="M299.0,157.3 299.3,157.2 299.5,157.2 299.7,157.2 299.9,157.1 300.1,157.1 300.3,157.1 300.5,157.1 300.7,157.0 300.9,157.0 301.1,156.9 301.3,156.8 301.5,156.7 301.7,156.5 301.9,156.4 302.2,156.2 302.4,155.9 302.6,155.7 302.8,155.4 303.0,155.2 303.2,154.9 303.4,154.6 303.6,154.3 303.8,154.0 304.0,153.8 304.2,153.6 304.4,153.3 304.6,153.1 304.8,153.0 305.0,152.9 305.3,152.7 305.5,152.7 305.7,152.6 305.9,152.6 306.1,152.6 306.3,152.6 306.5,152.6 306.7,152.6 306.9,152.6 307.1,152.6 307.3,152.5 307.5,152.5 307.7,152.4 307.9,152.4 308.1,152.2 308.4,152.1 308.6,151.9 308.8,151.7 309.0,151.5 309.2,151.3 309.4,151.0 309.6,150.8 309.8,150.5 310.0,150.2 310.2,150.0 310.4,149.7 310.6,149.5 310.8,149.3 311.0,149.1 311.2,149.0 311.5,148.9 311.7,148.8 311.9,148.7 312.1,148.7 312.3,148.6 312.5,148.6 312.7,148.7 312.9,148.7 313.1,148.7 313.3,148.7 313.5,148.7 313.7,148.7 313.9,148.7 314.1,148.7 314.3,148.6 314.6,148.5 314.8,148.4 315.0,148.3 315.2,148.1 315.4,147.9 315.6,147.7 315.8,147.4 316.0,147.1 316.2,146.9 316.4,146.6 316.6,146.3 316.8,146.0 317.0,145.8 317.2,145.5 317.4,145.3 317.7,145.1 317.9,144.9 318.1,144.8 318.3,144.7 318.5,144.6 318.7,144.6 318.9,144.5 319.1,144.5 319.3,144.5 319.5,144.5 319.7,144.5 319.9,144.5 320.1,144.5 320.3,144.5 320.5,144.5 320.8,144.5 321.0,144.5 321.2,144.4 321.4,144.3 321.6,144.2 321.8,144.1 322.0,143.9 322.2,143.7 322.4,143.5 322.6,143.3 322.8,143.1 323.0,142.9 323.2,142.7 323.4,142.5 323.6,142.3 323.9,142.2 324.1,142.1 324.3,142.0 324.5,141.9 324.7,141.8 324.9,141.8 325.1,141.8 325.3,141.9 325.5,141.9 325.7,142.0 325.9,142.0 326.1,142.1 326.3,142.1 326.5,142.2 326.8,142.2 327.0,142.2 327.2,142.2 327.4,142.2 327.6,142.2 327.8,142.1 328.0,142.0 328.2,141.8 328.4,141.6 328.6,141.5 328.8,141.3 329.0,141.1 329.2,140.9 329.4,140.7 329.6,140.5 329.9,140.3 330.1,140.1 330.3,140.0 330.5,139.9 330.7,139.8 330.9,139.7 331.1,139.7 331.3,139.7 331.5,139.7 331.7,139.7 331.9,139.8 332.1,139.9 332.3,139.9 332.5,140.0 332.7,140.1 333.0,140.2 333.2,140.3 333.4,140.3 333.6,140.4 333.8,140.4 334.0,140.4 334.2,140.3 334.4,140.2 334.6,140.1 334.8,140.0 335.0,139.9 335.2,139.7 335.4,139.5 335.6,139.3 335.8,139.1 336.1,139.0 336.3,138.8 336.5,138.7 336.7,138.5 336.9,138.4 337.1,138.4 337.3,138.4 337.5,138.4 337.7,138.4 337.9,138.5 338.1,138.6 338.3,138.7 338.5,138.8 338.7,139.0 338.9,139.1 339.2,139.3 339.4,139.4 339.6,139.6 339.8,139.7 340.0,139.8 340.2,139.9 340.4,139.9 340.6,140.0 340.8,140.0 341.0,140.0 341.2,139.9 341.4,139.8 341.6,139.7 341.8,139.6 342.0,139.5 342.3,139.4 342.5,139.3 342.7,139.2 342.9,139.2 343.1,139.1 343.3,139.1 343.5,139.0 343.7,139.1 343.9,139.1 344.1,139.2 344.3,139.3 344.5,139.4 344.7,139.5 344.9,139.7 345.1,139.9 345.4,140.1 345.6,140.3 345.8,140.4 346.0,140.6 346.2,140.8 346.4,141.0 346.6,141.1 346.8,141.2 347.0,141.3 347.2,141.3 347.4,141.4 347.6,141.4 347.8,141.3 348.0,141.3 348.2,141.3 348.5,141.2 348.7,141.1 348.9,141.0 349.1,141.0 349.3,140.9 349.5,140.9 349.7,140.9 349.9,140.9 350.1,140.9 350.3,140.9 350.5,141.0 350.7,141.1 350.9,141.2 351.1,141.4 351.4,141.6 351.6,141.8 351.8,142.0 352.0,142.2 352.2,142.4 352.4,142.6 352.6,142.8 352.8,142.9 353.0,143.1 353.2,143.2 353.4,143.4 353.6,143.4 353.8,143.5 354.0,143.5 354.2,143.5 354.5,143.5 354.7,143.5 354.9,143.4 355.1,143.4 355.3,143.3 355.5,143.2 355.7,143.2 355.9,143.1 356.1,143.1 356.3,143.1 356.5,143.1 356.7,143.1 356.9,143.2 357.1,143.3 357.3,143.4 357.6,143.5 357.8,143.7 358.0,143.9 358.2,144.1 358.4,144.3 358.6,144.5 358.8,144.7 359.0,145.0 359.2,145.2 359.4,145.5 359.6,145.7 359.8,145.9 360.0,146.1 360.2,146.3 360.4,146.4 360.7,146.5 360.9,146.6 361.1,146.7 361.3,146.8 361.5,146.8 361.7,146.8 361.9,146.8 362.1,146.7" fill="none" stroke="#d45e16" stroke-width="3.2" stroke-linejoin="round"/>
</g>
<rect x="217.60" y="132.25" width="144.50" height="89.20" fill="none" stroke="#111" stroke-width="1.1"/>
<text transform="translate(221.77,154.55) scale(1.2380,1)" style="font-family:'Liberation Sans',sans-serif;font-weight:bold;font-size:11.801px;fill:#111;stroke:#111;stroke-width:0.25px">(f)</text>
<rect x="250.65" y="160.8" width="103.9" height="51.9" rx="2" ry="2" fill="#fff" fill-opacity="0.8" stroke="#ccc" stroke-width="0.9"/>
<path d="M254.15,169.95H277.85" stroke="#fed47a" stroke-width="2.1"/>
<path d="M254.15,186.10H277.85" stroke="#fd9528" stroke-width="2.1"/>
<path d="M254.15,202.70H277.85" stroke="#d45e16" stroke-width="2.1"/>
<path d="M286.70,164.40V174.90" stroke="#222" stroke-width="0.70"/>
<text transform="translate(288.69,172.79) scale(0.9642,1)" style="font-family:'Liberation Serif',serif;font-style:normal;font-weight:normal;font-size:11.114px;fill:#111" >00</text>
<path d="M300.10,164.40L302.50,169.65L300.10,174.90" fill="none" stroke="#222" stroke-width="0.65" stroke-linejoin="miter" stroke-miterlimit="10"/>
<text transform="translate(304.13,173.50) scale(1.0464,1)" style="font-family:'Liberation Sans',sans-serif;font-style:normal;font-weight:normal;font-size:7.268px;fill:#111" >T</text>
<path d="M328.60,164.40V174.90" stroke="#222" stroke-width="0.70"/>
<text transform="translate(330.59,172.79) scale(0.9642,1)" style="font-family:'Liberation Serif',serif;font-style:normal;font-weight:normal;font-size:11.114px;fill:#111" >00</text>
<path d="M342.00,164.40L344.40,169.65L342.00,174.90" fill="none" stroke="#222" stroke-width="0.65" stroke-linejoin="miter" stroke-miterlimit="10"/>
<text transform="translate(346.03,173.50) scale(1.0464,1)" style="font-family:'Liberation Sans',sans-serif;font-style:normal;font-weight:normal;font-size:7.268px;fill:#111" >T</text>
<path d="M314.00,169.45H322.80" stroke="#333" stroke-width="0.5"/>
<path d="M315.80,166.95Q314.90,168.85 313.50,169.45Q314.90,170.05 315.80,171.95" fill="none" stroke="#222" stroke-width="0.7"/>
<path d="M321.00,166.95Q321.90,168.85 323.30,169.45Q321.90,170.05 321.00,171.95" fill="none" stroke="#222" stroke-width="0.7"/>
<path d="M286.70,180.70V191.20" stroke="#222" stroke-width="0.70"/>
<text transform="translate(288.08,189.20) scale(1.0227,1)" style="font-family:'Liberation Serif',serif;font-style:normal;font-weight:normal;font-size:11.361px;fill:#111" >11</text>
<path d="M300.10,180.70L302.50,185.95L300.10,191.20" fill="none" stroke="#222" stroke-width="0.65" stroke-linejoin="miter" stroke-miterlimit="10"/>
<text transform="translate(304.13,189.80) scale(1.0464,1)" style="font-family:'Liberation Sans',sans-serif;font-style:normal;font-weight:normal;font-size:7.268px;fill:#111" >T</text>
<path d="M328.60,180.70V191.20" stroke="#222" stroke-width="0.70"/>
<text transform="translate(329.98,189.20) scale(1.0227,1)" style="font-family:'Liberation Serif',serif;font-style:normal;font-weight:normal;font-size:11.361px;fill:#111" >11</text>
<path d="M342.00,180.70L344.40,185.95L342.00,191.20" fill="none" stroke="#222" stroke-width="0.65" stroke-linejoin="miter" stroke-miterlimit="10"/>
<text transform="translate(346.03,189.80) scale(1.0464,1)" style="font-family:'Liberation Sans',sans-serif;font-style:normal;font-weight:normal;font-size:7.268px;fill:#111" >T</text>
<path d="M314.00,185.75H322.80" stroke="#333" stroke-width="0.5"/>
<path d="M315.80,183.25Q314.90,185.15 313.50,185.75Q314.90,186.35 315.80,188.25" fill="none" stroke="#222" stroke-width="0.7"/>
<path d="M321.00,183.25Q321.90,185.15 323.30,185.75Q321.90,186.35 321.00,188.25" fill="none" stroke="#222" stroke-width="0.7"/>
<path d="M286.70,197.00V207.50" stroke="#222" stroke-width="0.70"/>
<text transform="translate(288.68,205.39) scale(0.9877,1)" style="font-family:'Liberation Serif',serif;font-style:normal;font-weight:normal;font-size:11.114px;fill:#111" >01</text>
<path d="M300.10,197.00L302.50,202.25L300.10,207.50" fill="none" stroke="#222" stroke-width="0.65" stroke-linejoin="miter" stroke-miterlimit="10"/>
<text transform="translate(304.13,206.10) scale(1.0464,1)" style="font-family:'Liberation Sans',sans-serif;font-style:normal;font-weight:normal;font-size:7.268px;fill:#111" >T</text>
<path d="M328.60,197.00V207.50" stroke="#222" stroke-width="0.70"/>
<text transform="translate(330.00,205.39) scale(1.0191,1)" style="font-family:'Liberation Serif',serif;font-style:normal;font-weight:normal;font-size:11.114px;fill:#111" >10</text>
<path d="M342.00,197.00L344.40,202.25L342.00,207.50" fill="none" stroke="#222" stroke-width="0.65" stroke-linejoin="miter" stroke-miterlimit="10"/>
<text transform="translate(346.03,206.10) scale(1.0464,1)" style="font-family:'Liberation Sans',sans-serif;font-style:normal;font-weight:normal;font-size:7.268px;fill:#111" >T</text>
<path d="M314.00,202.05H322.80" stroke="#333" stroke-width="0.5"/>
<path d="M315.80,199.55Q314.90,201.45 313.50,202.05Q314.90,202.65 315.80,204.55" fill="none" stroke="#222" stroke-width="0.7"/>
<path d="M321.00,199.55Q321.90,201.45 323.30,202.05Q321.90,202.65 321.00,204.55" fill="none" stroke="#222" stroke-width="0.7"/>
<path d="M378.70,221.45v-3.50M378.70,132.25v3.50M389.82,221.45v-2.00M389.82,132.25v2.00M400.93,221.45v-2.00M400.93,132.25v2.00M412.05,221.45v-2.00M412.05,132.25v2.00M423.16,221.45v-2.00M423.16,132.25v2.00M434.28,221.45v-3.50M434.28,132.25v3.50M445.39,221.45v-2.00M445.39,132.25v2.00M456.51,221.45v-2.00M456.51,132.25v2.00M467.62,221.45v-2.00M467.62,132.25v2.00M478.74,221.45v-2.00M478.74,132.25v2.00M489.85,221.45v-3.50M489.85,132.25v3.50M500.97,221.45v-2.00M500.97,132.25v2.00M512.08,221.45v-2.00M512.08,132.25v2.00M523.20,221.45v-2.00M523.20,132.25v2.00M378.70,217.40h3.50M523.20,217.40h-3.50M378.70,209.29h2.00M523.20,209.29h-2.00M378.70,201.18h2.00M523.20,201.18h-2.00M378.70,193.07h2.00M523.20,193.07h-2.00M378.70,184.96h2.00M523.20,184.96h-2.00M378.70,176.85h3.50M523.20,176.85h-3.50M378.70,168.74h2.00M523.20,168.74h-2.00M378.70,160.63h2.00M523.20,160.63h-2.00M378.70,152.52h2.00M523.20,152.52h-2.00M378.70,144.41h2.00M523.20,144.41h-2.00M378.70,136.30h3.50M523.20,136.30h-3.50" stroke="#111" stroke-width="1.0" fill="none"/>
<clipPath id="c21"><rect x="378.70" y="132.25" width="144.50" height="89.20"/></clipPath>
<g clip-path="url(#c21)">
<path d="M378.70,135.9H523.20" stroke="#b0dea9" stroke-width="2.2"/>
<path d="M378.7,135.6 378.9,135.6 379.1,135.7 379.3,135.7 379.5,135.8 379.7,135.8 379.9,135.9 380.1,136.0 380.4,136.1 380.6,136.2 380.8,136.3 381.0,136.4 381.2,136.5 381.4,136.7 381.6,136.8 381.8,136.9 382.0,137.0 382.2,137.2 382.4,137.3 382.6,137.5 382.8,137.6 383.0,137.6 383.2,137.4 383.5,137.3 383.7,137.1 383.9,137.0 384.1,136.9 384.3,136.7 384.5,136.6 384.7,136.5 384.9,136.4 385.1,136.3 385.3,136.2 385.5,136.1 385.7,136.0 385.9,135.9 386.1,135.8 386.3,135.8 386.6,135.7 386.8,135.6 387.0,135.6 387.2,135.6 387.4,135.6 387.6,135.6 387.8,135.6 388.0,135.6 388.2,135.6 388.4,135.6 388.6,135.6 388.8,135.7 389.0,135.7 389.2,135.8 389.4,135.9 389.7,136.0 389.9,136.1 390.1,136.1 390.3,136.2 390.5,136.4 390.7,136.5 390.9,136.6 391.1,136.7 391.3,136.8 391.5,137.0 391.7,137.1 391.9,137.3 392.1,137.4 392.3,137.5 392.6,137.6 392.8,137.5 393.0,137.3 393.2,137.2 393.4,137.1 393.6,136.9 393.8,136.8 394.0,136.7 394.2,136.5 394.4,136.4 394.6,136.3 394.8,136.2 395.0,136.1 395.2,136.0 395.4,135.9 395.7,135.9 395.9,135.8 396.1,135.7 396.3,135.7 396.5,135.6 396.7,135.6 396.9,135.6 397.1,135.6 397.3,135.6 397.5,135.6 397.7,135.6 397.9,135.6 398.1,135.6 398.3,135.7 398.5,135.7 398.8,135.8 399.0,135.8 399.2,135.9 399.4,136.0 399.6,136.1 399.8,136.2 400.0,136.3 400.2,136.4 400.4,136.5 400.6,136.7 400.8,136.8 401.0,136.9 401.2,137.0 401.4,137.2 401.6,137.3 401.9,137.5 402.1,137.6 402.3,137.5 402.5,137.4 402.7,137.3 402.9,137.1 403.1,137.0 403.3,136.9 403.5,136.7 403.7,136.6 403.9,136.5 404.1,136.4 404.3,136.3 404.5,136.2 404.7,136.1 405.0,136.0 405.2,135.9 405.4,135.8 405.6,135.8 405.8,135.7 406.0,135.6 406.2,135.6 406.4,135.6 406.6,135.6 406.8,135.6 407.0,135.6 407.2,135.6 407.4,135.6 407.6,135.6 407.8,135.6 408.1,135.7 408.3,135.7 408.5,135.8 408.7,135.9 408.9,136.0 409.1,136.1 409.3,136.1 409.5,136.3 409.7,136.4 409.9,136.5 410.1,136.6 410.3,136.7 410.5,136.9 410.7,137.0 410.9,137.1 411.2,137.3 411.4,137.4 411.6,137.5 411.8,137.6 412.0,137.5 412.2,137.3 412.4,137.2 412.6,137.1 412.8,136.9 413.0,136.8 413.2,136.7 413.4,136.5 413.6,136.4 413.8,136.3 414.0,136.2 414.3,136.1 414.5,136.0 414.7,135.9 414.9,135.9 415.1,135.8 415.3,135.7 415.5,135.7 415.7,135.6 415.9,135.6 416.1,135.6 416.3,135.6 416.5,135.6 416.7,135.6 416.9,135.6 417.2,135.6 417.4,135.6 417.6,135.7 417.8,135.7 418.0,135.8 418.2,135.8 418.4,135.9 418.6,136.0 418.8,136.1 419.0,136.2 419.2,136.3 419.4,136.4 419.6,136.5 419.8,136.7 420.0,136.8 420.3,136.9 420.5,137.1 420.7,137.2 420.9,137.3 421.1,137.5 421.3,137.6 421.5,137.5 421.7,137.4 421.9,137.3 422.1,137.1 422.3,137.0 422.5,136.9 422.7,136.7 422.9,136.6 423.1,136.5 423.4,136.4 423.6,136.3 423.8,136.2 424.0,136.1 424.2,136.0 424.4,135.9 424.6,135.8 424.8,135.7 425.0,135.7 425.2,135.6 425.4,135.6 425.6,135.6 425.8,135.6 426.0,135.6 426.2,135.6 426.5,135.6 426.7,135.6 426.9,135.6 427.1,135.6 427.3,135.7 427.5,135.7 427.7,135.8 427.9,135.9 428.1,136.0 428.3,136.1 428.5,136.2 428.7,136.3 428.9,136.4 429.1,136.5 429.3,136.6 429.6,136.7 429.8,136.9 430.0,137.0 430.2,137.1 430.4,137.3 430.6,137.4 430.8,137.5 431.0,137.6 431.2,137.5 431.4,137.3 431.6,137.2 431.8,137.1 432.0,136.9 432.2,136.8 432.4,136.7 432.7,136.5 432.9,136.4 433.1,136.3 433.3,136.2 433.5,136.1 433.7,136.0 433.9,135.9 434.1,135.8 434.3,135.8 434.5,135.7 434.7,135.7 434.9,135.6 435.1,135.6 435.3,135.6 435.5,135.6 435.8,135.6 436.0,135.6 436.2,135.6 436.4,135.6 436.6,135.6 436.8,135.7 437.0,135.7 437.2,135.8 437.4,135.8 437.6,135.9 437.8,136.0 438.0,136.1 438.2,136.2 438.4,136.3 438.6,136.4 438.9,136.5 439.1,136.7 439.3,136.8 439.5,136.9 439.7,137.1 439.9,137.2 440.1,137.3 440.3,137.5 440.5,137.6 440.7,137.5 440.9,137.4 441.1,137.3 441.3,137.1 441.5,137.0 441.8,136.9 442.0,136.7 442.2,136.6 442.4,136.5 442.6,136.4 442.8,136.3 443.0,136.2 443.2,136.1 443.4,136.0 443.6,135.9 443.8,135.8 444.0,135.7 444.2,135.7 444.4,135.6 444.6,135.6 444.9,135.6 445.1,135.6 445.3,135.6 445.5,135.6 445.7,135.6 445.9,135.6 446.1,135.6 446.3,135.6 446.5,135.7 446.7,135.8 446.9,135.8 447.1,135.9 447.3,136.0 447.5,136.1 447.7,136.2 448.0,136.3 448.2,136.4 448.4,136.5 448.6,136.6 448.8,136.7 449.0,136.9 449.2,137.0 449.4,137.1 449.6,137.3 449.8,137.4 450.0,137.5 450.2,137.6 450.4,137.5 450.6,137.3 450.8,137.2 451.1,137.1 451.3,136.9 451.5,136.8 451.7,136.7 451.9,136.5 452.1,136.4 452.3,136.3 452.5,136.2 452.7,136.1 452.9,136.0 453.1,135.9 453.3,135.8 453.5,135.8 453.7,135.7 453.9,135.7 454.2,135.6 454.4,135.6 454.6,135.6 454.8,135.6 455.0,135.6 455.2,135.6 455.4,135.6 455.6,135.6 455.8,135.6 456.0,135.7 456.2,135.7 456.4,135.8 456.6,135.9 456.8,135.9 457.0,136.0 457.3,136.1 457.5,136.2 457.7,136.3 457.9,136.4 458.1,136.5 458.3,136.7 458.5,136.8 458.7,136.9 458.9,137.1 459.1,137.2 459.3,137.3 459.5,137.5 459.7,137.6 459.9,137.5 460.1,137.4 460.4,137.3 460.6,137.1 460.8,137.0 461.0,136.8 461.2,136.7 461.4,136.6 461.6,136.5 461.8,136.4 462.0,136.3 462.2,136.1 462.4,136.1 462.6,136.0 462.8,135.9 463.0,135.8 463.3,135.7 463.5,135.7 463.7,135.6 463.9,135.6 464.1,135.6 464.3,135.6 464.5,135.6 464.7,135.6 464.9,135.6 465.1,135.6 465.3,135.6 465.5,135.6 465.7,135.7 465.9,135.8 466.1,135.8 466.4,135.9 466.6,136.0 466.8,136.1 467.0,136.2 467.2,136.3 467.4,136.4 467.6,136.5 467.8,136.6 468.0,136.7 468.2,136.9 468.4,137.0 468.6,137.1 468.8,137.3 469.0,137.4 469.2,137.6 469.5,137.6 469.7,137.5 469.9,137.3 470.1,137.2 470.3,137.0 470.5,136.9 470.7,136.8 470.9,136.7 471.1,136.5 471.3,136.4 471.5,136.3 471.7,136.2 471.9,136.1 472.1,136.0 472.3,135.9 472.6,135.8 472.8,135.8 473.0,135.7 473.2,135.7 473.4,135.6 473.6,135.6 473.8,135.6 474.0,135.6 474.2,135.6 474.4,135.6 474.6,135.6 474.8,135.6 475.0,135.6 475.2,135.7 475.4,135.7 475.7,135.8 475.9,135.9 476.1,135.9 476.3,136.0 476.5,136.1 476.7,136.2 476.9,136.3 477.1,136.4 477.3,136.5 477.5,136.7 477.7,136.8 477.9,136.9 478.1,137.1 478.3,137.2 478.5,137.3 478.8,137.5 479.0,137.6 479.2,137.5 479.4,137.4 479.6,137.3 479.8,137.1 480.0,137.0 480.2,136.8 480.4,136.7 480.6,136.6 480.8,136.5 481.0,136.4 481.2,136.2 481.4,136.1 481.6,136.1 481.9,136.0 482.1,135.9 482.3,135.8 482.5,135.7 482.7,135.7 482.9,135.6 483.1,135.6 483.3,135.6 483.5,135.6 483.7,135.6 483.9,135.6 484.1,135.6 484.3,135.6 484.5,135.6 484.7,135.6 485.0,135.7 485.2,135.8 485.4,135.8 485.6,135.9 485.8,136.0 486.0,136.1 486.2,136.2 486.4,136.3 486.6,136.4 486.8,136.5 487.0,136.6 487.2,136.7 487.4,136.9 487.6,137.0 487.9,137.1 488.1,137.3 488.3,137.4 488.5,137.6 488.7,137.6 488.9,137.5 489.1,137.3 489.3,137.2 489.5,137.0 489.7,136.9 489.9,136.8 490.1,136.7 490.3,136.5 490.5,136.4 490.7,136.3 491.0,136.2 491.2,136.1 491.4,136.0 491.6,135.9 491.8,135.8 492.0,135.8 492.2,135.7 492.4,135.7 492.6,135.6 492.8,135.6 493.0,135.6 493.2,135.6 493.4,135.6 493.6,135.6 493.8,135.6 494.1,135.6 494.3,135.6 494.5,135.7 494.7,135.7 494.9,135.8 495.1,135.9 495.3,135.9 495.5,136.0 495.7,136.1 495.9,136.2 496.1,136.3 496.3,136.4 496.5,136.5 496.7,136.7 496.9,136.8 497.2,136.9 497.4,137.1 497.6,137.2 497.8,137.3 498.0,137.5 498.2,137.6 498.4,137.5 498.6,137.4 498.8,137.2 499.0,137.1 499.2,137.0 499.4,136.8 499.6,136.7 499.8,136.6 500.0,136.5 500.3,136.4 500.5,136.2 500.7,136.1 500.9,136.0 501.1,136.0 501.3,135.9 501.5,135.8 501.7,135.7 501.9,135.7 502.1,135.6 502.3,135.6 502.5,135.6 502.7,135.6 502.9,135.6 503.1,135.6 503.4,135.6 503.6,135.6 503.8,135.6 504.0,135.7 504.2,135.7 504.4,135.8 504.6,135.8 504.8,135.9 505.0,136.0 505.2,136.1 505.4,136.2 505.6,136.3 505.8,136.4 506.0,136.5 506.2,136.6 506.5,136.7 506.7,136.9 506.9,137.0 507.1,137.1 507.3,137.3 507.5,137.4 507.7,137.6 507.9,137.6 508.1,137.5 508.3,137.3 508.5,137.2 508.7,137.0 508.9,136.9 509.1,136.8 509.3,136.6 509.6,136.5 509.8,136.4 510.0,136.3 510.2,136.2 510.4,136.1 510.6,136.0 510.8,135.9 511.0,135.8 511.2,135.8 511.4,135.7 511.6,135.7 511.8,135.6 512.0,135.6 512.2,135.6 512.5,135.6 512.7,135.6 512.9,135.6 513.1,135.6 513.3,135.6 513.5,135.6 513.7,135.7 513.9,135.7 514.1,135.8 514.3,135.9 514.5,135.9 514.7,136.0 514.9,136.1 515.1,136.2 515.3,136.3 515.6,136.4 515.8,136.6 516.0,136.7 516.2,136.8 516.4,136.9 516.6,137.1 516.8,137.2 517.0,137.3 517.2,137.5 517.4,137.6 517.6,137.5 517.8,137.4 518.0,137.2 518.2,137.1 518.4,137.0 518.7,136.8 518.9,136.7 519.1,136.6 519.3,136.5 519.5,136.4 519.7,136.2 519.9,136.1 520.1,136.0 520.3,136.0 520.5,135.9 520.7,135.8 520.9,135.7 521.1,135.7 521.3,135.6 521.5,135.6 521.8,135.6 522.0,135.6 522.2,135.6 522.4,135.6 522.6,135.6 522.8,135.6 523.0,135.6 523.2,135.7 L523.2,141.9 523.0,142.0 522.8,142.0 522.6,142.0 522.4,142.0 522.2,142.0 522.0,142.0 521.8,142.0 521.5,142.0 521.3,142.0 521.1,141.9 520.9,141.9 520.7,141.8 520.5,141.7 520.3,141.6 520.1,141.6 519.9,141.5 519.7,141.4 519.5,141.2 519.3,141.1 519.1,141.0 518.9,140.9 518.7,140.8 518.4,140.6 518.2,140.5 518.0,140.4 517.8,140.2 517.6,140.1 517.4,140.0 517.2,140.1 517.0,140.3 516.8,140.4 516.6,140.5 516.4,140.7 516.2,140.8 516.0,140.9 515.8,141.0 515.6,141.2 515.3,141.3 515.1,141.4 514.9,141.5 514.7,141.6 514.5,141.7 514.3,141.7 514.1,141.8 513.9,141.9 513.7,141.9 513.5,142.0 513.3,142.0 513.1,142.0 512.9,142.0 512.7,142.0 512.5,142.0 512.2,142.0 512.0,142.0 511.8,142.0 511.6,141.9 511.4,141.9 511.2,141.8 511.0,141.8 510.8,141.7 510.6,141.6 510.4,141.5 510.2,141.4 510.0,141.3 509.8,141.2 509.6,141.1 509.3,141.0 509.1,140.8 508.9,140.7 508.7,140.6 508.5,140.4 508.3,140.3 508.1,140.1 507.9,140.0 507.7,140.0 507.5,140.2 507.3,140.3 507.1,140.5 506.9,140.6 506.7,140.7 506.5,140.9 506.2,141.0 506.0,141.1 505.8,141.2 505.6,141.3 505.4,141.4 505.2,141.5 505.0,141.6 504.8,141.7 504.6,141.8 504.4,141.8 504.2,141.9 504.0,141.9 503.8,142.0 503.6,142.0 503.4,142.0 503.1,142.0 502.9,142.0 502.7,142.0 502.5,142.0 502.3,142.0 502.1,142.0 501.9,141.9 501.7,141.9 501.5,141.8 501.3,141.7 501.1,141.6 500.9,141.6 500.7,141.5 500.5,141.4 500.3,141.2 500.0,141.1 499.8,141.0 499.6,140.9 499.4,140.8 499.2,140.6 499.0,140.5 498.8,140.4 498.6,140.2 498.4,140.1 498.2,140.0 498.0,140.1 497.8,140.3 497.6,140.4 497.4,140.5 497.2,140.7 496.9,140.8 496.7,140.9 496.5,141.1 496.3,141.2 496.1,141.3 495.9,141.4 495.7,141.5 495.5,141.6 495.3,141.7 495.1,141.7 494.9,141.8 494.7,141.9 494.5,141.9 494.3,142.0 494.1,142.0 493.8,142.0 493.6,142.0 493.4,142.0 493.2,142.0 493.0,142.0 492.8,142.0 492.6,142.0 492.4,141.9 492.2,141.9 492.0,141.8 491.8,141.8 491.6,141.7 491.4,141.6 491.2,141.5 491.0,141.4 490.7,141.3 490.5,141.2 490.3,141.1 490.1,140.9 489.9,140.8 489.7,140.7 489.5,140.6 489.3,140.4 489.1,140.3 488.9,140.1 488.7,140.0 488.5,140.0 488.3,140.2 488.1,140.3 487.9,140.5 487.6,140.6 487.4,140.7 487.2,140.9 487.0,141.0 486.8,141.1 486.6,141.2 486.4,141.3 486.2,141.4 486.0,141.5 485.8,141.6 485.6,141.7 485.4,141.8 485.2,141.8 485.0,141.9 484.7,142.0 484.5,142.0 484.3,142.0 484.1,142.0 483.9,142.0 483.7,142.0 483.5,142.0 483.3,142.0 483.1,142.0 482.9,142.0 482.7,141.9 482.5,141.9 482.3,141.8 482.1,141.7 481.9,141.6 481.6,141.5 481.4,141.5 481.2,141.4 481.0,141.2 480.8,141.1 480.6,141.0 480.4,140.9 480.2,140.8 480.0,140.6 479.8,140.5 479.6,140.3 479.4,140.2 479.2,140.1 479.0,140.0 478.8,140.1 478.5,140.3 478.3,140.4 478.1,140.5 477.9,140.7 477.7,140.8 477.5,140.9 477.3,141.1 477.1,141.2 476.9,141.3 476.7,141.4 476.5,141.5 476.3,141.6 476.1,141.7 475.9,141.7 475.7,141.8 475.4,141.9 475.2,141.9 475.0,142.0 474.8,142.0 474.6,142.0 474.4,142.0 474.2,142.0 474.0,142.0 473.8,142.0 473.6,142.0 473.4,142.0 473.2,141.9 473.0,141.9 472.8,141.8 472.6,141.8 472.3,141.7 472.1,141.6 471.9,141.5 471.7,141.4 471.5,141.3 471.3,141.2 471.1,141.1 470.9,140.9 470.7,140.8 470.5,140.7 470.3,140.6 470.1,140.4 469.9,140.3 469.7,140.1 469.5,140.0 469.2,140.0 469.0,140.2 468.8,140.3 468.6,140.5 468.4,140.6 468.2,140.7 468.0,140.9 467.8,141.0 467.6,141.1 467.4,141.2 467.2,141.3 467.0,141.4 466.8,141.5 466.6,141.6 466.4,141.7 466.1,141.8 465.9,141.8 465.7,141.9 465.5,142.0 465.3,142.0 465.1,142.0 464.9,142.0 464.7,142.0 464.5,142.0 464.3,142.0 464.1,142.0 463.9,142.0 463.7,142.0 463.5,141.9 463.3,141.9 463.0,141.8 462.8,141.7 462.6,141.6 462.4,141.5 462.2,141.5 462.0,141.3 461.8,141.2 461.6,141.1 461.4,141.0 461.2,140.9 461.0,140.8 460.8,140.6 460.6,140.5 460.4,140.3 460.1,140.2 459.9,140.1 459.7,140.0 459.5,140.1 459.3,140.3 459.1,140.4 458.9,140.5 458.7,140.7 458.5,140.8 458.3,140.9 458.1,141.1 457.9,141.2 457.7,141.3 457.5,141.4 457.3,141.5 457.0,141.6 456.8,141.7 456.6,141.7 456.4,141.8 456.2,141.9 456.0,141.9 455.8,142.0 455.6,142.0 455.4,142.0 455.2,142.0 455.0,142.0 454.8,142.0 454.6,142.0 454.4,142.0 454.2,142.0 453.9,141.9 453.7,141.9 453.5,141.8 453.3,141.8 453.1,141.7 452.9,141.6 452.7,141.5 452.5,141.4 452.3,141.3 452.1,141.2 451.9,141.1 451.7,140.9 451.5,140.8 451.3,140.7 451.1,140.5 450.8,140.4 450.6,140.3 450.4,140.1 450.2,140.0 450.0,140.1 449.8,140.2 449.6,140.3 449.4,140.5 449.2,140.6 449.0,140.7 448.8,140.9 448.6,141.0 448.4,141.1 448.2,141.2 448.0,141.3 447.7,141.4 447.5,141.5 447.3,141.6 447.1,141.7 446.9,141.8 446.7,141.8 446.5,141.9 446.3,142.0 446.1,142.0 445.9,142.0 445.7,142.0 445.5,142.0 445.3,142.0 445.1,142.0 444.9,142.0 444.6,142.0 444.4,142.0 444.2,141.9 444.0,141.9 443.8,141.8 443.6,141.7 443.4,141.6 443.2,141.5 443.0,141.4 442.8,141.3 442.6,141.2 442.4,141.1 442.2,141.0 442.0,140.9 441.8,140.7 441.5,140.6 441.3,140.5 441.1,140.3 440.9,140.2 440.7,140.1 440.5,140.0 440.3,140.1 440.1,140.3 439.9,140.4 439.7,140.5 439.5,140.7 439.3,140.8 439.1,140.9 438.9,141.1 438.6,141.2 438.4,141.3 438.2,141.4 438.0,141.5 437.8,141.6 437.6,141.7 437.4,141.8 437.2,141.8 437.0,141.9 436.8,141.9 436.6,142.0 436.4,142.0 436.2,142.0 436.0,142.0 435.8,142.0 435.5,142.0 435.3,142.0 435.1,142.0 434.9,142.0 434.7,141.9 434.5,141.9 434.3,141.8 434.1,141.8 433.9,141.7 433.7,141.6 433.5,141.5 433.3,141.4 433.1,141.3 432.9,141.2 432.7,141.1 432.4,140.9 432.2,140.8 432.0,140.7 431.8,140.5 431.6,140.4 431.4,140.3 431.2,140.1 431.0,140.0 430.8,140.1 430.6,140.2 430.4,140.3 430.2,140.5 430.0,140.6 429.8,140.7 429.6,140.9 429.3,141.0 429.1,141.1 428.9,141.2 428.7,141.3 428.5,141.4 428.3,141.5 428.1,141.6 427.9,141.7 427.7,141.8 427.5,141.9 427.3,141.9 427.1,142.0 426.9,142.0 426.7,142.0 426.5,142.0 426.2,142.0 426.0,142.0 425.8,142.0 425.6,142.0 425.4,142.0 425.2,142.0 425.0,141.9 424.8,141.9 424.6,141.8 424.4,141.7 424.2,141.6 424.0,141.5 423.8,141.4 423.6,141.3 423.4,141.2 423.1,141.1 422.9,141.0 422.7,140.9 422.5,140.7 422.3,140.6 422.1,140.5 421.9,140.3 421.7,140.2 421.5,140.1 421.3,140.0 421.1,140.1 420.9,140.3 420.7,140.4 420.5,140.5 420.3,140.7 420.0,140.8 419.8,140.9 419.6,141.1 419.4,141.2 419.2,141.3 419.0,141.4 418.8,141.5 418.6,141.6 418.4,141.7 418.2,141.8 418.0,141.8 417.8,141.9 417.6,141.9 417.4,142.0 417.2,142.0 416.9,142.0 416.7,142.0 416.5,142.0 416.3,142.0 416.1,142.0 415.9,142.0 415.7,142.0 415.5,141.9 415.3,141.9 415.1,141.8 414.9,141.7 414.7,141.7 414.5,141.6 414.3,141.5 414.0,141.4 413.8,141.3 413.6,141.2 413.4,141.1 413.2,140.9 413.0,140.8 412.8,140.7 412.6,140.5 412.4,140.4 412.2,140.3 412.0,140.1 411.8,140.0 411.6,140.1 411.4,140.2 411.2,140.3 410.9,140.5 410.7,140.6 410.5,140.7 410.3,140.9 410.1,141.0 409.9,141.1 409.7,141.2 409.5,141.3 409.3,141.5 409.1,141.5 408.9,141.6 408.7,141.7 408.5,141.8 408.3,141.9 408.1,141.9 407.8,142.0 407.6,142.0 407.4,142.0 407.2,142.0 407.0,142.0 406.8,142.0 406.6,142.0 406.4,142.0 406.2,142.0 406.0,142.0 405.8,141.9 405.6,141.8 405.4,141.8 405.2,141.7 405.0,141.6 404.7,141.5 404.5,141.4 404.3,141.3 404.1,141.2 403.9,141.1 403.7,141.0 403.5,140.9 403.3,140.7 403.1,140.6 402.9,140.5 402.7,140.3 402.5,140.2 402.3,140.1 402.1,140.0 401.9,140.1 401.6,140.3 401.4,140.4 401.2,140.6 401.0,140.7 400.8,140.8 400.6,140.9 400.4,141.1 400.2,141.2 400.0,141.3 399.8,141.4 399.6,141.5 399.4,141.6 399.2,141.7 399.0,141.8 398.8,141.8 398.5,141.9 398.3,141.9 398.1,142.0 397.9,142.0 397.7,142.0 397.5,142.0 397.3,142.0 397.1,142.0 396.9,142.0 396.7,142.0 396.5,142.0 396.3,141.9 396.1,141.9 395.9,141.8 395.7,141.7 395.4,141.7 395.2,141.6 395.0,141.5 394.8,141.4 394.6,141.3 394.4,141.2 394.2,141.1 394.0,140.9 393.8,140.8 393.6,140.7 393.4,140.5 393.2,140.4 393.0,140.3 392.8,140.1 392.6,140.0 392.3,140.1 392.1,140.2 391.9,140.3 391.7,140.5 391.5,140.6 391.3,140.8 391.1,140.9 390.9,141.0 390.7,141.1 390.5,141.2 390.3,141.4 390.1,141.5 389.9,141.5 389.7,141.6 389.4,141.7 389.2,141.8 389.0,141.9 388.8,141.9 388.6,142.0 388.4,142.0 388.2,142.0 388.0,142.0 387.8,142.0 387.6,142.0 387.4,142.0 387.2,142.0 387.0,142.0 386.8,142.0 386.6,141.9 386.3,141.8 386.1,141.8 385.9,141.7 385.7,141.6 385.5,141.5 385.3,141.4 385.1,141.3 384.9,141.2 384.7,141.1 384.5,141.0 384.3,140.9 384.1,140.7 383.9,140.6 383.7,140.5 383.5,140.3 383.2,140.2 383.0,140.0 382.8,140.0 382.6,140.1 382.4,140.3 382.2,140.4 382.0,140.6 381.8,140.7 381.6,140.8 381.4,140.9 381.2,141.1 381.0,141.2 380.8,141.3 380.6,141.4 380.4,141.5 380.1,141.6 379.9,141.7 379.7,141.8 379.5,141.8 379.3,141.9 379.1,141.9 378.9,142.0 378.7,142.0Z" fill="#45ad5f"/>
<path d="M378.70,217.9H523.20" stroke="#08542a" stroke-width="2.1"/>
</g>
<rect x="378.70" y="132.25" width="144.50" height="89.20" fill="none" stroke="#111" stroke-width="1.1"/>
<text transform="translate(382.87,154.55) scale(1.2380,1)" style="font-family:'Liberation Sans',sans-serif;font-weight:bold;font-size:11.801px;fill:#111;stroke:#111;stroke-width:0.25px">(g)</text>
<rect x="411.75" y="160.8" width="103.9" height="51.9" rx="2" ry="2" fill="#fff" fill-opacity="0.8" stroke="#ccc" stroke-width="0.9"/>
<path d="M415.25,169.95H438.95" stroke="#b0dea9" stroke-width="2.1"/>
<path d="M415.25,186.10H438.95" stroke="#45ad5f" stroke-width="2.1"/>
<path d="M415.25,202.70H438.95" stroke="#08542a" stroke-width="2.1"/>
<path d="M447.80,164.40V174.90" stroke="#222" stroke-width="0.70"/>
<text transform="translate(449.79,172.79) scale(0.9642,1)" style="font-family:'Liberation Serif',serif;font-style:normal;font-weight:normal;font-size:11.114px;fill:#111" >00</text>
<path d="M461.20,164.40L463.60,169.65L461.20,174.90" fill="none" stroke="#222" stroke-width="0.65" stroke-linejoin="miter" stroke-miterlimit="10"/>
<text transform="translate(465.23,173.50) scale(1.0464,1)" style="font-family:'Liberation Sans',sans-serif;font-style:normal;font-weight:normal;font-size:7.268px;fill:#111" >T</text>
<path d="M489.70,164.40V174.90" stroke="#222" stroke-width="0.70"/>
<text transform="translate(491.69,172.79) scale(0.9642,1)" style="font-family:'Liberation Serif',serif;font-style:normal;font-weight:normal;font-size:11.114px;fill:#111" >00</text>
<path d="M503.10,164.40L505.50,169.65L503.10,174.90" fill="none" stroke="#222" stroke-width="0.65" stroke-linejoin="miter" stroke-miterlimit="10"/>
<text transform="translate(507.13,173.50) scale(1.0464,1)" style="font-family:'Liberation Sans',sans-serif;font-style:normal;font-weight:normal;font-size:7.268px;fill:#111" >T</text>
<path d="M475.10,169.45H483.90" stroke="#333" stroke-width="0.5"/>
<path d="M476.90,166.95Q476.00,168.85 474.60,169.45Q476.00,170.05 476.90,171.95" fill="none" stroke="#222" stroke-width="0.7"/>
<path d="M482.10,166.95Q483.00,168.85 484.40,169.45Q483.00,170.05 482.10,171.95" fill="none" stroke="#222" stroke-width="0.7"/>
<path d="M447.80,180.70V191.20" stroke="#222" stroke-width="0.70"/>
<text transform="translate(449.18,189.20) scale(1.0227,1)" style="font-family:'Liberation Serif',serif;font-style:normal;font-weight:normal;font-size:11.361px;fill:#111" >11</text>
<path d="M461.20,180.70L463.60,185.95L461.20,191.20" fill="none" stroke="#222" stroke-width="0.65" stroke-linejoin="miter" stroke-miterlimit="10"/>
<text transform="translate(465.23,189.80) scale(1.0464,1)" style="font-family:'Liberation Sans',sans-serif;font-style:normal;font-weight:normal;font-size:7.268px;fill:#111" >T</text>
<path d="M489.70,180.70V191.20" stroke="#222" stroke-width="0.70"/>
<text transform="translate(491.08,189.20) scale(1.0227,1)" style="font-family:'Liberation Serif',serif;font-style:normal;font-weight:normal;font-size:11.361px;fill:#111" >11</text>
<path d="M503.10,180.70L505.50,185.95L503.10,191.20" fill="none" stroke="#222" stroke-width="0.65" stroke-linejoin="miter" stroke-miterlimit="10"/>
<text transform="translate(507.13,189.80) scale(1.0464,1)" style="font-family:'Liberation Sans',sans-serif;font-style:normal;font-weight:normal;font-size:7.268px;fill:#111" >T</text>
<path d="M475.10,185.75H483.90" stroke="#333" stroke-width="0.5"/>
<path d="M476.90,183.25Q476.00,185.15 474.60,185.75Q476.00,186.35 476.90,188.25" fill="none" stroke="#222" stroke-width="0.7"/>
<path d="M482.10,183.25Q483.00,185.15 484.40,185.75Q483.00,186.35 482.10,188.25" fill="none" stroke="#222" stroke-width="0.7"/>
<path d="M447.80,197.00V207.50" stroke="#222" stroke-width="0.70"/>
<text transform="translate(449.78,205.39) scale(0.9877,1)" style="font-family:'Liberation Serif',serif;font-style:normal;font-weight:normal;font-size:11.114px;fill:#111" >01</text>
<path d="M461.20,197.00L463.60,202.25L461.20,207.50" fill="none" stroke="#222" stroke-width="0.65" stroke-linejoin="miter" stroke-miterlimit="10"/>
<text transform="translate(465.23,206.10) scale(1.0464,1)" style="font-family:'Liberation Sans',sans-serif;font-style:normal;font-weight:normal;font-size:7.268px;fill:#111" >T</text>
<path d="M489.70,197.00V207.50" stroke="#222" stroke-width="0.70"/>
<text transform="translate(491.10,205.39) scale(1.0191,1)" style="font-family:'Liberation Serif',serif;font-style:normal;font-weight:normal;font-size:11.114px;fill:#111" >10</text>
<path d="M503.10,197.00L505.50,202.25L503.10,207.50" fill="none" stroke="#222" stroke-width="0.65" stroke-linejoin="miter" stroke-miterlimit="10"/>
<text transform="translate(507.13,206.10) scale(1.0464,1)" style="font-family:'Liberation Sans',sans-serif;font-style:normal;font-weight:normal;font-size:7.268px;fill:#111" >T</text>
<path d="M475.10,202.05H483.90" stroke="#333" stroke-width="0.5"/>
<path d="M476.90,199.55Q476.00,201.45 474.60,202.05Q476.00,202.65 476.90,204.55" fill="none" stroke="#222" stroke-width="0.7"/>
<path d="M482.10,199.55Q483.00,201.45 484.40,202.05Q483.00,202.65 482.10,204.55" fill="none" stroke="#222" stroke-width="0.7"/>
<path d="M539.75,221.45v-3.50M539.75,132.25v3.50M550.87,221.45v-2.00M550.87,132.25v2.00M561.98,221.45v-2.00M561.98,132.25v2.00M573.10,221.45v-2.00M573.10,132.25v2.00M584.21,221.45v-2.00M584.21,132.25v2.00M595.33,221.45v-3.50M595.33,132.25v3.50M606.44,221.45v-2.00M606.44,132.25v2.00M617.56,221.45v-2.00M617.56,132.25v2.00M628.67,221.45v-2.00M628.67,132.25v2.00M639.79,221.45v-2.00M639.79,132.25v2.00M650.90,221.45v-3.50M650.90,132.25v3.50M662.02,221.45v-2.00M662.02,132.25v2.00M673.13,221.45v-2.00M673.13,132.25v2.00M684.25,221.45v-2.00M684.25,132.25v2.00M539.75,217.40h3.50M684.25,217.40h-3.50M539.75,209.29h2.00M684.25,209.29h-2.00M539.75,201.18h2.00M684.25,201.18h-2.00M539.75,193.07h2.00M684.25,193.07h-2.00M539.75,184.96h2.00M684.25,184.96h-2.00M539.75,176.85h3.50M684.25,176.85h-3.50M539.75,168.74h2.00M684.25,168.74h-2.00M539.75,160.63h2.00M684.25,160.63h-2.00M539.75,152.52h2.00M684.25,152.52h-2.00M539.75,144.41h2.00M684.25,144.41h-2.00M539.75,136.30h3.50M684.25,136.30h-3.50" stroke="#111" stroke-width="1.0" fill="none"/>
<clipPath id="c31"><rect x="539.75" y="132.25" width="144.50" height="89.20"/></clipPath>
<g clip-path="url(#c31)">
<path d="M539.75,136.3H684.25" stroke="#fcab91" stroke-width="2.2"/>
<path d="M539.75,136.8H684.25" stroke="#f0402e" stroke-width="2.2"/>
<path d="M539.75,217.9H684.25" stroke="#7f0a1f" stroke-width="2.1"/>
</g>
<rect x="539.75" y="132.25" width="144.50" height="89.20" fill="none" stroke="#111" stroke-width="1.1"/>
<text transform="translate(543.92,154.55) scale(1.2380,1)" style="font-family:'Liberation Sans',sans-serif;font-weight:bold;font-size:11.801px;fill:#111;stroke:#111;stroke-width:0.25px">(h)</text>
<rect x="572.80" y="160.8" width="103.9" height="51.9" rx="2" ry="2" fill="#fff" fill-opacity="0.8" stroke="#ccc" stroke-width="0.9"/>
<path d="M576.30,169.95H600.00" stroke="#fcab91" stroke-width="2.1"/>
<path d="M576.30,186.10H600.00" stroke="#f0402e" stroke-width="2.1"/>
<path d="M576.30,202.70H600.00" stroke="#7f0a1f" stroke-width="2.1"/>
<path d="M608.90,164.40V174.90" stroke="#222" stroke-width="0.70"/>
<text transform="translate(610.89,172.79) scale(0.9642,1)" style="font-family:'Liberation Serif',serif;font-style:normal;font-weight:normal;font-size:11.114px;fill:#111" >00</text>
<path d="M622.30,164.40L624.70,169.65L622.30,174.90" fill="none" stroke="#222" stroke-width="0.65" stroke-linejoin="miter" stroke-miterlimit="10"/>
<text transform="translate(626.33,173.50) scale(1.0464,1)" style="font-family:'Liberation Sans',sans-serif;font-style:normal;font-weight:normal;font-size:7.268px;fill:#111" >T</text>
<path d="M650.80,164.40V174.90" stroke="#222" stroke-width="0.70"/>
<text transform="translate(652.79,172.79) scale(0.9642,1)" style="font-family:'Liberation Serif',serif;font-style:normal;font-weight:normal;font-size:11.114px;fill:#111" >00</text>
<path d="M664.20,164.40L666.60,169.65L664.20,174.90" fill="none" stroke="#222" stroke-width="0.65" stroke-linejoin="miter" stroke-miterlimit="10"/>
<text transform="translate(668.23,173.50) scale(1.0464,1)" style="font-family:'Liberation Sans',sans-serif;font-style:normal;font-weight:normal;font-size:7.268px;fill:#111" >T</text>
<path d="M636.20,169.45H645.00" stroke="#333" stroke-width="0.5"/>
<path d="M638.00,166.95Q637.10,168.85 635.70,169.45Q637.10,170.05 638.00,171.95" fill="none" stroke="#222" stroke-width="0.7"/>
<path d="M643.20,166.95Q644.10,168.85 645.50,169.45Q644.10,170.05 643.20,171.95" fill="none" stroke="#222" stroke-width="0.7"/>
<path d="M608.90,180.70V191.20" stroke="#222" stroke-width="0.70"/>
<text transform="translate(610.28,189.20) scale(1.0227,1)" style="font-family:'Liberation Serif',serif;font-style:normal;font-weight:normal;font-size:11.361px;fill:#111" >11</text>
<path d="M622.30,180.70L624.70,185.95L622.30,191.20" fill="none" stroke="#222" stroke-width="0.65" stroke-linejoin="miter" stroke-miterlimit="10"/>
<text transform="translate(626.33,189.80) scale(1.0464,1)" style="font-family:'Liberation Sans',sans-serif;font-style:normal;font-weight:normal;font-size:7.268px;fill:#111" >T</text>
<path d="M650.80,180.70V191.20" stroke="#222" stroke-width="0.70"/>
<text transform="translate(652.18,189.20) scale(1.0227,1)" style="font-family:'Liberation Serif',serif;font-style:normal;font-weight:normal;font-size:11.361px;fill:#111" >11</text>
<path d="M664.20,180.70L666.60,185.95L664.20,191.20" fill="none" stroke="#222" stroke-width="0.65" stroke-linejoin="miter" stroke-miterlimit="10"/>
<text transform="translate(668.23,189.80) scale(1.0464,1)" style="font-family:'Liberation Sans',sans-serif;font-style:normal;font-weight:normal;font-size:7.268px;fill:#111" >T</text>
<path d="M636.20,185.75H645.00" stroke="#333" stroke-width="0.5"/>
<path d="M638.00,183.25Q637.10,185.15 635.70,185.75Q637.10,186.35 638.00,188.25" fill="none" stroke="#222" stroke-width="0.7"/>
<path d="M643.20,183.25Q644.10,185.15 645.50,185.75Q644.10,186.35 643.20,188.25" fill="none" stroke="#222" stroke-width="0.7"/>
<path d="M608.90,197.00V207.50" stroke="#222" stroke-width="0.70"/>
<text transform="translate(610.88,205.39) scale(0.9877,1)" style="font-family:'Liberation Serif',serif;font-style:normal;font-weight:normal;font-size:11.114px;fill:#111" >01</text>
<path d="M622.30,197.00L624.70,202.25L622.30,207.50" fill="none" stroke="#222" stroke-width="0.65" stroke-linejoin="miter" stroke-miterlimit="10"/>
<text transform="translate(626.33,206.10) scale(1.0464,1)" style="font-family:'Liberation Sans',sans-serif;font-style:normal;font-weight:normal;font-size:7.268px;fill:#111" >T</text>
<path d="M650.80,197.00V207.50" stroke="#222" stroke-width="0.70"/>
<text transform="translate(652.20,205.39) scale(1.0191,1)" style="font-family:'Liberation Serif',serif;font-style:normal;font-weight:normal;font-size:11.114px;fill:#111" >10</text>
<path d="M664.20,197.00L666.60,202.25L664.20,207.50" fill="none" stroke="#222" stroke-width="0.65" stroke-linejoin="miter" stroke-miterlimit="10"/>
<text transform="translate(668.23,206.10) scale(1.0464,1)" style="font-family:'Liberation Sans',sans-serif;font-style:normal;font-weight:normal;font-size:7.268px;fill:#111" >T</text>
<path d="M636.20,202.05H645.00" stroke="#333" stroke-width="0.5"/>
<path d="M638.00,199.55Q637.10,201.45 635.70,202.05Q637.10,202.65 638.00,204.55" fill="none" stroke="#222" stroke-width="0.7"/>
<path d="M643.20,199.55Q644.10,201.45 645.50,202.05Q644.10,202.65 643.20,204.55" fill="none" stroke="#222" stroke-width="0.7"/>
<text x="52.5" y="115.67" class="tk" text-anchor="end">0</text>
<text x="52.5" y="74.90" class="tk" text-anchor="end">0.5</text>
<text x="52.5" y="34.13" class="tk" text-anchor="end">1</text>
<text x="52.5" y="223.00" class="tk" text-anchor="end">0</text>
<text x="52.5" y="182.45" class="tk" text-anchor="end">0.5</text>
<text x="52.5" y="141.90" class="tk" text-anchor="end">1</text>
<text x="56.75" y="236.3" class="tk" text-anchor="middle">0</text>
<text x="112.33" y="236.3" class="tk" text-anchor="middle">100</text>
<text x="167.90" y="236.3" class="tk" text-anchor="middle">200</text>
<text x="217.90" y="236.3" class="tk" text-anchor="middle">0</text>
<text x="273.48" y="236.3" class="tk" text-anchor="middle">100</text>
<text x="329.05" y="236.3" class="tk" text-anchor="middle">200</text>
<text x="379.00" y="236.3" class="tk" text-anchor="middle">0</text>
<text x="434.58" y="236.3" class="tk" text-anchor="middle">100</text>
<text x="490.15" y="236.3" class="tk" text-anchor="middle">200</text>
<text x="540.05" y="236.3" class="tk" text-anchor="middle">0</text>
<text x="595.63" y="236.3" class="tk" text-anchor="middle">100</text>
<text x="651.20" y="236.3" class="tk" text-anchor="middle">200</text>
<path d="M112.85,2.20V18.30" stroke="#3a3a3a" stroke-width="0.80"/>
<text transform="translate(115.10,14.84) scale(0.9457,1)" style="font-family:'Liberation Serif',serif;font-style:normal;font-weight:normal;font-size:16.597px;fill:#111" >00</text>
<path d="M132.40,2.20L136.40,10.25L132.40,18.30" fill="none" stroke="#222" stroke-width="0.85" stroke-linejoin="miter" stroke-miterlimit="10"/>
<text transform="translate(138.52,16.69) scale(0.8385,1)" style="font-family:'Liberation Sans',sans-serif;font-style:normal;font-weight:normal;font-size:11.299px;fill:#111" >C</text>
<path d="M273.85,2.20V18.30" stroke="#3a3a3a" stroke-width="0.80"/>
<text transform="translate(276.50,14.60) scale(0.9723,1)" style="font-family:'Liberation Serif',serif;font-style:normal;font-weight:normal;font-size:16.360px;fill:#111" >1</text>
<text transform="translate(283.90,14.60) scale(0.9723,1)" style="font-family:'Liberation Serif',serif;font-style:normal;font-weight:normal;font-size:16.360px;fill:#111" >1</text>
<path d="M282.2,1.4 Q283.3,-0.3 284.4,0.6 Q285.5,1.5 286.6,-0.1" fill="none" stroke="#222" stroke-width="0.8"/>
<path d="M293.40,2.20L297.40,10.25L293.40,18.30" fill="none" stroke="#222" stroke-width="0.85" stroke-linejoin="miter" stroke-miterlimit="10"/>
<text transform="translate(299.52,16.69) scale(0.8385,1)" style="font-family:'Liberation Sans',sans-serif;font-style:normal;font-weight:normal;font-size:11.299px;fill:#111" >C</text>
<path d="M431.90,2.20V18.30" stroke="#3a3a3a" stroke-width="0.80"/>
<text transform="translate(435.46,14.40) scale(0.8046,1)" style="font-family:'Liberation Serif',serif;font-style:normal;font-weight:normal;font-size:16.799px;fill:#111" >Ψ</text>
<path d="M447.90,5.7H455.20M451.50,2.2V9.4" stroke="#222" stroke-width="0.85" fill="none"/>
<path d="M458.00,2.20L462.00,10.25L458.00,18.30" fill="none" stroke="#222" stroke-width="0.85" stroke-linejoin="miter" stroke-miterlimit="10"/>
<text transform="translate(463.72,16.69) scale(0.8385,1)" style="font-family:'Liberation Sans',sans-serif;font-style:normal;font-weight:normal;font-size:11.299px;fill:#111" >C</text>
<path d="M593.00,2.20V18.30" stroke="#3a3a3a" stroke-width="0.80"/>
<text transform="translate(596.56,14.40) scale(0.8046,1)" style="font-family:'Liberation Serif',serif;font-style:normal;font-weight:normal;font-size:16.799px;fill:#111" >Ψ</text>
<path d="M609.00,5.6H616.30" stroke="#222" stroke-width="0.85" fill="none"/>
<path d="M619.10,2.20L623.10,10.25L619.10,18.30" fill="none" stroke="#222" stroke-width="0.85" stroke-linejoin="miter" stroke-miterlimit="10"/>
<text transform="translate(624.82,16.69) scale(0.8385,1)" style="font-family:'Liberation Sans',sans-serif;font-style:normal;font-weight:normal;font-size:11.299px;fill:#111" >C</text>
<text transform="translate(10.46,106.51) rotate(-90) scale(0.9426,1)" style="font-family:'Liberation Sans',sans-serif;font-style:normal;font-weight:normal;font-size:14.161px;fill:#111" >Swap fidelity</text>
<text transform="translate(10.46,213.80) rotate(-90) scale(0.9362,1)" style="font-family:'Liberation Sans',sans-serif;font-style:normal;font-weight:normal;font-size:14.161px;fill:#111" >Swap fidelity</text>
<text transform="translate(26.70,98.76) rotate(-90) scale(1.0000,1)" style="font-family:'Liberation Serif',serif;font-style:normal;font-weight:normal;font-size:16.000px;fill:#111" >(</text>
<text transform="translate(26.42,92.89) rotate(-90) scale(1.0000,1)" style="font-family:'Liberation Serif',serif;font-style:italic;font-weight:normal;font-size:14.000px;fill:#111" >J</text>
<text transform="translate(28.50,86.08) rotate(-90) scale(1.0000,1)" style="font-family:'Liberation Sans',sans-serif;font-style:normal;font-weight:normal;font-size:9.600px;fill:#111" >T</text>
<text transform="translate(27.20,73.55) rotate(-90) scale(1.1500,1)" style="font-family:'Liberation Serif',serif;font-style:normal;font-weight:normal;font-size:14.000px;fill:#111" >=</text>
<text transform="translate(26.84,59.70) rotate(-90) scale(1.0000,1)" style="font-family:'Liberation Serif',serif;font-style:normal;font-weight:normal;font-size:14.000px;fill:#111" >0</text>
<text transform="translate(27.05,51.87) rotate(-90) scale(1.0000,1)" style="font-family:'Liberation Serif',serif;font-style:normal;font-weight:normal;font-size:16.000px;fill:#111" >)</text>
<text transform="translate(27.75,212.21) rotate(-90) scale(1.0000,1)" style="font-family:'Liberation Serif',serif;font-style:normal;font-weight:normal;font-size:16.000px;fill:#111" >(</text>
<text transform="translate(27.72,205.94) rotate(-90) scale(1.0000,1)" style="font-family:'Liberation Serif',serif;font-style:italic;font-weight:normal;font-size:14.000px;fill:#111" >J</text>
<text transform="translate(30.15,199.88) rotate(-90) scale(1.0000,1)" style="font-family:'Liberation Sans',sans-serif;font-style:normal;font-weight:normal;font-size:9.600px;fill:#111" >T</text>
<text transform="translate(28.95,187.15) rotate(-90) scale(1.1500,1)" style="font-family:'Liberation Serif',serif;font-style:normal;font-weight:normal;font-size:14.000px;fill:#111" >=</text>
<text transform="translate(27.77,171.84) rotate(-90) scale(1.0000,1)" style="font-family:'Liberation Serif',serif;font-style:italic;font-weight:normal;font-size:14.000px;fill:#111" >J</text>
<text transform="translate(32.20,164.93) rotate(-90) scale(1.0000,1)" style="font-family:'Liberation Sans',sans-serif;font-style:normal;font-weight:normal;font-size:9.600px;fill:#111" >T</text>
<text transform="translate(21.73,164.77) rotate(-90) scale(1.1000,1)" style="font-family:'Liberation Serif',serif;font-style:normal;font-weight:normal;font-size:9.600px;fill:#111" >opt</text>
<text transform="translate(27.70,151.17) rotate(-90) scale(1.0000,1)" style="font-family:'Liberation Serif',serif;font-style:normal;font-weight:normal;font-size:16.000px;fill:#111" >)</text>
<text transform="translate(92.99,254.37) scale(1.0122,1)" style="font-family:'Liberation Sans',sans-serif;font-style:normal;font-weight:normal;font-size:13.489px;fill:#111" >Time,</text>
<text transform="translate(131.41,254.16) scale(1.1140,1)" style="font-family:'Liberation Serif',serif;font-style:italic;font-weight:normal;font-size:14.142px;fill:#111" >t</text>
<text transform="translate(141.79,254.21) scale(0.9417,1)" style="font-family:'Liberation Sans',sans-serif;font-style:normal;font-weight:normal;font-size:13.954px;fill:#111" >(ns)</text>
<text transform="translate(254.09,254.37) scale(1.0122,1)" style="font-family:'Liberation Sans',sans-serif;font-style:normal;font-weight:normal;font-size:13.489px;fill:#111" >Time,</text>
<text transform="translate(292.51,254.16) scale(1.1140,1)" style="font-family:'Liberation Serif',serif;font-style:italic;font-weight:normal;font-size:14.142px;fill:#111" >t</text>
<text transform="translate(302.89,254.21) scale(0.9417,1)" style="font-family:'Liberation Sans',sans-serif;font-style:normal;font-weight:normal;font-size:13.954px;fill:#111" >(ns)</text>
<text transform="translate(415.19,254.37) scale(1.0122,1)" style="font-family:'Liberation Sans',sans-serif;font-style:normal;font-weight:normal;font-size:13.489px;fill:#111" >Time,</text>
<text transform="translate(453.61,254.16) scale(1.1140,1)" style="font-family:'Liberation Serif',serif;font-style:italic;font-weight:normal;font-size:14.142px;fill:#111" >t</text>
<text transform="translate(463.99,254.21) scale(0.9417,1)" style="font-family:'Liberation Sans',sans-serif;font-style:normal;font-weight:normal;font-size:13.954px;fill:#111" >(ns)</text>
<text transform="translate(576.29,254.37) scale(1.0122,1)" style="font-family:'Liberation Sans',sans-serif;font-style:normal;font-weight:normal;font-size:13.489px;fill:#111" >Time,</text>
<text transform="translate(614.71,254.16) scale(1.1140,1)" style="font-family:'Liberation Serif',serif;font-style:italic;font-weight:normal;font-size:14.142px;fill:#111" >t</text>
<text transform="translate(625.09,254.21) scale(0.9417,1)" style="font-family:'Liberation Sans',sans-serif;font-style:normal;font-weight:normal;font-size:13.954px;fill:#111" >(ns)</text>
</svg>
</body></html>
